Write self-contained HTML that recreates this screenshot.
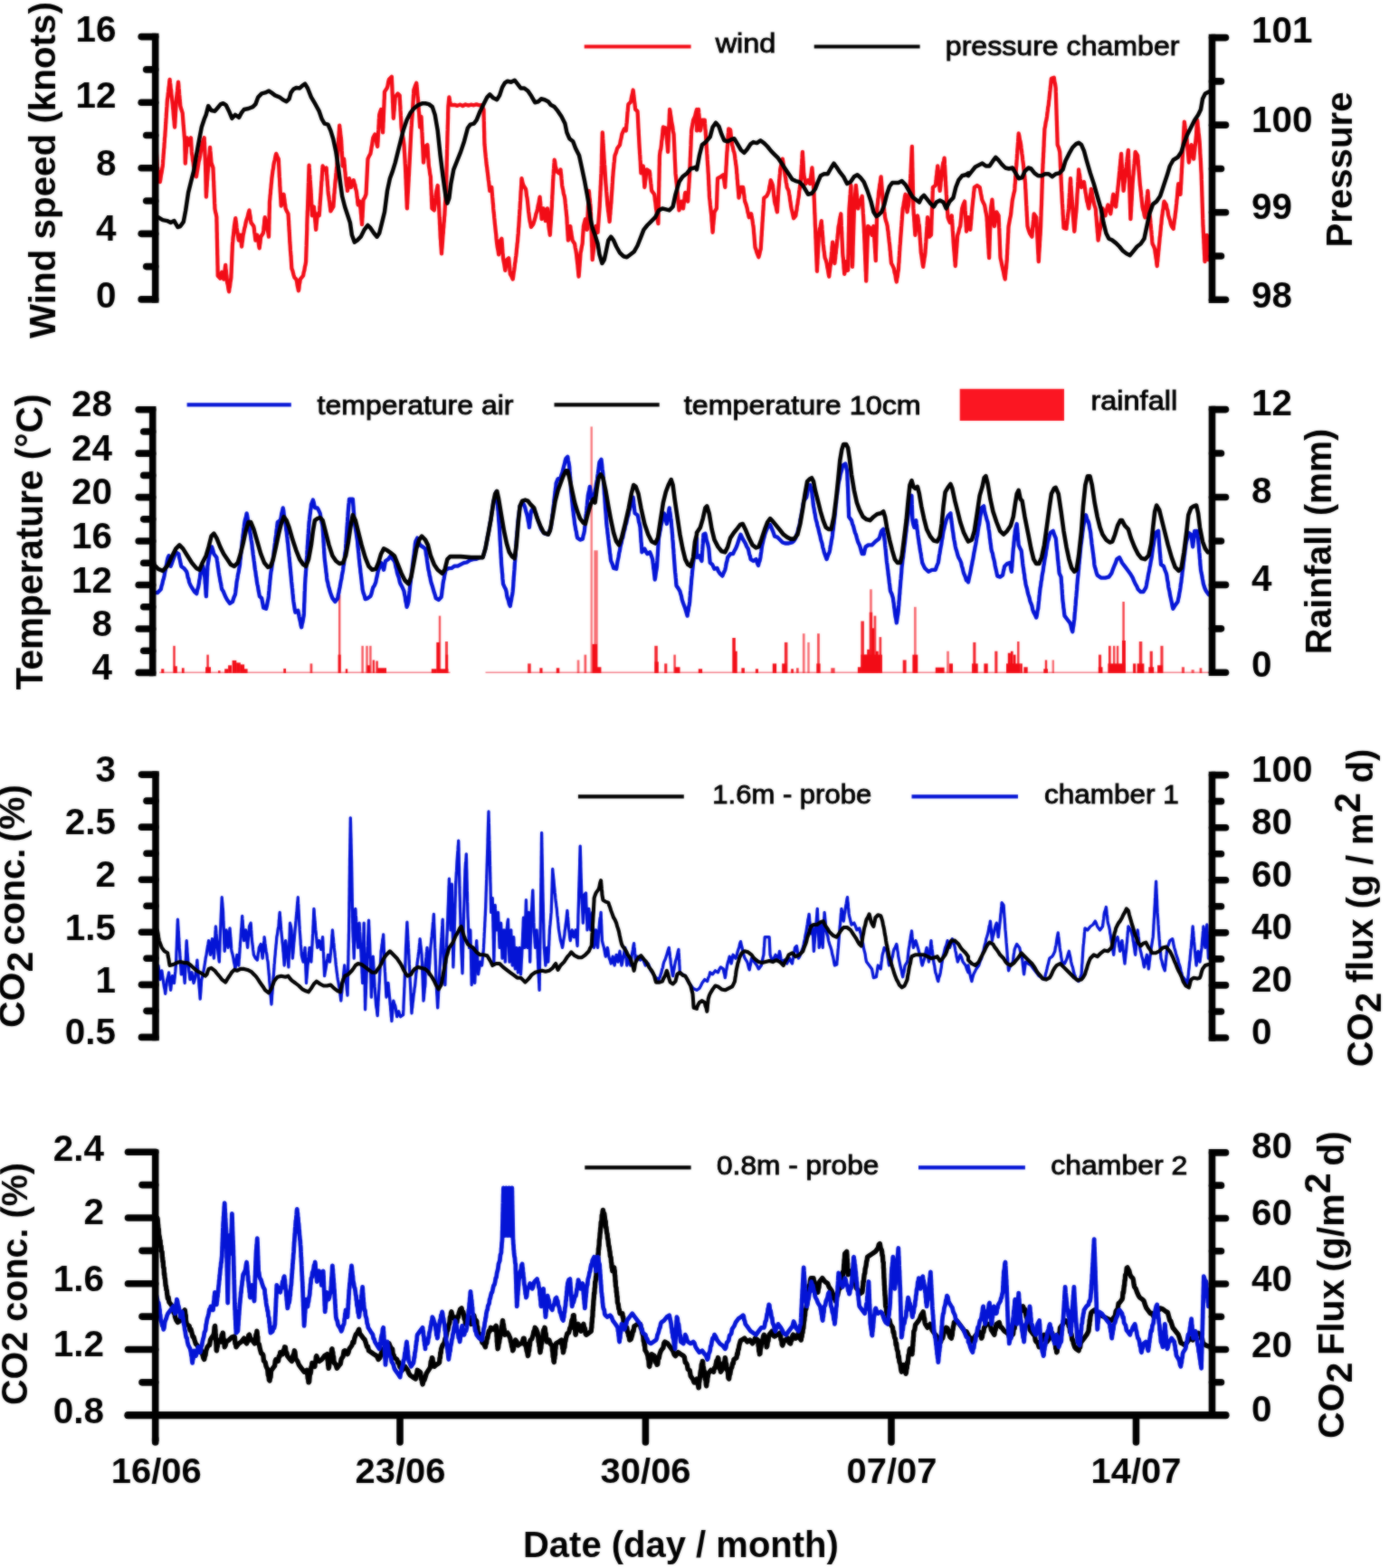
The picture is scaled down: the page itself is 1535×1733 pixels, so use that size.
<!DOCTYPE html>
<html lang="en">
<head>
<meta charset="utf-8">
<title>Wind, pressure, temperature, rainfall and CO2 time series</title>
<style>
html,body{margin:0;padding:0;background:#fff;}
body{width:1535px;height:1733px;overflow:hidden;}
svg{display:block;}
text.b{font-family:"Liberation Sans",Arial,Helvetica,sans-serif;font-weight:700;}
text.r{font-family:"Liberation Sans",Arial,Helvetica,sans-serif;font-weight:400;}
</style>
</head>
<body>
<svg width="1535" height="1733" viewBox="0 0 1535 1733">
<defs>
<filter id="soft" x="0" y="0" width="1535" height="1733" filterUnits="userSpaceOnUse" color-interpolation-filters="sRGB">
<feGaussianBlur in="SourceGraphic" stdDeviation="1" result="b"/>
<feComposite in="SourceGraphic" in2="b" operator="arithmetic" k1="0" k2="0.45" k3="0.55" k4="0"/>
</filter>
</defs>
<g filter="url(#soft)">
<rect x="0" y="0" width="1535" height="1733" fill="#fff"/>
<polyline points="172.0,152.3 172.1,155.1 172.3,159.2 172.5,161.1 172.7,165.4 172.9,167.7 173.1,171.8 173.3,173.4 173.5,177.8 173.7,180.1 173.9,183.5 174.5,187.9 175.1,190.4 175.7,194.9 176.3,197.3 176.8,201.1 177.4,197.8 178.0,193.6 178.6,190.9 179.2,186.7 179.8,183.5 180.0,180.9 180.2,176.7 180.4,175.2 180.7,170.6 180.9,168.8 181.1,164.8 181.4,163.3 181.6,158.7 181.8,156.9 182.0,152.7 182.3,151.0 182.5,147.2 182.7,144.4 182.9,142.1 183.1,137.9 183.3,135.8 183.5,131.5 183.7,129.4 183.9,125.1 184.1,123.1 184.3,119.2 184.5,117.2 184.7,113.2 185.0,109.5 185.4,107.4 185.8,102.9 186.1,101.3 186.5,96.7 186.9,94.7 187.2,90.6 187.6,87.8 188.0,91.8 188.3,93.4 188.7,98.1 189.1,99.7 189.4,104.2 189.8,106.6 190.2,110.6 190.5,113.2 190.8,115.7 191.1,119.7 191.4,121.7 191.7,126.0 191.9,128.2 192.2,131.7 192.5,133.7 192.8,138.3 193.1,140.5 193.3,137.0 193.5,134.9 193.6,131.0 193.8,128.8 194.0,124.6 194.2,122.2 194.4,118.4 194.6,115.8 194.8,111.7 195.0,109.3 195.3,106.6 195.7,102.9 196.0,100.5 196.3,96.6 196.6,94.3 197.0,90.7 197.3,93.4 197.6,97.5 197.9,100.3 198.1,104.2 198.4,106.5 198.7,110.8 199.0,113.0 199.3,117.1 200.5,121.3 201.7,124.9 201.9,127.6 202.2,131.6 202.4,134.1 202.7,138.3 202.9,140.1 203.2,144.1 203.4,146.1 203.7,150.3 203.9,152.2 204.2,156.2 204.3,160.0 204.3,161.7 204.4,166.1 204.5,167.7 204.6,171.9 204.6,174.2 204.7,178.0 204.8,180.6 205.0,177.2 205.2,174.7 205.4,170.7 205.7,168.8 205.9,164.5 206.1,162.6 206.3,158.1 206.5,156.1 206.7,152.3 207.9,155.3 209.1,160.1 210.1,157.0 211.0,152.3 211.2,155.3 211.4,159.6 211.6,162.6 211.8,167.2 212.0,169.9 212.5,172.4 213.0,177.2 213.5,179.2 214.0,183.7 214.5,185.3 215.0,189.4 215.9,192.6 216.9,195.3 217.6,191.1 218.2,187.7 218.9,183.5 219.6,178.9 220.4,176.1 221.2,171.8 221.9,167.2 222.5,164.6 223.2,160.1 224.4,155.9 225.7,152.3 225.8,156.2 226.0,157.7 226.1,162.0 226.2,164.0 226.4,168.6 226.5,170.8 226.7,174.4 226.8,176.4 226.9,180.7 227.1,183.5 227.1,186.3 227.2,190.0 227.3,192.4 227.4,196.8 227.4,198.7 227.5,202.4 227.6,205.1 227.6,209.3 227.7,210.9 227.8,215.0 227.9,217.7 228.1,213.6 228.3,212.0 228.5,207.5 228.7,205.4 228.9,200.6 229.2,198.3 229.4,194.2 229.6,191.4 229.9,188.4 230.2,184.2 230.5,182.6 230.7,177.9 231.0,176.0 231.3,172.1 231.6,170.1 231.9,165.7 232.1,163.0 232.4,166.9 232.7,169.3 233.0,173.3 233.2,175.7 233.5,179.6 234.5,182.8 235.5,185.5 235.6,188.3 235.8,192.4 235.9,194.8 236.0,199.1 236.2,200.7 236.3,205.5 236.4,207.2 236.6,211.4 236.7,213.5 236.9,218.4 237.0,220.0 237.1,224.4 237.3,226.5 237.4,230.4 238.1,234.5 238.7,236.3 239.4,240.2 239.4,243.8 239.5,245.7 239.6,249.8 239.6,251.6 239.7,256.1 239.8,257.8 239.8,262.2 239.9,264.4 240.0,268.5 240.0,270.3 240.1,274.4 240.2,276.8 240.2,280.9 240.3,282.7 240.4,286.6 240.4,288.8 240.5,293.1 240.6,294.8 240.6,298.9 240.7,301.1 240.7,304.7 243.3,307.6 244.3,304.7 245.2,300.8 246.2,303.9 247.2,308.6 247.6,305.9 248.0,302.1 248.4,299.8 248.8,295.8 249.2,293.0 249.5,297.1 249.8,298.8 250.1,303.2 250.5,305.3 250.8,310.1 251.1,312.5 251.8,314.9 252.4,319.3 253.1,322.3 253.5,318.8 254.0,316.8 254.5,312.2 254.9,310.2 255.4,306.7 255.5,303.3 255.7,300.7 255.8,296.6 255.9,294.7 256.1,290.3 256.2,288.8 256.3,284.3 256.4,282.4 256.6,277.9 256.7,276.5 256.8,272.3 257.0,269.5 257.3,266.5 257.6,262.1 257.9,260.4 258.3,256.2 258.6,253.6 258.9,250.0 259.6,245.4 260.3,241.2 260.7,244.9 261.1,246.9 261.5,251.5 261.9,253.9 262.5,257.4 263.2,262.1 263.8,265.6 264.8,262.3 265.8,259.8 266.1,263.7 266.4,265.2 266.8,269.8 267.1,272.5 267.5,268.5 267.9,266.6 268.3,262.7 268.7,259.8 269.4,256.6 270.2,252.3 270.9,250.2 271.6,246.1 272.6,242.4 273.6,239.8 274.6,235.3 275.5,232.4 276.0,236.4 276.5,238.7 277.0,243.1 277.5,246.1 280.4,250.0 280.8,252.4 281.2,256.8 281.6,258.9 282.0,262.7 282.4,265.6 283.4,262.1 284.3,259.8 284.9,264.2 285.5,266.2 286.1,271.5 286.7,274.4 287.1,270.5 287.5,268.5 287.9,264.3 288.2,261.7 290.8,257.8 291.2,254.7 291.6,250.3 292.0,247.7 292.3,243.1 292.7,240.2 293.5,244.3 294.3,246.2 295.1,250.0 295.7,254.5 296.4,257.2 297.0,261.7 297.1,259.3 297.2,254.8 297.3,253.5 297.3,248.9 297.4,247.1 297.5,243.0 297.6,241.2 297.6,236.9 297.7,235.2 297.8,231.1 297.9,229.1 297.9,225.0 298.0,222.6 298.3,220.1 298.6,215.9 298.9,214.2 299.1,210.1 299.4,208.2 299.7,204.1 300.0,201.9 300.3,197.8 300.6,195.3 301.0,192.4 301.5,188.3 302.0,186.3 302.4,182.4 302.9,179.6 303.7,176.7 304.5,172.3 305.2,169.9 306.5,173.1 307.8,175.7 308.0,178.2 308.1,182.3 308.3,184.6 308.5,188.9 308.6,190.9 308.8,195.4 309.0,197.1 309.2,201.1 309.3,205.3 309.5,207.1 309.7,211.6 309.9,214.0 310.1,218.1 310.3,220.6 310.5,224.9 310.7,227.5 311.4,224.1 312.2,221.7 312.9,217.7 313.6,214.8 314.0,218.5 314.4,220.7 314.8,224.9 315.2,226.4 315.6,230.4 317.1,233.8 318.5,236.3 318.7,239.1 318.9,242.6 319.1,244.8 319.2,248.7 319.4,250.6 319.6,255.0 319.8,256.8 320.0,261.1 320.1,262.6 320.3,267.3 320.5,269.5 320.7,272.2 320.9,276.2 321.1,278.2 321.4,282.4 321.6,283.9 321.8,288.1 322.0,290.6 322.2,294.1 322.4,296.9 323.4,299.4 324.4,303.6 325.4,306.7 327.3,308.6 328.0,311.0 328.6,315.3 329.2,317.9 329.9,321.3 330.4,318.8 330.8,314.3 331.3,312.4 331.8,308.6 335.1,304.7 335.7,300.9 336.3,299.1 336.9,295.1 337.5,292.8 338.1,289.1 338.2,285.4 338.3,283.5 338.4,279.5 338.5,277.2 338.6,273.3 338.7,271.4 338.8,267.0 338.9,265.0 339.0,261.3 339.1,259.3 339.2,255.3 339.3,253.2 339.3,248.9 339.4,246.5 339.5,242.8 339.6,240.2 339.7,237.6 339.8,233.3 340.0,231.7 340.1,227.3 340.2,225.2 340.3,221.3 340.4,219.2 340.5,215.2 340.6,213.3 340.7,209.5 340.8,207.3 340.9,203.1 341.0,201.4 341.1,197.1 341.2,195.6 341.3,190.9 341.4,189.2 341.5,184.8 341.6,182.6 341.8,186.0 342.0,188.3 342.2,192.4 342.5,194.9 342.7,198.9 342.9,201.1 343.1,205.0 343.3,207.2 343.6,210.9 343.7,214.2 343.9,216.6 344.0,220.2 344.2,222.5 344.3,226.9 344.5,228.4 344.6,233.0 344.8,234.9 344.9,238.3 345.6,235.6 346.2,231.0 346.9,228.5 347.2,232.4 347.5,234.0 347.8,238.5 348.0,240.3 348.3,244.7 348.6,246.9 348.9,251.5 349.2,253.9 349.5,249.9 349.8,247.1 350.2,242.8 350.5,240.1 350.8,236.3 352.7,238.3 353.0,234.6 353.2,232.4 353.4,228.3 353.6,226.4 353.8,222.9 354.0,220.8 354.3,216.6 354.5,214.5 354.7,210.9 354.9,207.0 355.1,205.5 355.3,200.9 355.6,199.4 355.8,194.8 356.0,193.0 356.2,188.9 356.4,187.1 356.6,183.5 358.6,187.4 360.6,185.5 360.8,187.8 361.0,192.4 361.3,194.2 361.5,198.5 361.8,200.7 362.0,204.8 362.3,206.9 362.5,210.9 362.9,215.0 363.3,216.7 363.8,221.1 364.2,223.0 364.6,227.4 365.0,229.8 365.4,233.4 368.4,228.5 368.6,225.9 368.9,221.6 369.1,219.3 369.3,214.9 369.6,213.2 369.8,209.0 370.1,207.1 370.3,203.1 370.7,199.0 371.0,197.4 371.3,192.8 371.6,190.5 372.0,186.3 372.3,183.5 372.5,181.0 372.7,177.1 372.9,174.7 373.1,171.2 373.3,169.2 373.5,164.7 373.6,163.1 373.8,158.9 374.0,157.3 374.2,152.9 374.4,151.4 374.6,147.3 374.8,145.5 375.0,141.4 375.2,138.6 375.6,142.6 376.0,145.2 376.4,149.9 376.8,152.0 377.2,156.2 377.3,159.8 377.5,161.8 377.7,166.2 377.9,167.8 378.0,172.0 378.2,174.0 378.4,178.0 378.6,179.7 378.7,183.5 379.4,180.3 380.1,175.7 380.4,178.3 380.7,182.3 380.9,184.1 381.2,188.8 381.5,190.6 381.8,194.5 382.1,197.2 382.5,200.2 383.0,204.9 383.5,206.9 384.0,210.9 384.5,208.0 385.0,203.3 385.5,201.2 386.0,197.2 386.6,199.6 387.3,204.6 387.9,207.0 389.4,202.7 390.8,199.2 391.6,202.6 392.3,204.2 393.0,208.3 393.8,210.9 394.2,213.5 394.6,217.5 395.0,219.7 395.3,224.0 395.7,226.5 397.7,222.6 398.0,225.5 398.3,229.4 398.6,231.8 398.9,235.8 399.2,238.1 399.4,242.0 399.7,244.2 400.0,248.0 400.2,245.2 400.4,241.3 400.6,239.7 400.7,235.5 400.9,233.2 401.1,229.5 401.2,227.0 401.4,223.0 401.6,220.7 403.1,218.4 404.5,214.8 404.7,211.5 404.8,209.6 405.0,205.6 405.1,203.2 405.3,199.5 405.4,197.4 405.6,193.3 405.7,191.3 405.9,187.3 406.0,185.1 406.2,181.1 406.3,179.0 406.5,175.7 407.9,172.5 409.4,169.9 410.0,166.7 410.6,162.6 411.2,159.8 411.8,155.1 412.3,152.3 414.3,148.4 415.0,152.4 415.8,154.6 416.5,159.5 417.2,162.0 417.4,158.1 417.6,156.4 417.8,151.6 417.9,149.9 418.1,145.5 418.3,143.4 418.5,138.8 418.7,137.0 418.8,132.7 419.0,130.4 419.2,126.9 420.2,123.4 421.1,121.0 421.4,124.5 421.6,126.8 421.9,130.8 422.1,133.0 422.4,137.4 422.6,139.3 422.9,143.4 423.1,146.4 423.2,142.5 423.4,140.8 423.5,136.0 423.7,134.3 423.8,129.9 423.9,127.4 424.1,123.5 424.2,121.0 424.4,117.1 424.5,115.0 424.6,110.9 424.8,108.7 424.9,104.2 425.0,101.4 427.6,97.5 428.4,95.1 429.2,90.3 429.9,87.8 432.9,84.8 433.0,88.4 433.1,90.5 433.3,94.2 433.4,96.9 433.5,100.3 433.6,102.9 433.8,106.8 433.9,109.0 434.0,113.2 434.2,114.7 434.3,118.9 434.4,121.2 434.6,125.1 434.7,127.0 434.8,130.8 435.1,127.8 435.4,123.6 435.7,121.6 435.9,117.1 436.2,114.5 436.5,109.9 436.8,107.3 439.7,103.4 441.7,105.4 441.8,109.2 442.0,111.2 442.2,115.6 442.4,117.8 442.5,121.9 442.7,123.9 442.9,127.9 443.1,130.5 443.3,134.4 443.4,137.1 443.6,140.5 444.1,144.7 444.6,146.3 445.1,150.8 445.6,152.8 446.1,157.1 446.5,160.1 446.7,162.9 446.9,167.6 447.1,169.8 447.3,173.7 447.5,176.6 447.7,180.9 447.9,183.5 448.0,185.9 448.2,190.1 448.3,192.1 448.4,196.2 448.6,198.5 448.7,203.1 448.8,205.0 449.0,209.3 449.1,210.8 449.2,215.2 449.3,217.2 449.5,221.9 449.6,223.6 449.7,227.8 449.9,230.4 450.0,226.5 450.2,224.9 450.4,220.4 450.5,218.3 450.7,214.5 450.9,212.1 451.1,207.9 451.2,206.3 451.4,202.1 451.6,199.6 451.7,195.6 451.9,193.8 452.1,189.4 452.2,187.2 452.4,183.5 452.6,180.0 452.7,178.0 452.9,174.2 453.0,171.9 453.2,167.9 453.3,166.2 453.5,161.8 453.6,159.8 453.8,156.0 453.9,154.0 454.1,150.2 454.2,147.8 454.4,144.4 454.6,140.8 454.8,138.9 455.0,134.7 455.2,132.7 455.5,128.6 455.7,127.0 455.9,122.4 456.1,120.8 456.3,117.1 456.5,113.3 456.7,110.3 456.9,106.1 457.1,103.7 457.3,99.5 458.8,95.1 460.2,91.7 460.5,95.1 460.8,97.4 461.1,101.1 461.3,103.6 461.6,107.4 461.9,109.5 462.2,113.2 462.4,116.9 462.6,119.0 462.8,122.7 463.1,124.5 463.3,128.6 463.5,130.8 463.7,134.8 463.9,137.2 464.1,140.5 464.6,137.3 465.0,132.3 465.5,128.8 465.7,132.3 465.8,134.8 466.0,138.6 466.1,140.8 466.3,145.2 466.5,147.5 466.6,151.7 466.8,153.7 466.9,158.3 467.1,160.1 467.3,164.0 467.4,166.6 467.6,170.6 467.7,172.9 467.9,177.0 468.0,179.6 468.4,175.3 468.8,173.3 469.2,168.6 469.6,166.4 470.0,162.0 470.0,162.0 472.3,160.1 472.6,163.1 472.8,167.3 473.0,169.7 473.2,174.4 473.5,176.6 473.7,180.7 473.9,183.5 474.6,187.1 475.2,192.2 475.9,195.3 476.0,198.2 476.1,202.6 476.3,204.4 476.4,208.8 476.6,210.6 476.7,215.3 476.9,216.8 477.0,221.7 477.1,223.6 477.3,227.7 477.4,230.4 479.8,232.4 480.2,228.3 480.6,225.7 480.9,221.1 481.3,218.8 481.7,214.8 482.4,210.8 483.0,208.6 483.7,205.0 483.9,208.0 484.1,211.8 484.3,214.0 484.5,218.3 484.7,220.3 484.9,224.6 485.0,226.5 485.2,230.4 485.4,234.0 485.5,236.6 485.7,240.5 485.9,243.1 486.0,247.5 486.2,249.2 486.3,253.4 486.5,255.9 486.6,259.8 486.8,263.5 487.1,266.0 487.3,270.6 487.5,273.1 487.8,277.2 488.0,280.3 488.2,276.5 488.5,273.8 488.8,269.6 489.0,267.3 489.3,262.4 489.5,259.8 489.8,257.4 490.0,253.0 490.3,251.0 490.5,246.6 490.8,244.6 491.0,240.3 491.3,238.3 491.5,234.3 491.7,230.7 491.8,229.1 492.0,224.3 492.2,222.5 492.4,218.5 492.5,216.5 492.7,212.8 492.9,210.4 493.1,207.0 493.1,203.2 493.2,201.8 493.3,197.0 493.4,195.2 493.4,191.6 493.5,189.0 493.6,185.5 493.7,183.0 493.7,179.1 493.8,177.0 493.9,173.2 494.0,171.2 494.0,166.6 494.1,164.9 494.2,161.2 494.3,159.0 494.4,154.4 494.4,152.3 494.5,149.8 494.6,145.6 494.7,143.4 494.8,138.6 494.9,136.9 495.0,132.5 495.1,130.5 495.1,125.9 495.2,124.0 495.3,119.6 495.4,117.1 495.7,114.4 496.1,110.0 496.4,107.3 497.1,111.6 497.8,115.1 499.3,116.1 502.3,115.9 505.4,116.9 508.4,115.6 511.4,117.0 514.4,115.5 517.4,116.6 520.5,115.7 523.5,116.3 526.5,115.4 529.5,116.3 532.5,116.1 534.5,121.0 534.6,123.4 534.6,127.8 534.7,129.8 534.8,133.9 534.9,135.8 534.9,139.9 535.0,141.7 535.1,145.7 535.2,147.3 535.2,151.7 535.3,153.7 535.4,157.6 535.5,160.1 535.8,162.5 536.1,166.9 536.4,169.2 536.8,173.7 537.1,175.9 537.4,179.6 537.8,183.0 538.2,185.2 538.6,189.2 539.0,191.7 539.4,195.3 539.8,199.1 540.2,201.1 540.6,205.5 540.9,207.4 541.3,210.9 543.3,207.0 543.6,210.9 543.8,213.1 544.1,217.2 544.4,220.1 544.7,224.3 545.0,226.4 545.2,230.4 545.6,234.6 545.9,236.5 546.2,240.5 546.5,242.9 546.9,247.6 547.2,250.0 547.5,253.0 547.9,256.7 548.2,259.0 548.5,263.2 548.8,265.9 549.2,269.5 549.8,273.6 550.5,277.0 551.1,281.3 551.5,278.7 551.9,274.7 552.3,272.7 552.7,268.2 553.1,265.6 554.4,263.7 554.7,267.2 554.9,269.6 555.1,273.5 555.3,275.6 555.5,279.9 555.8,281.3 556.0,285.2 556.6,288.9 557.2,291.7 557.8,295.8 558.3,298.8 559.0,294.3 559.6,291.8 560.3,287.1 562.2,285.2 562.6,288.4 562.9,292.9 563.2,294.9 563.5,299.6 563.8,302.8 565.3,305.3 566.7,308.6 567.2,305.6 567.7,301.4 568.2,298.8 568.7,294.9 569.1,291.0 569.5,289.3 569.9,285.1 570.3,282.8 570.7,279.3 571.0,275.2 571.3,273.4 571.6,269.3 572.0,267.1 572.3,262.2 572.6,259.8 572.8,257.2 573.0,252.7 573.3,250.4 573.5,246.5 573.7,243.8 573.9,239.4 574.1,237.2 574.3,233.1 574.6,230.4 574.7,227.7 574.9,224.0 575.1,221.7 575.3,218.0 575.4,215.9 575.6,211.5 575.8,210.0 576.0,206.0 576.2,204.1 576.3,199.9 576.5,197.2 577.5,202.0 578.5,205.0 581.0,208.9 581.5,211.6 582.0,216.5 582.5,218.5 583.0,222.6 583.4,226.4 583.7,229.5 584.1,233.8 584.5,236.4 584.9,240.2 585.6,244.6 586.2,246.9 586.9,251.0 589.2,248.0 590.4,244.3 591.6,240.2 592.4,236.3 593.3,233.9 594.1,230.4 594.7,226.8 595.4,224.4 596.0,220.5 596.6,217.7 596.9,221.6 597.1,223.0 597.4,227.4 597.6,229.4 597.9,233.6 598.1,235.6 598.4,239.4 598.6,242.2 599.3,238.0 599.9,234.6 600.6,230.4 601.1,233.6 601.7,237.9 602.3,239.9 602.9,244.1 603.4,241.3 603.9,236.9 604.4,234.6 604.9,230.4 605.1,232.8 605.4,237.4 605.6,240.0 605.9,243.9 606.2,246.4 606.4,250.0 606.9,253.7 607.3,255.9 607.8,259.8 608.0,257.1 608.2,252.6 608.4,250.5 608.7,246.5 608.9,244.3 609.1,239.9 609.3,237.4 609.5,233.3 609.7,230.4 609.9,227.7 610.0,223.5 610.2,220.9 610.3,216.6 610.5,214.6 610.7,210.3 610.8,208.3 611.0,204.0 611.1,201.1 611.3,198.5 611.5,194.4 611.7,192.4 611.9,188.1 612.1,186.2 612.3,182.4 612.5,180.0 612.7,176.7 613.3,179.3 613.8,183.9 614.4,185.6 615.0,189.4 617.6,191.4 619.5,187.4 619.8,190.9 620.2,193.4 620.5,197.5 620.8,200.3 621.1,204.5 621.5,207.0 622.2,209.7 622.9,214.2 623.7,216.5 624.4,220.7 624.7,224.2 625.0,226.4 625.4,231.0 625.7,233.4 626.0,237.1 626.4,240.2 626.5,242.6 626.7,247.2 626.9,248.8 627.1,253.2 627.3,255.2 627.5,259.6 627.7,261.8 627.9,265.6 628.4,263.1 628.9,258.9 629.3,256.5 629.8,252.2 630.3,250.0 630.7,253.9 631.2,255.9 631.7,260.3 632.1,262.0 632.6,265.6 635.1,269.5 635.8,274.1 636.4,276.8 637.1,281.3 637.4,284.8 637.7,287.1 638.1,290.7 638.4,293.0 638.7,297.0 639.0,299.4 639.3,303.5 639.6,305.7 639.9,301.9 640.1,299.8 640.4,295.2 640.6,293.2 640.9,288.4 641.1,286.7 641.4,281.8 641.6,279.3 642.2,276.9 642.9,272.6 643.6,269.5 643.8,267.1 644.0,262.5 644.2,260.3 644.5,255.7 644.7,253.8 644.9,250.0 645.9,245.8 646.9,242.2 647.5,246.7 648.2,249.2 648.8,253.9 649.0,251.3 649.1,247.5 649.2,244.9 649.4,241.2 649.5,238.9 649.7,234.9 649.8,233.1 649.9,228.7 650.1,227.0 650.2,222.6 650.4,220.6 650.5,216.5 650.6,214.7 650.8,210.9 651.1,213.6 651.4,218.1 651.8,220.1 652.1,224.5 652.4,226.6 652.7,230.4 652.8,233.9 653.0,236.1 653.1,240.6 653.2,242.3 653.3,247.0 653.4,248.9 653.5,253.1 653.6,254.9 653.7,259.2 653.8,261.5 653.9,265.7 654.0,267.8 654.1,272.2 654.3,273.8 654.4,278.0 654.5,280.2 654.6,284.7 654.7,287.1 655.1,283.1 655.5,280.3 655.9,276.3 656.3,273.8 656.6,269.5 657.0,265.5 657.3,263.5 657.6,259.1 657.9,257.4 658.3,252.9 658.6,250.0 659.6,254.3 660.6,256.8 660.8,252.6 661.0,250.8 661.3,246.7 661.5,244.4 661.8,239.9 662.0,237.5 662.3,233.4 662.5,230.4 662.7,228.0 662.8,224.2 663.0,222.0 663.1,218.0 663.3,216.2 663.4,212.2 663.6,210.0 663.7,205.7 663.9,204.2 664.0,199.7 664.2,198.1 664.3,193.6 664.5,191.4 664.6,188.9 664.7,184.5 664.8,182.4 664.9,178.0 665.0,176.0 665.0,171.6 665.1,169.6 665.2,165.2 665.3,162.8 665.4,158.9 665.5,156.7 665.6,152.2 665.7,149.8 665.8,146.4 666.0,148.8 666.2,153.2 666.4,155.4 666.6,159.8 666.8,161.4 667.0,166.1 667.2,168.1 667.4,171.8 667.6,175.6 667.8,177.9 668.0,181.9 668.3,184.3 668.5,188.3 668.7,191.0 668.9,194.8 669.1,197.1 669.3,201.1 669.6,204.8 669.8,206.9 670.1,211.2 670.3,213.0 670.6,217.6 670.8,219.3 671.1,223.9 671.3,226.5 671.7,229.1 672.1,233.3 672.5,235.4 672.9,239.2 673.3,241.7 673.6,245.1 673.9,242.3 674.1,238.2 674.4,236.3 674.6,232.3 674.9,230.3 675.1,226.2 675.4,224.3 675.6,220.7 675.8,217.0 676.0,214.6 676.3,210.4 676.5,208.0 676.7,203.7 676.9,201.7 677.1,197.3 677.3,195.3 677.6,191.4 677.9,187.6 678.2,185.4 678.5,180.9 678.9,178.5 679.2,174.2 679.5,171.8 680.8,168.7 682.1,164.0 685.0,160.1 685.8,155.4 686.5,152.8 687.3,148.4 688.6,145.2 689.9,142.5 691.8,144.4 692.1,142.1 692.4,137.4 692.7,135.5 693.0,131.1 693.2,128.7 693.5,124.3 693.8,122.2 694.1,118.0 694.4,115.1 696.7,113.2 697.4,110.4 698.2,106.1 698.9,103.5 699.6,99.5 700.0,101.9 700.4,106.1 700.7,108.1 701.1,112.4 701.5,114.6 701.8,118.1 702.2,121.0 704.5,122.9 704.7,125.6 704.9,129.4 705.0,131.4 705.2,135.8 705.3,137.8 705.5,141.8 705.7,144.3 705.8,148.1 706.0,150.6 706.2,154.3 706.3,156.5 706.5,160.1 706.7,163.5 706.9,166.1 707.1,170.2 707.3,171.8 707.5,176.2 707.7,178.0 707.9,182.3 708.0,184.7 708.2,188.6 708.4,191.4 709.6,187.1 710.8,183.5 711.0,187.8 711.2,190.0 711.5,194.4 711.7,196.8 711.9,201.0 712.1,202.7 712.3,207.0 712.7,204.5 713.1,200.0 713.5,197.9 713.9,193.2 714.3,191.5 714.7,187.4 717.8,189.4 718.2,191.7 718.5,196.0 718.8,198.4 719.2,202.3 719.5,204.3 719.8,208.4 720.2,210.9 723.1,214.8 723.5,217.4 723.9,221.5 724.3,223.6 724.7,227.6 725.0,230.4 725.5,233.4 726.0,237.7 726.5,240.0 726.9,244.1 727.4,247.1 727.5,243.8 727.5,241.3 727.6,237.3 727.6,235.8 727.7,231.3 727.8,229.7 727.8,225.3 727.9,223.7 728.0,219.1 728.0,217.6 728.1,213.2 728.1,211.5 728.2,207.6 728.3,205.7 728.3,201.7 728.4,199.7 728.5,195.3 728.5,193.1 728.6,189.7 728.6,187.3 728.7,183.2 728.8,181.6 728.8,177.2 728.9,175.2 729.0,171.8 729.6,167.0 730.3,164.7 730.9,160.1 731.2,155.9 731.6,154.0 731.9,150.1 732.2,147.9 732.5,143.5 732.9,140.5 735.8,141.5 736.1,145.1 736.4,147.8 736.7,152.0 737.0,153.9 737.3,158.4 737.6,161.0 737.9,164.9 738.1,167.9 738.3,164.1 738.4,162.0 738.5,158.0 738.7,155.9 738.8,152.0 738.9,149.7 739.1,145.4 739.2,143.7 739.3,139.2 739.4,137.0 739.6,132.9 739.7,130.7 739.8,126.9 740.0,124.3 740.1,121.0 740.6,123.2 741.1,127.5 741.6,130.0 742.1,134.3 742.6,136.6 743.3,140.2 743.9,145.1 744.6,148.4 744.7,150.8 744.9,155.4 745.0,157.2 745.2,161.4 745.3,163.5 745.4,167.0 745.6,169.0 745.7,173.5 745.8,175.8 746.0,179.4 746.1,181.3 746.3,185.8 746.4,188.0 746.5,191.4 746.9,195.1 747.2,197.5 747.5,201.3 747.9,204.0 748.2,208.5 748.5,210.9 748.8,213.4 749.1,217.9 749.3,219.4 749.6,223.7 749.9,225.9 750.2,229.6 750.5,232.4 751.3,228.3 752.1,226.1 753.0,222.6 754.0,226.2 755.0,230.4 755.4,227.5 755.9,223.2 756.4,220.1 756.8,215.5 757.3,212.9 758.3,216.9 759.3,219.2 760.2,222.6 760.4,220.0 760.6,215.6 760.8,214.0 761.0,209.2 761.2,207.8 761.4,203.4 761.6,201.3 761.8,196.8 762.0,195.3 762.2,191.4 762.3,187.4 762.4,186.0 762.6,181.5 762.7,179.1 762.8,175.1 763.0,172.8 763.1,168.9 763.2,167.1 763.4,162.6 763.5,160.9 763.6,156.4 763.7,154.5 763.9,150.1 764.0,148.4 764.1,144.4 764.8,140.2 765.4,137.3 766.1,132.7 768.0,128.8 769.0,124.4 770.0,121.0 770.0,125.2 770.0,127.3 770.0,131.3 770.0,133.7 770.0,138.5 770.0,140.6 770.0,144.4 770.3,141.8 770.6,137.0 770.8,135.1 771.1,130.5 771.4,128.5 771.7,124.2 772.0,121.0 772.2,124.7 772.5,127.1 772.8,131.2 773.1,134.0 773.4,138.2 773.6,140.4 773.9,144.4 774.6,141.1 775.2,135.7 775.9,132.7 778.8,132.7 779.0,136.2 779.2,138.6 779.4,142.5 779.7,144.1 779.9,148.8 780.1,150.1 780.3,154.8 780.5,156.3 780.7,160.1 780.9,163.8 781.1,165.9 781.3,169.7 781.5,171.9 781.7,176.2 781.9,178.3 782.1,182.5 782.3,184.2 782.5,188.6 782.7,191.4 782.9,193.7 783.0,198.0 783.2,200.0 783.3,204.3 783.5,206.2 783.6,210.2 783.8,211.8 783.9,216.6 784.1,218.7 784.5,221.9 784.9,226.5 785.2,229.0 785.6,233.1 786.0,236.3 786.3,239.1 786.5,243.9 786.8,246.3 787.1,250.7 787.3,252.8 787.6,256.8 787.9,254.4 788.1,249.5 788.4,247.4 788.7,243.5 789.0,241.3 789.3,236.9 789.5,234.3 791.9,230.4 792.0,227.8 792.1,224.2 792.2,222.3 792.3,217.8 792.4,215.9 792.5,212.0 792.6,210.1 792.7,205.9 792.8,203.6 793.0,199.4 793.1,197.2 796.4,195.3 799.3,193.3 799.8,197.5 800.3,199.4 800.8,204.0 801.3,207.0 801.4,203.1 801.6,200.8 801.8,197.1 802.0,194.7 802.2,190.5 802.3,188.6 802.5,184.4 802.7,182.1 802.9,177.6 803.0,175.3 803.2,171.8 803.4,168.4 803.7,166.0 803.9,161.5 804.1,159.7 804.3,155.2 804.5,152.5 804.7,148.7 805.0,146.2 805.2,142.5 807.1,143.5 807.5,146.6 807.9,150.8 808.3,152.7 808.7,157.6 809.1,160.1 809.8,162.5 810.6,166.7 811.3,168.1 812.0,171.8 812.4,175.6 812.8,177.8 813.2,181.7 813.6,183.7 814.0,187.4 814.2,191.3 814.5,192.8 814.7,197.7 815.0,199.3 815.2,203.5 815.5,206.0 815.8,210.1 816.0,211.8 816.3,215.9 816.5,218.7 817.3,214.1 818.1,211.8 818.9,207.0 821.2,207.0 821.6,209.4 822.0,213.7 822.4,215.9 822.8,219.8 823.2,222.6 824.4,225.6 825.7,230.4 826.4,234.5 827.0,236.4 827.7,240.2 830.2,236.3 830.8,240.3 831.4,242.7 832.0,247.3 832.5,250.0 832.8,252.6 833.1,257.3 833.4,259.7 833.7,263.6 833.9,266.1 834.2,270.3 834.5,273.4 835.5,275.9 836.4,279.3 838.4,284.2 839.2,281.5 840.0,277.6 840.7,275.4 840.9,272.4 841.1,268.8 841.3,266.6 841.5,261.9 841.7,260.4 841.9,255.6 842.1,253.8 842.3,250.0 842.5,246.1 842.7,244.5 842.9,240.1 843.1,238.1 843.3,233.6 843.5,232.0 843.7,227.9 843.9,225.2 844.1,221.0 844.3,218.7 847.2,216.8 848.5,214.2 849.7,210.9 850.4,206.1 851.0,203.8 851.7,199.2 852.9,201.8 854.0,205.0 854.4,208.9 854.8,211.3 855.2,216.4 855.6,218.7 856.0,222.6 856.7,225.8 857.5,227.8 858.2,231.9 858.9,234.3 859.1,230.7 859.3,227.9 859.5,223.7 859.7,221.7 859.9,217.3 860.1,214.7 860.3,210.9 860.6,207.3 860.9,204.6 861.1,200.5 861.4,198.3 861.7,193.7 862.0,191.7 862.2,187.4 863.1,183.3 863.9,179.9 864.8,175.7 865.4,179.2 866.1,184.0 866.7,187.4 867.2,190.0 867.7,194.6 868.2,196.9 868.7,201.3 869.2,203.0 869.7,207.0 871.6,210.9 872.1,214.4 872.6,216.6 873.1,221.3 873.6,223.7 874.1,227.9 874.6,230.4 875.4,233.7 876.3,237.8 877.1,241.2 879.4,238.3 879.9,234.3 880.4,232.5 880.9,227.6 881.4,225.7 881.9,221.2 882.4,218.7 882.8,216.1 883.2,211.3 883.6,209.3 884.1,205.5 884.5,203.2 884.9,199.2 885.1,195.5 885.3,193.3 885.5,189.2 885.7,187.0 885.9,182.8 886.1,181.2 886.3,176.7 886.5,174.4 886.7,170.2 886.9,167.9 887.1,172.1 887.3,174.1 887.5,178.8 887.7,180.6 887.9,185.1 888.0,187.8 888.2,191.4 888.9,196.0 889.5,198.5 890.2,203.1 893.1,199.2 895.1,203.1 895.6,199.8 896.0,195.6 896.5,192.9 897.0,188.4 897.4,185.5 897.7,189.0 897.9,191.1 898.2,195.3 898.4,197.5 898.6,202.1 898.9,204.2 899.1,207.9 899.4,210.9 899.5,213.0 899.6,217.5 899.7,219.4 899.9,223.5 900.0,225.7 900.1,229.3 900.2,231.5 900.3,235.5 900.5,237.8 900.6,241.3 900.7,243.3 900.8,247.6 900.9,250.0 901.1,252.3 901.2,256.5 901.3,258.9 901.4,263.1 901.6,265.1 901.7,269.5 901.8,271.4 901.9,275.4 902.0,277.5 902.2,281.9 902.3,283.6 902.4,287.7 902.5,289.6 902.7,293.8 902.8,296.0 902.9,299.8 903.0,297.5 903.2,293.3 903.4,291.2 903.5,286.8 903.7,284.8 903.8,281.0 904.0,278.6 904.1,274.7 904.3,272.6 904.4,268.5 904.6,266.2 904.7,262.6 904.9,259.8 905.4,257.3 906.0,252.9 906.6,250.7 907.2,247.1 907.8,244.1 908.0,247.8 908.3,249.6 908.5,253.9 908.8,256.4 909.0,260.3 909.3,262.7 909.5,267.1 909.7,269.5 910.1,272.3 910.5,276.6 910.9,278.5 911.3,282.9 911.7,285.2 912.7,287.5 913.6,291.0 914.3,295.4 914.9,298.0 915.6,302.6 916.2,305.7 916.6,302.0 917.0,299.5 917.4,295.1 917.8,292.9 918.1,289.1 918.4,285.4 918.7,283.7 919.0,279.2 919.3,277.2 919.5,273.2 919.8,271.3 920.1,267.6 920.4,270.5 920.8,274.8 921.1,277.0 921.4,281.2 921.8,283.6 922.1,288.5 922.4,291.0 922.8,287.5 923.1,285.6 923.4,281.1 923.8,279.6 924.1,275.2 924.5,273.1 924.8,269.5 925.1,265.8 925.4,263.8 925.8,259.1 926.1,257.3 926.4,252.6 926.7,250.0 927.4,247.4 928.0,242.5 928.6,240.1 929.3,236.3 929.4,238.9 929.6,242.8 929.7,245.1 929.8,249.4 930.0,251.2 930.1,255.3 930.3,257.3 930.4,261.6 930.5,263.1 930.7,267.2 930.8,269.3 931.0,273.6 931.1,276.0 931.2,279.3 931.5,283.3 931.8,285.2 932.1,289.7 932.4,292.1 932.6,296.5 932.9,299.1 933.2,302.8 933.7,299.9 934.2,295.2 934.7,292.8 935.1,289.1 935.8,291.5 936.4,296.5 937.1,298.8 937.2,295.0 937.2,293.1 937.3,289.0 937.3,287.0 937.4,282.7 937.5,280.8 937.5,276.5 937.6,274.8 937.7,270.4 937.7,268.3 937.8,264.0 937.8,261.8 937.9,257.5 938.0,255.8 938.0,251.7 938.1,249.4 938.2,245.5 938.2,243.2 938.3,239.4 938.3,236.9 938.4,233.1 938.5,230.4 938.7,228.0 939.0,223.9 939.2,221.6 939.4,217.3 939.7,214.7 939.9,211.0 940.2,208.5 940.4,205.0 940.5,207.4 940.5,212.1 940.6,213.8 940.6,218.0 940.7,219.7 940.7,224.1 940.8,226.2 940.9,230.5 940.9,232.3 941.0,236.8 941.0,238.3 941.1,243.0 941.1,245.0 941.2,249.0 941.2,251.0 941.3,255.5 941.3,257.3 941.4,261.3 941.4,263.1 941.5,267.4 941.6,269.7 941.6,274.1 941.7,275.6 941.7,280.2 941.8,281.7 941.8,285.9 941.9,287.8 941.9,292.5 942.0,294.9 942.1,291.3 942.2,289.4 942.3,285.4 942.4,283.4 942.5,279.3 942.5,277.4 942.6,272.6 942.7,270.8 942.8,267.1 942.9,264.4 943.0,260.7 943.1,258.7 943.2,254.3 943.3,252.3 943.4,248.2 943.5,246.1 943.6,242.3 943.7,239.9 943.8,236.3 943.8,234.4 943.9,230.4 944.2,226.5 944.4,224.9 944.7,220.2 944.9,218.6 945.2,213.7 945.4,211.8 945.7,207.7 945.9,205.0 946.2,208.6 946.5,211.0 946.8,215.1 947.1,217.6 947.4,221.7 947.7,223.2 947.9,228.1 948.2,230.4 949.2,226.1 950.2,222.6 951.5,220.6 952.7,216.8 952.9,219.2 953.1,223.1 953.3,225.5 953.4,229.7 953.6,231.6 953.8,235.7 954.0,237.7 954.2,241.3 954.3,243.7 954.5,247.2 954.7,250.0 954.8,252.3 954.9,256.4 955.1,258.6 955.2,262.6 955.3,264.6 955.5,268.3 955.6,270.4 955.7,275.0 955.8,276.4 956.0,281.0 956.1,282.6 956.2,287.0 956.3,289.0 956.5,293.0 956.6,295.1 956.7,299.3 956.9,301.1 957.0,305.3 957.1,307.2 957.2,310.6 957.3,308.1 957.4,303.8 957.5,301.9 957.6,298.1 957.7,296.2 957.8,291.5 957.9,290.3 958.0,286.1 958.1,283.7 958.2,279.8 958.3,277.8 958.4,274.0 958.5,271.6 958.6,267.7 958.7,265.5 958.8,261.7 958.9,259.7 959.0,255.4 959.1,253.3 959.2,250.0 961.5,251.9 962.5,255.6 963.5,259.8 964.1,256.9 964.8,252.4 965.4,250.0 965.6,253.7 965.8,256.0 966.0,259.7 966.2,261.8 966.4,266.6 966.6,268.5 966.8,273.1 967.0,274.9 967.2,279.3 967.4,281.2 967.6,285.6 967.8,288.1 967.9,284.6 967.9,282.6 968.0,278.4 968.1,276.3 968.2,272.4 968.3,270.5 968.4,266.6 968.4,264.4 968.5,260.4 968.6,258.0 968.7,254.2 968.8,251.9 968.9,248.0 968.9,246.3 969.0,242.2 969.1,240.3 969.2,236.1 969.3,233.7 969.3,230.4 969.7,226.5 970.0,224.4 970.3,220.0 970.7,218.2 971.0,213.3 971.3,210.9 971.8,208.2 972.2,204.1 972.7,202.2 973.2,197.9 973.6,195.3 973.9,198.6 974.1,200.9 974.4,205.1 974.6,207.1 974.9,211.8 975.1,213.9 975.4,218.2 975.6,220.7 976.0,223.1 976.4,227.6 976.9,229.6 977.3,234.0 977.7,236.3 978.1,240.2 979.0,244.1 979.8,246.2 980.7,250.0 981.1,254.0 981.5,255.8 981.9,260.2 982.2,262.8 982.6,266.6 983.0,269.5 983.3,272.3 983.6,276.5 983.9,277.9 984.1,282.1 984.4,284.4 984.7,288.6 985.0,291.0 986.4,293.5 987.9,296.9 988.6,301.4 989.4,303.7 990.1,308.7 990.8,311.5 991.3,307.7 991.8,306.0 992.3,301.2 992.8,298.8 993.0,296.3 993.2,291.8 993.5,289.9 993.7,285.0 993.9,282.9 994.1,278.5 994.3,276.2 994.5,272.4 994.8,269.5 995.0,266.8 995.2,263.1 995.4,260.8 995.7,257.1 995.9,254.8 996.1,251.1 996.3,249.2 996.6,244.8 996.8,242.7 997.0,238.9 997.2,236.7 997.5,232.8 997.7,230.4 998.3,228.2 998.9,223.7 999.4,221.6 1000.0,217.1 1000.6,214.8 1000.9,218.9 1001.3,220.9 1001.6,225.4 1001.9,227.0 1002.2,231.5 1002.6,234.3 1003.2,230.1 1003.9,227.4 1004.5,222.6 1004.7,218.9 1004.9,216.9 1005.1,212.5 1005.3,210.7 1005.5,206.5 1005.7,204.5 1005.9,200.3 1006.1,197.9 1006.3,193.7 1006.5,191.4 1006.6,188.7 1006.8,184.7 1006.9,181.9 1007.1,178.1 1007.2,175.6 1007.4,171.6 1007.5,168.8 1007.7,164.5 1007.9,162.0 1007.9,166.0 1008.0,167.8 1008.1,171.8 1008.1,173.7 1008.2,178.0 1008.3,180.3 1008.3,184.5 1008.4,186.3 1008.5,190.6 1008.6,192.6 1008.6,197.0 1008.7,198.8 1008.8,203.1 1008.8,205.4 1008.9,209.3 1009.0,211.0 1009.1,215.2 1009.1,217.7 1009.2,221.7 1009.3,223.6 1009.3,227.9 1009.4,230.4 1009.6,233.0 1009.8,237.3 1010.1,239.6 1010.3,244.3 1010.5,246.0 1010.7,250.3 1010.9,252.6 1011.2,256.9 1011.4,259.8 1011.7,256.4 1012.1,254.3 1012.5,250.0 1012.8,248.2 1013.2,243.7 1013.5,242.1 1013.9,238.3 1014.6,241.5 1015.2,246.3 1015.9,250.0 1016.1,253.0 1016.3,257.3 1016.5,259.5 1016.7,263.5 1016.9,265.6 1017.2,270.3 1017.4,272.3 1017.6,276.5 1017.8,279.3 1018.3,281.9 1018.8,285.7 1019.2,288.4 1019.7,292.4 1020.2,294.9 1020.6,291.6 1021.1,289.0 1021.6,285.0 1022.0,283.2 1022.5,279.3 1022.7,275.6 1022.9,273.8 1023.1,270.0 1023.3,267.9 1023.5,264.0 1023.7,261.6 1023.9,257.4 1024.1,255.8 1024.3,252.0 1024.5,249.9 1024.7,245.5 1024.9,243.8 1025.0,240.2 1025.3,243.0 1025.6,246.7 1025.9,248.8 1026.2,252.7 1026.4,255.1 1026.7,259.2 1027.0,261.7 1029.0,259.8 1029.1,256.4 1029.2,254.4 1029.3,250.0 1029.4,248.1 1029.5,243.6 1029.6,242.0 1029.8,237.2 1029.9,235.3 1030.0,231.4 1030.1,229.6 1030.2,224.8 1030.3,223.3 1030.5,219.1 1030.6,217.0 1030.7,212.7 1030.8,210.9 1030.9,207.0 1033.8,205.0 1034.2,201.7 1034.5,199.4 1034.8,195.3 1035.2,193.6 1035.5,189.1 1035.9,187.1 1036.2,183.5 1036.5,185.7 1036.8,190.4 1037.0,191.9 1037.3,196.5 1037.6,198.3 1037.9,202.6 1038.2,204.5 1038.4,208.6 1038.7,210.9 1039.1,207.5 1039.4,205.5 1039.7,200.9 1040.0,199.4 1040.4,195.1 1040.7,193.4 1041.0,188.8 1041.3,187.4 1041.7,183.5 1042.3,179.9 1043.0,178.2 1043.6,174.7 1043.8,176.9 1043.9,181.4 1044.1,183.4 1044.3,187.1 1044.4,189.2 1044.6,193.1 1044.8,195.3 1044.9,199.6 1045.1,201.2 1045.2,205.3 1045.4,207.1 1045.6,210.9 1045.8,214.9 1046.0,216.5 1046.2,221.5 1046.4,223.5 1046.7,228.0 1046.9,229.9 1047.1,234.5 1047.3,236.4 1047.5,240.2 1048.7,243.5 1049.9,246.1 1050.8,241.9 1051.8,238.3 1052.0,241.9 1052.2,243.8 1052.4,248.0 1052.6,250.2 1052.8,254.7 1053.0,256.6 1053.2,260.6 1053.4,262.4 1053.6,267.2 1053.8,269.5 1054.0,272.4 1054.3,276.4 1054.5,278.2 1054.8,282.2 1055.0,284.6 1055.2,288.1 1055.5,290.0 1055.7,294.0 1056.0,291.4 1056.2,287.0 1056.4,285.3 1056.7,280.6 1056.9,279.0 1057.1,274.7 1057.3,273.0 1057.6,268.3 1057.8,266.4 1058.0,262.0 1058.3,259.8 1059.3,256.8 1060.2,252.4 1061.2,250.0 1061.5,247.3 1061.9,243.0 1062.2,240.9 1062.5,236.3 1062.8,233.9 1063.2,230.4 1064.6,225.8 1066.1,222.6 1066.3,226.3 1066.4,228.2 1066.6,232.2 1066.8,234.3 1067.0,238.4 1067.2,240.5 1067.3,244.4 1067.5,246.3 1067.7,250.4 1067.9,252.1 1068.0,255.8 1068.4,253.0 1068.8,248.9 1069.2,247.3 1069.6,243.0 1070.0,240.2 1070.0,240.2 1070.6,244.3 1071.2,246.2 1071.8,251.0 1072.3,253.9 1072.6,250.2 1072.9,248.0 1073.2,243.6 1073.5,241.2 1073.7,236.9 1074.0,234.4 1074.3,230.4 1074.7,226.8 1075.0,224.0 1075.4,220.0 1075.8,217.6 1076.1,212.8 1076.5,210.9 1076.8,207.0 1079.8,205.0 1082.7,207.0 1083.3,210.2 1084.0,214.2 1084.6,216.7 1085.2,220.7 1086.6,223.8 1088.0,226.5 1088.6,229.4 1089.3,233.8 1089.9,236.3 1090.5,240.2 1090.7,244.0 1090.9,245.5 1091.0,249.6 1091.2,251.9 1091.4,255.5 1091.5,257.8 1091.7,262.1 1091.9,263.4 1092.0,267.6 1092.2,270.0 1092.4,273.7 1092.6,276.0 1092.7,280.0 1092.9,281.9 1093.1,285.2 1093.2,282.7 1093.3,278.7 1093.4,276.8 1093.5,272.7 1093.6,270.6 1093.7,266.3 1093.8,264.4 1093.9,260.6 1094.0,258.2 1094.1,254.5 1094.3,252.4 1094.4,248.3 1094.5,245.9 1094.6,241.8 1094.7,240.1 1094.8,235.9 1094.9,234.3 1095.0,230.4 1095.5,226.6 1095.9,224.7 1096.4,220.7 1096.7,223.6 1096.9,227.6 1097.2,229.7 1097.5,234.0 1097.8,236.3 1098.1,240.5 1098.4,243.2 1098.6,247.4 1098.9,250.0 1099.4,246.4 1099.9,244.5 1100.3,240.1 1100.8,238.0 1101.3,234.3 1103.6,238.3 1103.7,240.8 1103.9,245.0 1104.0,246.8 1104.1,251.4 1104.3,253.0 1104.4,257.8 1104.5,259.5 1104.7,263.7 1104.8,265.9 1104.9,269.7 1105.0,272.2 1105.2,276.2 1105.3,278.6 1105.4,282.6 1105.6,285.2 1106.4,288.7 1107.3,293.3 1108.1,296.9 1109.0,300.5 1109.8,305.0 1110.7,308.6 1111.0,304.5 1111.3,302.3 1111.6,298.3 1112.0,296.3 1112.3,291.8 1112.6,289.1 1112.8,286.5 1112.9,282.6 1113.1,280.7 1113.2,276.3 1113.4,274.3 1113.5,270.3 1113.7,268.8 1113.8,264.7 1114.0,262.6 1114.1,258.6 1114.3,256.8 1114.4,252.3 1114.6,250.0 1115.3,246.3 1116.1,241.7 1116.9,238.3 1117.3,235.4 1117.7,230.8 1118.1,227.9 1118.5,223.8 1118.9,220.7 1119.6,217.6 1120.4,213.8 1121.2,210.9 1121.4,208.2 1121.6,204.1 1121.9,202.4 1122.1,197.9 1122.3,196.0 1122.5,192.0 1122.7,190.4 1122.9,185.8 1123.2,183.5 1123.4,181.0 1123.6,177.2 1123.8,175.4 1124.0,170.7 1124.2,169.2 1124.4,164.7 1124.6,163.3 1124.9,158.6 1125.1,156.9 1125.3,153.2 1125.5,151.0 1125.7,147.4 1126.3,149.9 1127.0,154.6 1127.6,156.5 1128.2,160.1 1128.6,163.5 1129.0,166.2 1129.4,170.0 1129.8,172.5 1130.2,176.8 1130.6,179.6 1130.9,181.9 1131.3,186.0 1131.6,188.5 1131.9,192.1 1132.3,194.5 1132.6,198.6 1132.9,201.1 1133.1,203.5 1133.2,208.1 1133.4,209.5 1133.6,213.7 1133.7,215.9 1133.9,220.3 1134.0,221.6 1134.2,226.2 1134.4,228.4 1134.5,232.1 1134.7,234.3 1134.8,238.0 1135.0,240.1 1135.2,244.6 1135.3,246.4 1135.5,250.0 1136.7,254.2 1138.0,257.8 1140.4,261.7 1140.7,257.8 1140.9,255.6 1141.2,251.7 1141.5,249.6 1141.8,245.5 1142.1,242.9 1142.4,239.0 1142.7,236.3 1145.2,240.2 1145.4,244.0 1145.6,246.0 1145.7,250.2 1145.9,251.7 1146.0,255.8 1146.2,258.0 1146.4,261.9 1146.5,264.4 1146.7,268.1 1146.8,270.1 1147.0,274.4 1147.1,276.4 1147.3,280.6 1147.5,282.3 1147.6,286.4 1147.8,289.1 1148.0,285.8 1148.1,283.9 1148.3,279.4 1148.5,277.5 1148.7,273.8 1148.9,271.9 1149.0,267.6 1149.2,265.7 1149.4,261.5 1149.6,259.8 1149.8,255.6 1149.9,253.3 1150.1,250.0 1150.2,246.5 1150.3,244.1 1150.4,240.2 1150.5,238.4 1150.6,234.1 1150.7,231.9 1150.9,227.8 1151.0,226.0 1151.1,221.3 1151.2,219.8 1151.3,215.5 1151.4,213.4 1151.5,209.1 1151.6,207.3 1151.7,202.9 1151.8,201.5 1151.9,197.1 1152.0,194.8 1152.1,191.4 1152.2,187.6 1152.4,185.5 1152.5,181.3 1152.7,180.0 1152.8,175.5 1153.0,173.8 1153.1,169.3 1153.3,167.8 1153.4,163.4 1153.6,161.5 1153.7,156.9 1153.8,155.0 1154.0,151.2 1154.1,149.5 1154.3,145.1 1154.4,142.5 1155.1,139.5 1155.7,135.0 1156.3,132.9 1157.0,128.8 1157.4,125.1 1157.8,122.5 1158.2,118.5 1158.7,116.7 1159.1,112.0 1159.5,109.3 1159.8,106.5 1160.2,102.3 1160.5,100.0 1160.9,95.6 1161.2,93.8 1161.5,89.7 1161.9,86.8 1164.8,85.8 1165.4,90.2 1166.1,93.1 1166.7,97.5 1166.8,101.4 1166.9,103.0 1167.0,107.3 1167.1,109.5 1167.2,113.6 1167.3,116.1 1167.4,119.9 1167.5,121.9 1167.6,126.5 1167.7,128.3 1167.8,132.2 1167.9,134.4 1168.0,138.5 1168.1,140.6 1168.2,144.8 1168.3,146.9 1168.4,151.1 1168.5,153.0 1168.6,157.7 1168.7,160.1 1170.0,163.3 1171.2,167.9 1171.4,171.5 1171.5,173.1 1171.7,177.7 1171.8,179.8 1171.9,183.5 1172.1,185.8 1172.2,189.9 1172.4,192.3 1172.5,196.2 1172.6,198.2 1172.8,202.3 1172.9,203.9 1173.1,208.4 1173.2,210.9 1173.4,213.4 1173.6,218.1 1173.7,220.1 1173.9,224.2 1174.1,226.4 1174.3,230.4 1174.5,232.4 1174.6,236.6 1174.8,238.4 1175.0,243.4 1175.2,245.3 1175.4,249.4 1175.5,251.9 1178.5,252.9 1178.8,248.9 1179.2,247.3 1179.6,242.8 1179.9,240.3 1180.3,236.1 1180.6,234.4 1181.0,230.4 1181.2,226.8 1181.4,225.1 1181.5,220.8 1181.7,218.9 1181.9,214.8 1182.1,212.9 1182.3,209.0 1182.4,206.8 1182.6,202.4 1182.8,201.0 1183.0,197.2 1183.2,199.4 1183.4,204.2 1183.6,206.0 1183.8,209.6 1184.0,211.9 1184.2,216.1 1184.5,218.2 1184.7,222.0 1184.9,223.6 1185.1,228.0 1185.3,230.4 1185.6,233.4 1185.8,237.4 1186.0,239.5 1186.3,243.6 1186.5,246.1 1186.8,250.3 1187.0,252.5 1187.3,255.8 1187.6,253.1 1187.9,249.2 1188.1,247.1 1188.4,242.3 1188.7,240.4 1189.0,236.5 1189.3,234.4 1189.6,230.4 1189.8,227.1 1190.0,224.8 1190.2,220.4 1190.3,218.5 1190.5,214.2 1190.7,212.6 1190.9,208.1 1191.1,206.8 1191.2,202.4 1191.4,200.4 1191.6,196.3 1191.8,194.5 1192.0,190.1 1192.1,187.4 1192.6,191.4 1193.1,193.1 1193.6,197.6 1194.1,200.0 1194.6,204.3 1195.1,207.0 1196.5,203.7 1198.0,201.1 1198.5,205.2 1199.0,207.8 1199.5,212.2 1200.0,214.5 1200.6,218.7 1201.2,222.2 1201.9,224.3 1202.6,228.0 1203.3,230.4 1203.7,227.0 1204.0,225.0 1204.4,220.4 1204.7,218.9 1205.1,214.8 1205.5,212.7 1205.8,208.9 1206.5,211.6 1207.1,216.6 1207.7,218.7 1208.4,222.6 1209.5,226.9 1210.7,230.4 1211.0,232.8 1211.2,237.5 1211.5,239.5 1211.8,243.4 1212.0,246.0 1212.3,250.0 1212.6,252.5 1212.8,256.4 1213.1,258.4 1213.4,263.1 1213.6,265.6 1214.2,261.9 1214.7,260.0 1215.2,255.8 1215.7,253.6 1216.2,250.0 1216.6,246.5 1217.0,244.2 1217.4,239.6 1217.8,237.4 1218.1,233.2 1218.5,230.4 1220.0,234.8 1221.5,238.3 1222.2,234.8 1222.9,232.8 1223.7,229.0 1224.4,226.5 1225.4,230.3 1226.4,232.4 1227.3,236.3 1227.7,233.5 1228.2,229.7 1228.6,227.8 1229.0,223.3 1229.4,221.7 1229.8,217.4 1230.3,214.8 1231.0,218.5 1231.7,220.8 1232.5,225.9 1233.2,228.5 1233.5,224.7 1233.8,223.2 1234.2,219.1 1234.5,216.7 1234.8,212.7 1235.1,210.8 1235.5,206.9 1235.8,204.6 1236.1,201.1 1236.4,197.7 1236.7,195.3 1237.0,191.4 1237.3,189.0 1237.6,184.7 1237.9,183.2 1238.2,178.9 1238.5,176.3 1238.8,172.6 1239.1,169.9 1239.3,173.5 1239.4,175.7 1239.6,179.6 1239.8,182.2 1240.0,186.2 1240.2,187.9 1240.4,192.8 1240.6,194.5 1240.8,199.0 1241.0,201.1 1241.2,205.1 1241.4,207.3 1241.6,210.9 1242.0,208.4 1242.4,203.7 1242.8,201.3 1243.2,196.9 1243.6,195.0 1243.9,190.0 1244.3,187.4 1244.7,184.7 1245.1,180.9 1245.4,178.5 1245.8,174.3 1246.1,172.4 1246.5,168.5 1246.9,165.9 1247.0,169.6 1247.1,171.8 1247.2,175.9 1247.3,177.6 1247.4,181.7 1247.5,184.0 1247.6,187.6 1247.7,189.8 1247.8,194.2 1247.9,195.7 1248.0,200.1 1248.1,202.1 1248.2,206.2 1248.3,208.4 1248.4,212.2 1248.5,213.9 1248.6,218.0 1248.7,220.6 1248.8,224.2 1248.9,226.2 1249.0,230.4 1249.1,232.2 1249.2,236.3 1249.3,238.8 1249.4,242.2 1249.6,239.5 1249.8,235.3 1250.0,233.6 1250.1,228.9 1250.3,227.3 1250.5,222.7 1250.7,220.8 1250.9,216.2 1251.0,214.4 1251.2,210.4 1251.4,207.8 1251.6,203.4 1251.8,201.1 1252.0,198.9 1252.3,194.7 1252.6,192.5 1252.8,188.6 1253.1,186.9 1253.4,182.6 1253.6,180.7 1253.9,176.6 1254.2,174.7 1254.4,170.1 1254.7,167.9 1257.2,171.8 1257.5,175.9 1257.8,177.7 1258.0,182.4 1258.3,184.2 1258.5,188.5 1258.8,191.0 1259.1,194.9 1259.3,197.2 1259.6,201.1 1259.9,204.8 1260.2,206.6 1260.6,210.9 1260.9,212.5 1261.2,216.5 1261.5,218.6 1261.9,222.7 1262.2,225.3 1262.5,228.5 1263.2,231.8 1264.0,234.1 1264.7,238.1 1265.4,240.2 1265.8,236.2 1266.1,233.9 1266.4,229.8 1266.7,228.1 1267.1,223.4 1267.4,221.1 1267.7,217.0 1268.0,215.0 1268.4,210.9 1268.7,213.4 1268.9,217.9 1269.2,220.0 1269.5,224.2 1269.8,226.8 1270.1,231.3 1270.3,233.3 1270.6,237.7 1270.9,240.2 1271.2,242.8 1271.5,247.0 1271.8,249.6 1272.1,253.5 1272.4,255.6 1272.7,260.0 1273.0,262.6 1273.3,266.9 1273.6,269.5 1274.9,271.9 1276.2,275.4 1276.6,279.1 1277.0,281.3 1277.5,285.2 1277.9,286.9 1278.3,291.4 1278.7,294.0 1279.0,290.1 1279.3,288.6 1279.6,284.2 1279.9,282.3 1280.2,278.1 1280.5,276.0 1280.8,272.2 1281.1,269.5 1281.4,266.6 1281.7,262.3 1282.1,260.4 1282.4,256.2 1282.7,253.8 1283.0,249.2 1283.4,247.6 1283.7,243.2 1284.0,240.2 1284.5,237.4 1285.0,232.4 1285.5,230.4 1286.0,225.3 1286.5,222.6 1288.9,226.5 1289.6,230.6 1290.4,232.6 1291.1,237.6 1291.8,240.2 1292.8,242.9 1293.8,247.4 1294.8,250.0 1296.7,252.9 1297.1,249.1 1297.5,246.8 1298.0,242.6 1298.4,240.8 1298.8,236.7 1299.2,234.2 1299.6,230.4 1299.9,227.2 1300.2,225.0 1300.5,220.8 1300.8,219.2 1301.1,214.8 1301.3,212.4 1301.6,208.6 1301.9,206.4 1302.2,203.1 1303.0,206.1 1303.7,211.3 1304.5,214.8 1304.7,210.9 1304.9,208.9 1305.0,205.0 1305.2,203.4 1305.4,199.1 1305.5,197.0 1305.7,192.7 1305.9,190.8 1306.0,186.4 1306.2,184.8 1306.4,180.4 1306.5,178.3 1306.7,174.1 1306.9,171.8 1307.0,168.9 1307.2,164.9 1307.4,163.4 1307.5,158.7 1307.7,157.0 1307.9,152.6 1308.0,150.5 1308.2,146.8 1308.3,144.3 1308.5,140.1 1308.7,138.6 1308.8,134.7 1309.3,137.9 1309.8,142.1 1310.4,145.0 1310.9,149.6 1311.4,152.3 1311.7,154.8 1311.9,159.1 1312.2,160.7 1312.5,165.2 1312.8,167.3 1313.1,170.7 1313.3,173.1 1313.6,177.0 1313.9,179.6 1314.4,175.7 1314.8,173.8 1315.3,169.5 1315.7,167.1 1316.2,162.6 1316.6,160.1 1317.2,163.5 1317.7,165.6 1318.2,169.7 1318.7,172.0 1319.2,175.7 1319.5,172.7 1319.9,168.5 1320.3,165.9 1320.6,161.9 1321.0,159.4 1321.4,155.4 1321.7,152.3 1322.0,149.3 1322.2,144.9 1322.4,143.0 1322.6,139.0 1322.9,136.6 1323.1,132.7 1323.5,135.6 1323.8,139.9 1324.2,142.4 1324.5,146.9 1324.9,149.2 1325.3,153.3 1325.6,156.2 1325.8,159.0 1326.0,162.8 1326.2,165.3 1326.3,169.8 1326.5,171.5 1326.7,175.8 1326.9,177.9 1327.1,181.9 1327.2,184.4 1327.4,188.6 1327.6,191.4 1327.7,193.7 1327.8,198.4 1327.9,200.1 1328.0,203.9 1328.1,206.0 1328.2,210.3 1328.3,212.6 1328.4,216.5 1328.5,218.3 1328.6,222.8 1328.7,225.0 1328.8,228.8 1328.9,230.9 1329.0,235.1 1329.1,237.1 1329.2,241.4 1329.3,243.1 1329.4,247.6 1329.5,250.0 1329.7,252.2 1329.8,256.5 1330.0,258.2 1330.1,262.4 1330.3,264.2 1330.4,268.3 1330.6,270.6 1330.7,274.9 1330.9,276.6 1331.0,280.4 1331.2,282.5 1331.3,286.5 1331.5,289.1 1331.8,284.9 1332.0,283.4 1332.3,278.7 1332.5,276.8 1332.8,272.0 1333.1,269.9 1333.3,266.0 1333.6,263.7 1333.8,259.8 1334.0,262.0 1334.2,266.6 1334.4,268.1 1334.5,272.6 1334.7,274.7 1334.9,278.4 1335.1,280.4 1335.2,284.8 1335.4,287.1" fill="none" stroke="#f20c16" stroke-width="4.3" stroke-linejoin="round" stroke-linecap="round"/>
<polyline points="174.9,240.2 179.8,243.1 184.7,244.1 188.6,246.1 192.5,244.1 196.4,251.0 199.3,250.0 202.8,245.1 205.2,232.4 208.1,212.9 211.0,201.1 214.0,189.4 216.9,171.8 219.8,156.2 222.8,140.5 225.7,131.7 227.7,126.9 230.2,117.1 233.5,122.0 237.4,122.9 240.7,119.0 243.9,115.1 246.6,114.2 249.7,116.1 253.1,122.9 256.4,130.8 259.9,126.9 264.2,129.8 266.7,124.9 269.7,121.0 274.6,120.0 279.4,118.1 282.4,115.1 285.3,107.3 289.2,103.4 293.1,102.4 297.0,100.5 300.0,102.4 303.9,105.4 308.8,107.3 312.7,110.2 316.6,112.2 319.5,109.3 321.5,102.4 324.4,98.5 327.3,97.1 331.2,97.5 334.2,94.6 337.1,92.7 340.0,97.5 343.9,107.3 347.9,114.2 352.7,122.9 355.7,131.7 358.6,136.6 362.5,137.6 365.4,144.4 368.4,154.2 371.3,167.9 374.2,187.4 376.2,203.1 378.1,216.8 381.1,228.5 384.0,237.3 386.9,246.1 388.9,259.8 391.8,267.6 394.8,265.6 398.7,261.7 402.6,253.9 406.5,249.0 409.4,251.9 413.3,257.8 416.6,261.7 419.2,257.8 422.1,246.1 425.0,234.3 428.0,210.9 430.9,197.2 433.8,189.4 436.8,179.6 439.7,167.9 442.6,156.2 445.6,144.4 449.5,132.7 453.4,124.9 457.3,120.0 462.2,116.1 467.1,114.2 470.0,114.2 470.0,114.2 473.9,115.1 477.8,118.1 480.7,126.9 483.7,144.4 486.6,171.8 489.5,195.3 492.5,216.8 494.4,224.6 496.4,218.7 498.3,203.1 501.3,187.4 505.2,177.7 509.1,167.9 513.0,156.2 516.9,141.5 519.8,137.6 523.7,136.6 526.7,132.7 530.6,122.9 534.5,115.1 538.4,107.3 541.3,104.4 545.2,108.3 549.2,110.2 552.1,105.4 555.0,96.6 557.9,91.7 560.9,89.7 564.8,90.7 568.7,88.7 572.6,93.6 575.5,97.5 579.4,97.5 583.4,100.5 587.3,106.3 591.2,113.2 595.1,112.2 598.0,109.3 601.9,110.2 605.8,112.2 608.8,116.1 612.7,118.1 616.6,122.9 620.5,128.8 624.4,136.6 626.4,146.4 629.3,153.2 633.2,156.2 636.1,164.0 640.0,171.8 643.0,185.5 645.9,199.2 648.8,214.8 650.8,226.5 652.7,242.2 654.7,251.9 657.6,259.8 660.6,269.5 662.5,281.3 665.4,291.0 667.8,287.1 670.3,275.4 672.3,265.6 675.2,261.7 678.1,265.6 681.1,272.5 685.0,279.3 688.9,283.2 692.8,284.2 696.7,281.3 700.6,278.3 704.5,271.5 708.4,261.7 711.4,253.9 715.3,249.0 719.2,245.1 724.1,240.2 728.0,232.4 731.9,230.4 735.8,231.4 739.7,232.4 743.6,228.5 746.5,214.8 750.5,201.1 754.4,195.3 759.3,191.4 763.2,186.5 767.1,185.5 770.0,184.5 770.0,187.4 772.9,171.8 775.9,160.1 779.8,157.1 784.7,151.3 787.6,140.5 791.1,135.7 794.4,139.6 797.4,148.4 800.3,155.2 804.2,156.2 808.1,154.2 811.4,153.2 815.0,159.1 818.9,165.9 822.4,168.9 825.7,165.0 829.6,159.1 832.5,157.1 836.4,158.1 840.4,155.2 844.3,158.1 848.2,162.0 852.1,166.9 856.0,170.8 859.9,174.7 863.8,180.6 867.7,186.5 871.6,192.3 875.5,198.2 879.4,200.1 883.4,201.1 887.3,205.0 890.2,209.9 893.1,214.8 897.0,213.8 900.9,208.9 903.9,201.1 906.8,194.3 910.7,192.3 914.6,192.3 918.5,185.5 921.5,180.6 924.4,184.5 928.3,190.4 932.2,195.3 936.1,203.1 940.0,201.1 943.9,195.3 947.5,193.3 950.8,196.2 954.7,201.1 958.6,210.9 962.5,222.6 965.4,234.3 968.4,239.2 971.3,237.3 974.2,234.3 977.2,226.5 980.1,214.8 983.0,206.0 986.0,202.1 989.9,202.1 992.8,202.1 996.7,200.1 1000.6,204.1 1004.5,210.9 1008.4,217.7 1012.3,220.7 1015.9,223.6 1018.2,218.7 1021.1,215.8 1024.1,219.7 1028.0,224.6 1031.9,228.5 1034.8,223.6 1038.7,221.6 1042.6,223.6 1045.6,230.4 1049.5,222.6 1053.4,218.7 1056.3,207.0 1059.3,199.2 1063.2,194.3 1067.1,193.3 1070.0,191.4 1070.0,194.3 1073.9,189.4 1077.8,184.5 1081.7,182.6 1085.6,180.6 1089.5,183.5 1093.5,183.5 1097.4,177.7 1100.3,173.8 1103.2,176.7 1107.1,181.6 1111.0,185.5 1115.0,186.5 1118.9,185.5 1122.4,191.4 1125.7,197.2 1129.6,196.2 1132.5,189.4 1136.4,185.5 1139.4,186.5 1143.3,191.4 1147.2,194.3 1151.1,194.3 1155.0,192.3 1158.9,192.3 1162.8,195.3 1166.7,192.3 1170.7,191.4 1174.6,187.4 1177.5,177.7 1181.4,169.9 1185.3,163.0 1189.2,159.1 1192.1,157.7 1195.1,160.1 1198.0,166.9 1200.9,177.7 1204.9,191.4 1208.8,203.1 1212.7,216.8 1216.6,230.4 1219.5,246.1 1222.4,257.8 1225.4,263.7 1229.3,265.6 1233.2,268.6 1237.1,272.5 1241.0,277.3 1244.9,280.3 1248.8,282.2 1252.7,277.3 1256.6,272.5 1260.6,269.5 1264.5,263.7 1267.4,250.0 1270.3,236.3 1274.2,225.6 1278.1,222.6 1282.1,216.8 1286.0,205.0 1289.9,193.3 1292.8,183.5 1296.7,176.7 1301.6,173.8 1305.5,167.9 1308.4,158.1 1312.3,148.4 1316.3,140.5 1320.2,132.7 1324.1,126.9 1327.0,121.0 1329.0,109.3 1331.9,103.4 1335.8,101.4" fill="none" stroke="#000" stroke-width="4.5" stroke-linejoin="round" stroke-linecap="round"/>
<line x1="176" y1="743.2" x2="497.5" y2="743.2" stroke="#f4808a" stroke-width="1.4"/>
<line x1="536.5" y1="743.2" x2="1337" y2="743.2" stroke="#f4808a" stroke-width="1.4"/>
<rect x="178.2" y="739.3" width="3.1" height="4.7" fill="#f20c16" fill-opacity="1"/>
<rect x="191.3" y="713.8" width="2.4" height="30.1" fill="#f20c16" fill-opacity="0.9"/>
<rect x="191.9" y="736.3" width="3.9" height="7.6" fill="#f20c16" fill-opacity="1"/>
<rect x="200.9" y="738.3" width="2.7" height="5.7" fill="#f20c16" fill-opacity="1"/>
<rect x="228.4" y="723.6" width="2.4" height="20.3" fill="#f20c16" fill-opacity="0.9"/>
<rect x="227.1" y="737.3" width="5.9" height="6.7" fill="#f20c16" fill-opacity="1"/>
<rect x="241.1" y="741.2" width="2.4" height="2.8" fill="#f20c16" fill-opacity="1"/>
<rect x="248.2" y="739.3" width="3.9" height="4.7" fill="#f20c16" fill-opacity="1"/>
<rect x="252.1" y="735.3" width="3.9" height="8.6" fill="#f20c16" fill-opacity="1"/>
<rect x="256.6" y="729.9" width="4.7" height="14.1" fill="#f20c16" fill-opacity="1"/>
<rect x="261.1" y="732.4" width="4.7" height="11.5" fill="#f20c16" fill-opacity="1"/>
<rect x="265.4" y="734.4" width="4.7" height="9.6" fill="#f20c16" fill-opacity="1"/>
<rect x="269.7" y="739.3" width="3.9" height="4.7" fill="#f20c16" fill-opacity="1"/>
<rect x="313.3" y="738.9" width="2.7" height="5.1" fill="#f20c16" fill-opacity="1"/>
<rect x="342.6" y="733.4" width="2.7" height="10.6" fill="#f20c16" fill-opacity="0.8"/>
<rect x="374.0" y="657.2" width="2.4" height="86.8" fill="#f20c16" fill-opacity="0.7"/>
<rect x="373.6" y="723.6" width="3.1" height="20.3" fill="#f20c16" fill-opacity="1"/>
<rect x="381.8" y="739.3" width="2.4" height="4.7" fill="#f20c16" fill-opacity="1"/>
<rect x="399.4" y="713.8" width="2.4" height="30.1" fill="#f20c16" fill-opacity="0.7"/>
<rect x="404.3" y="713.8" width="2.4" height="30.1" fill="#f20c16" fill-opacity="0.7"/>
<rect x="408.2" y="713.8" width="2.4" height="30.1" fill="#f20c16" fill-opacity="0.7"/>
<rect x="405.7" y="735.3" width="3.5" height="8.6" fill="#f20c16" fill-opacity="1"/>
<rect x="411.7" y="729.5" width="2.4" height="14.5" fill="#f20c16" fill-opacity="0.9"/>
<rect x="415.4" y="730.5" width="2.4" height="13.5" fill="#f20c16" fill-opacity="0.9"/>
<rect x="417.2" y="738.3" width="9.8" height="5.7" fill="#f20c16" fill-opacity="1"/>
<rect x="476.8" y="739.3" width="5.9" height="4.7" fill="#f20c16" fill-opacity="1"/>
<rect x="482.3" y="709.9" width="3.5" height="34.0" fill="#f20c16" fill-opacity="1"/>
<rect x="484.8" y="680.6" width="2.4" height="63.3" fill="#f20c16" fill-opacity="0.7"/>
<rect x="491.9" y="709.0" width="3.1" height="35.0" fill="#f20c16" fill-opacity="0.8"/>
<rect x="492.5" y="723.6" width="2.7" height="20.3" fill="#f20c16" fill-opacity="1"/>
<rect x="483.7" y="739.3" width="11.7" height="4.7" fill="#f20c16" fill-opacity="1"/>
<rect x="583.2" y="733.4" width="3.5" height="10.6" fill="#f20c16" fill-opacity="0.9"/>
<rect x="596.4" y="738.3" width="3.1" height="5.7" fill="#f20c16" fill-opacity="1"/>
<rect x="614.8" y="738.3" width="3.5" height="5.7" fill="#f20c16" fill-opacity="1"/>
<rect x="637.7" y="729.5" width="2.7" height="14.5" fill="#f20c16" fill-opacity="0.6"/>
<rect x="645.5" y="723.6" width="2.7" height="20.3" fill="#f20c16" fill-opacity="0.7"/>
<rect x="652.5" y="471.5" width="2.4" height="272.5" fill="#f20c16" fill-opacity="0.55"/>
<rect x="656.4" y="608.3" width="4.3" height="135.7" fill="#f20c16" fill-opacity="0.6"/>
<rect x="654.5" y="711.9" width="5.5" height="32.1" fill="#f20c16" fill-opacity="1"/>
<rect x="656.6" y="737.3" width="7.8" height="6.7" fill="#f20c16" fill-opacity="1"/>
<rect x="723.3" y="713.8" width="3.5" height="30.1" fill="#f20c16" fill-opacity="0.9"/>
<rect x="723.5" y="731.4" width="4.3" height="12.5" fill="#f20c16" fill-opacity="1"/>
<rect x="734.2" y="733.4" width="3.1" height="10.6" fill="#f20c16" fill-opacity="0.9"/>
<rect x="744.4" y="723.6" width="2.4" height="20.3" fill="#f20c16" fill-opacity="0.8"/>
<rect x="745.6" y="737.3" width="5.9" height="6.7" fill="#f20c16" fill-opacity="1"/>
<rect x="771.8" y="739.3" width="4.3" height="4.7" fill="#f20c16" fill-opacity="1"/>
<rect x="809.3" y="705.0" width="3.5" height="38.9" fill="#f20c16" fill-opacity="1"/>
<rect x="812.0" y="719.7" width="2.7" height="24.3" fill="#f20c16" fill-opacity="1"/>
<rect x="819.4" y="738.3" width="3.5" height="5.7" fill="#f20c16" fill-opacity="1"/>
<rect x="834.9" y="739.3" width="3.1" height="4.7" fill="#f20c16" fill-opacity="1"/>
<rect x="853.8" y="733.4" width="4.3" height="10.6" fill="#f20c16" fill-opacity="1"/>
<rect x="866.9" y="709.9" width="3.5" height="34.0" fill="#f20c16" fill-opacity="0.9"/>
<rect x="864.2" y="733.4" width="5.1" height="10.6" fill="#f20c16" fill-opacity="1"/>
<rect x="874.2" y="739.3" width="2.7" height="4.7" fill="#f20c16" fill-opacity="1"/>
<rect x="880.0" y="738.3" width="2.7" height="5.7" fill="#f20c16" fill-opacity="0.8"/>
<rect x="886.9" y="700.2" width="2.7" height="43.8" fill="#f20c16" fill-opacity="0.6"/>
<rect x="892.3" y="709.9" width="2.4" height="34.0" fill="#f20c16" fill-opacity="0.6"/>
<rect x="903.1" y="700.2" width="2.7" height="43.8" fill="#f20c16" fill-opacity="0.75"/>
<rect x="902.3" y="733.4" width="4.3" height="10.6" fill="#f20c16" fill-opacity="1"/>
<rect x="918.3" y="738.3" width="4.3" height="5.7" fill="#f20c16" fill-opacity="0.8"/>
<rect x="947.9" y="737.3" width="3.9" height="6.7" fill="#f20c16" fill-opacity="1"/>
<rect x="951.4" y="686.5" width="3.5" height="57.5" fill="#f20c16" fill-opacity="0.9"/>
<rect x="955.1" y="723.6" width="3.1" height="20.3" fill="#f20c16" fill-opacity="1"/>
<rect x="958.2" y="717.8" width="2.7" height="26.2" fill="#f20c16" fill-opacity="1"/>
<rect x="961.1" y="651.3" width="2.7" height="92.7" fill="#f20c16" fill-opacity="0.6"/>
<rect x="960.7" y="676.7" width="3.5" height="67.2" fill="#f20c16" fill-opacity="0.85"/>
<rect x="963.5" y="694.3" width="2.7" height="49.7" fill="#f20c16" fill-opacity="1"/>
<rect x="965.6" y="680.6" width="2.7" height="63.3" fill="#f20c16" fill-opacity="0.8"/>
<rect x="968.0" y="719.7" width="2.7" height="24.3" fill="#f20c16" fill-opacity="1"/>
<rect x="971.5" y="704.1" width="2.7" height="39.9" fill="#f20c16" fill-opacity="0.85"/>
<rect x="951.4" y="723.6" width="23.5" height="20.3" fill="#f20c16" fill-opacity="1"/>
<rect x="997.7" y="729.5" width="3.9" height="14.5" fill="#f20c16" fill-opacity="0.95"/>
<rect x="1010.0" y="670.8" width="2.7" height="73.1" fill="#f20c16" fill-opacity="0.6"/>
<rect x="1008.4" y="723.6" width="5.9" height="20.3" fill="#f20c16" fill-opacity="1"/>
<rect x="1033.8" y="737.7" width="9.8" height="6.3" fill="#f20c16" fill-opacity="1"/>
<rect x="1046.2" y="719.7" width="2.7" height="24.3" fill="#f20c16" fill-opacity="0.6"/>
<rect x="1049.1" y="733.4" width="3.9" height="10.6" fill="#f20c16" fill-opacity="1"/>
<rect x="1075.3" y="709.9" width="3.1" height="34.0" fill="#f20c16" fill-opacity="0.9"/>
<rect x="1074.1" y="733.4" width="6.6" height="10.6" fill="#f20c16" fill-opacity="1"/>
<rect x="1087.4" y="733.4" width="4.3" height="10.6" fill="#f20c16" fill-opacity="1"/>
<rect x="1099.3" y="719.7" width="3.1" height="24.3" fill="#f20c16" fill-opacity="0.9"/>
<rect x="1113.8" y="721.7" width="3.1" height="22.3" fill="#f20c16" fill-opacity="1"/>
<rect x="1116.9" y="719.7" width="2.7" height="24.3" fill="#f20c16" fill-opacity="1"/>
<rect x="1119.8" y="723.6" width="2.7" height="20.3" fill="#f20c16" fill-opacity="1"/>
<rect x="1124.1" y="709.0" width="2.4" height="35.0" fill="#f20c16" fill-opacity="0.85"/>
<rect x="1112.0" y="733.4" width="15.6" height="10.6" fill="#f20c16" fill-opacity="1"/>
<rect x="1127.4" y="733.4" width="2.4" height="10.6" fill="#f20c16" fill-opacity="1"/>
<rect x="1131.4" y="737.3" width="4.3" height="6.7" fill="#f20c16" fill-opacity="1"/>
<rect x="1154.8" y="729.5" width="2.4" height="14.5" fill="#f20c16" fill-opacity="0.9"/>
<rect x="1153.3" y="739.3" width="4.7" height="4.7" fill="#f20c16" fill-opacity="1"/>
<rect x="1162.6" y="729.5" width="2.4" height="14.5" fill="#f20c16" fill-opacity="0.6"/>
<rect x="1214.0" y="723.6" width="3.1" height="20.3" fill="#f20c16" fill-opacity="0.9"/>
<rect x="1213.8" y="737.3" width="4.7" height="6.7" fill="#f20c16" fill-opacity="1"/>
<rect x="1225.0" y="713.8" width="2.7" height="30.1" fill="#f20c16" fill-opacity="0.9"/>
<rect x="1230.0" y="713.8" width="2.4" height="30.1" fill="#f20c16" fill-opacity="0.8"/>
<rect x="1233.9" y="713.8" width="2.4" height="30.1" fill="#f20c16" fill-opacity="0.8"/>
<rect x="1240.4" y="665.0" width="2.4" height="79.0" fill="#f20c16" fill-opacity="0.8"/>
<rect x="1240.0" y="708.0" width="3.9" height="36.0" fill="#f20c16" fill-opacity="1"/>
<rect x="1224.4" y="733.4" width="19.5" height="10.6" fill="#f20c16" fill-opacity="1"/>
<rect x="1252.1" y="733.4" width="3.1" height="10.6" fill="#f20c16" fill-opacity="1"/>
<rect x="1258.8" y="709.0" width="3.5" height="35.0" fill="#f20c16" fill-opacity="0.85"/>
<rect x="1256.6" y="733.4" width="7.8" height="10.6" fill="#f20c16" fill-opacity="1"/>
<rect x="1270.7" y="719.7" width="3.1" height="24.3" fill="#f20c16" fill-opacity="0.9"/>
<rect x="1269.3" y="737.3" width="5.9" height="6.7" fill="#f20c16" fill-opacity="1"/>
<rect x="1282.4" y="713.8" width="3.1" height="30.1" fill="#f20c16" fill-opacity="0.85"/>
<rect x="1279.1" y="735.3" width="5.9" height="8.6" fill="#f20c16" fill-opacity="1"/>
<rect x="1305.9" y="737.3" width="3.1" height="6.7" fill="#f20c16" fill-opacity="0.8"/>
<rect x="1316.6" y="740.2" width="3.1" height="3.7" fill="#f20c16" fill-opacity="0.7"/>
<rect x="1325.6" y="738.3" width="2.7" height="5.7" fill="#f20c16" fill-opacity="0.8"/>
<polyline points="170.0,655.2 173.9,655.2 177.8,651.3 178.6,647.4 179.4,645.2 180.2,641.2 180.9,639.4 181.7,635.7 182.3,632.0 182.9,629.9 183.5,625.9 184.1,623.8 184.7,620.0 185.6,616.3 186.6,614.2 187.3,618.5 187.9,621.8 188.6,625.9 190.0,622.4 191.5,618.1 193.0,613.8 194.4,610.3 197.4,612.2 198.1,616.1 198.8,618.7 199.6,622.8 200.3,625.9 203.2,627.9 206.2,631.8 206.9,634.2 207.6,638.2 208.4,639.8 209.1,643.5 210.6,647.0 212.0,649.3 215.0,654.2 217.3,656.2 218.1,652.0 219.0,649.4 219.8,645.4 220.3,641.2 220.8,639.2 221.3,634.7 221.8,631.8 223.1,629.3 224.3,625.9 225.0,629.3 225.6,634.1 226.3,637.6 226.5,640.0 226.7,644.3 227.0,646.2 227.2,650.2 227.4,652.4 227.6,656.8 227.9,659.1 228.0,655.4 228.1,653.9 228.3,649.6 228.4,647.6 228.6,643.7 228.7,641.5 228.8,637.4 229.0,635.6 229.1,631.2 229.3,629.6 229.4,625.9 230.0,621.9 230.5,619.4 231.0,615.4 231.6,612.2 232.8,609.0 234.1,604.4 235.3,608.0 236.4,612.2 239.4,616.1 239.9,619.8 240.4,622.5 240.8,626.2 241.3,628.9 241.8,632.6 242.3,635.7 242.9,638.6 243.5,642.6 244.1,644.8 244.7,648.6 245.2,651.3 246.7,653.4 248.2,657.2 249.6,660.3 251.1,663.0 254.0,666.9 257.0,665.0 258.4,660.5 259.9,657.2 260.3,654.3 260.7,650.7 261.1,648.4 261.5,643.9 261.9,641.5 262.4,639.1 263.0,634.8 263.6,632.7 264.2,628.8 264.8,625.9 265.1,623.6 265.4,619.3 265.8,617.3 266.1,613.0 266.4,611.2 266.7,607.5 267.1,604.9 267.4,601.4 267.7,598.5 268.1,595.5 268.5,591.5 268.9,589.5 269.3,585.2 269.7,582.6 270.1,579.0 270.9,574.5 271.8,571.8 272.6,567.3 273.2,570.0 273.8,573.7 274.4,576.2 275.0,580.4 275.5,582.9 276.0,585.9 276.5,589.7 277.0,592.2 277.5,596.3 278.0,598.9 278.5,602.4 278.9,606.6 279.3,608.7 279.7,613.0 280.1,615.4 280.6,619.5 281.0,621.9 281.4,625.9 281.9,629.6 282.4,631.9 282.9,636.5 283.4,638.8 283.8,642.4 284.3,645.4 285.0,648.2 285.6,652.5 286.2,655.3 286.9,659.1 289.2,661.1 289.9,665.0 290.5,668.0 291.2,671.8 294.1,672.8 295.0,669.3 295.8,664.8 296.6,661.1 296.9,658.2 297.2,654.3 297.5,652.2 297.8,648.1 298.1,645.4 298.4,641.4 298.7,639.4 299.0,635.7 299.5,631.8 300.0,629.8 300.5,625.5 300.9,623.3 301.4,618.9 301.9,616.1 302.3,613.5 302.8,608.7 303.2,606.4 303.6,602.2 304.0,599.8 304.4,595.3 304.9,592.7 305.2,590.2 305.6,586.0 306.0,583.5 306.4,580.0 306.8,577.0 309.7,575.1 310.5,572.4 311.2,567.7 311.9,565.2 312.7,561.4 313.3,564.3 313.8,568.9 314.4,571.7 315.0,576.2 315.6,579.0 316.0,581.9 316.3,586.0 316.7,587.8 317.1,592.3 317.4,594.1 317.8,598.6 318.2,600.8 318.5,604.4 318.8,608.1 319.1,610.4 319.4,614.2 319.7,616.3 320.0,620.6 320.3,622.4 320.6,626.9 320.9,628.8 321.2,632.8 321.5,635.7 321.8,638.5 322.1,643.0 322.4,645.3 322.8,649.3 323.1,651.4 323.4,655.4 323.7,657.8 324.1,662.5 324.4,665.0 325.0,668.7 325.7,673.5 326.4,676.7 329.3,674.8 329.9,677.4 330.6,681.6 331.2,684.5 331.9,687.2 332.5,690.8 333.2,693.3 333.8,689.6 334.5,687.3 335.1,683.6 335.7,680.6 335.9,677.9 336.0,673.6 336.1,671.5 336.2,667.5 336.4,665.1 336.5,661.2 336.6,658.5 336.7,654.4 336.9,652.4 337.0,647.9 337.1,645.4 337.3,642.4 337.5,638.5 337.8,635.8 338.0,631.6 338.2,629.7 338.4,625.5 338.6,623.0 338.8,618.9 339.1,616.1 339.3,613.9 339.4,609.4 339.6,607.7 339.8,603.5 340.0,601.8 340.2,597.5 340.4,595.6 340.6,591.4 340.8,589.4 341.0,585.6 341.2,583.4 341.4,579.8 341.6,577.0 342.0,574.2 342.4,570.2 342.8,567.7 343.2,563.6 343.6,561.5 343.9,557.5 345.9,552.6 346.7,555.1 347.5,559.2 348.2,561.4 350.8,561.4 352.2,564.1 353.7,567.3 354.3,570.7 354.9,573.1 355.5,577.3 356.1,579.1 356.6,582.9 356.8,586.3 357.0,588.6 357.2,592.7 357.4,594.4 357.5,598.6 357.7,600.3 357.9,604.7 358.1,606.7 358.2,610.7 358.4,612.7 358.6,616.1 359.0,620.1 359.3,622.0 359.7,625.9 360.1,628.6 360.4,632.4 360.8,634.4 361.2,639.0 361.5,641.5 362.3,644.0 363.0,648.1 363.7,650.0 364.5,653.3 365.9,657.4 367.4,661.1 370.3,665.0 373.3,661.1 373.8,657.2 374.4,655.1 375.0,651.4 375.6,648.9 376.2,645.4 376.8,642.0 377.4,639.7 377.9,635.7 378.5,633.1 379.1,629.8 379.5,625.7 380.0,623.8 380.4,619.3 380.8,616.8 381.2,612.5 381.6,610.5 382.1,606.4 382.2,602.9 382.4,600.7 382.6,596.8 382.8,594.8 383.0,590.5 383.2,588.8 383.4,584.8 383.6,582.5 383.8,579.0 384.0,576.9 384.2,573.1 384.4,570.9 384.6,567.3 384.9,563.9 385.1,561.3 385.4,557.3 385.7,555.5 386.0,551.6 389.9,551.6 390.1,554.6 390.4,558.3 390.6,560.6 390.8,564.8 391.1,567.2 391.3,571.4 391.6,573.3 391.8,577.0 392.3,580.5 392.8,583.3 393.3,587.0 393.8,589.9 394.3,593.7 394.8,596.6 395.1,599.1 395.4,603.7 395.7,605.6 396.1,609.8 396.4,612.3 396.7,616.5 397.0,618.9 397.4,623.1 397.7,625.9 398.1,628.4 398.4,632.7 398.8,634.8 399.2,638.9 399.5,641.2 399.9,645.1 400.3,647.8 400.6,651.3 401.6,655.4 402.6,657.9 403.6,662.1 406.5,661.1 409.4,659.1 410.4,656.5 411.4,652.4 412.3,649.3 413.8,647.1 415.3,643.5 416.0,639.5 416.7,636.9 417.5,632.7 418.2,629.8 419.7,626.2 421.1,622.0 422.6,625.1 424.1,629.8 424.7,627.0 425.4,623.0 426.0,620.0 429.0,618.1 431.9,614.2 433.8,617.7 435.8,620.0 436.6,622.4 437.4,626.7 438.1,628.8 438.9,633.1 439.7,635.7 440.7,638.3 441.7,642.9 442.6,645.4 444.6,649.0 446.5,653.3 447.1,657.2 447.7,659.5 448.3,664.5 448.9,666.7 449.5,670.8 450.5,668.4 451.4,665.0 451.8,661.3 452.1,658.8 452.4,654.9 452.7,652.5 453.1,648.4 453.4,645.4 453.8,642.8 454.2,638.2 454.6,636.1 455.1,631.7 455.5,629.4 455.9,625.2 456.3,622.0 456.7,618.9 457.2,614.9 457.6,612.6 458.0,608.1 458.4,605.9 458.8,601.4 459.3,598.5 461.2,594.6 462.7,598.8 464.1,602.4 467.1,604.4 470.0,606.4 470.0,606.4 470.5,609.2 471.0,613.4 471.5,615.6 472.0,620.1 472.4,622.4 472.9,625.9 473.5,629.8 474.1,631.9 474.7,636.0 475.3,637.8 475.9,641.5 476.8,645.1 477.8,647.8 478.8,651.3 479.8,654.8 480.7,657.4 481.7,661.1 484.7,663.0 487.6,660.1 488.1,657.2 488.6,652.3 489.1,649.4 489.5,645.4 490.1,641.8 490.7,639.4 491.3,635.5 491.9,633.5 492.5,629.8 495.8,628.1 499.1,627.9 502.4,625.6 505.8,625.7 509.1,623.9 512.5,622.2 515.9,621.5 519.3,619.3 522.8,618.1 526.4,617.9 529.9,616.2 533.5,616.1 534.5,613.1 535.5,609.4 536.4,606.4 537.0,603.7 537.6,599.7 538.2,597.4 538.8,593.5 539.4,590.7 540.0,588.3 540.6,584.2 541.1,581.7 541.7,577.6 542.3,575.1 542.8,572.6 543.3,567.8 543.8,565.7 544.3,561.9 544.8,559.6 545.2,555.5 546.0,551.9 546.7,550.2 547.4,546.3 548.2,543.8 548.6,547.6 549.0,549.9 549.3,554.0 549.7,555.7 550.1,559.4 550.3,563.2 550.6,565.2 550.8,569.3 551.0,570.9 551.2,575.2 551.4,577.4 551.7,580.9 551.9,583.3 552.1,586.8 552.3,590.6 552.4,592.7 552.6,596.8 552.8,599.4 553.0,603.3 553.2,605.2 553.3,609.7 553.5,612.0 553.7,616.3 553.9,618.5 554.0,622.0 554.3,625.6 554.6,628.5 554.9,632.8 555.2,634.9 555.4,639.2 555.7,641.7 556.0,645.4 557.5,648.7 558.9,651.3 559.6,653.8 560.2,658.4 560.9,661.1 561.9,663.7 562.8,667.7 563.8,669.9 564.4,666.0 565.0,663.5 565.6,659.5 566.2,657.0 566.7,653.3 567.0,649.7 567.2,647.6 567.4,643.5 567.6,641.6 567.8,637.4 568.0,635.8 568.3,631.4 568.5,629.4 568.7,625.9 568.9,622.1 569.1,620.4 569.3,616.2 569.6,614.4 569.8,610.4 570.0,608.2 570.2,604.1 570.4,602.3 570.7,598.5 570.9,594.4 571.2,592.3 571.5,587.8 571.8,585.7 572.0,581.4 572.3,578.9 572.6,575.1 573.0,571.2 573.4,569.4 573.8,565.4 574.2,562.9 574.6,559.4 577.5,555.5 579.0,557.9 580.4,561.4 581.3,565.4 582.1,567.7 583.0,571.2 583.6,575.3 584.3,578.4 584.9,582.9 585.3,579.8 585.7,575.1 586.1,573.1 586.5,568.3 586.9,565.3 589.2,561.4 590.7,564.9 592.1,567.3 593.1,570.2 594.1,574.3 595.1,577.0 596.5,580.5 598.0,584.9 600.0,587.8 601.9,589.7 605.8,590.7 607.3,586.5 608.8,582.9 609.2,580.3 609.6,575.9 610.0,573.5 610.4,569.0 610.9,566.9 611.3,562.3 611.7,559.4 612.1,556.7 612.4,552.7 612.8,550.2 613.2,546.0 613.5,544.1 613.9,540.1 614.3,537.8 614.6,534.0 616.6,529.2 619.5,528.2 620.5,524.7 621.5,521.9 622.4,518.4 623.2,515.1 623.9,512.7 624.6,509.3 625.4,506.7 627.3,504.7 628.0,509.1 628.6,511.8 629.3,516.4 629.5,520.2 629.7,522.1 629.9,525.8 630.2,528.1 630.4,532.3 630.6,534.0 630.8,537.9 631.0,540.5 631.2,543.8 631.6,547.3 631.9,549.9 632.2,553.8 632.5,556.2 632.9,560.4 633.2,563.4 633.6,565.9 634.0,570.2 634.4,572.5 634.8,576.0 635.1,579.0 635.7,581.9 636.3,585.7 636.9,587.6 637.5,592.1 638.1,594.6 641.0,596.6 643.9,595.6 644.6,591.9 645.2,590.0 645.9,586.8 646.2,583.4 646.5,580.9 646.9,576.3 647.2,574.0 647.5,569.7 647.9,567.3 648.2,564.5 648.5,560.5 648.8,558.3 649.2,553.5 649.5,551.4 649.8,547.7 650.5,544.2 651.1,541.7 651.8,537.9 652.2,540.9 652.7,545.5 653.2,547.5 653.7,551.6 656.6,547.7 657.2,545.0 657.8,541.2 658.4,538.8 659.0,534.5 659.6,532.1 660.0,529.8 660.4,525.6 660.8,523.6 661.3,519.6 661.7,517.1 662.1,513.0 662.5,510.6 664.5,507.7 664.9,511.3 665.2,513.6 665.6,518.3 666.0,520.7 666.4,524.3 666.6,527.9 666.9,529.8 667.1,533.9 667.3,536.0 667.5,539.7 667.7,542.1 667.9,546.1 668.2,548.3 668.4,551.6 668.6,555.0 668.8,557.5 669.0,561.5 669.2,563.5 669.5,567.1 669.7,569.4 669.9,573.3 670.1,575.3 670.3,579.0 670.7,582.3 671.1,584.9 671.4,588.8 671.8,591.4 672.2,595.2 672.5,597.4 672.9,601.6 673.3,604.4 673.6,606.8 674.0,611.4 674.4,613.1 674.8,617.4 675.2,620.0 676.7,623.4 678.1,627.9 681.1,628.8 681.7,625.5 682.4,620.9 683.0,618.1 683.6,615.4 684.2,611.1 684.8,609.2 685.4,605.3 686.0,602.4 686.7,600.2 687.4,595.8 688.2,594.4 688.9,590.7 689.7,587.1 690.5,584.7 691.2,580.7 692.0,578.7 692.8,575.1 693.6,571.4 694.4,569.5 695.1,565.2 695.9,563.1 696.7,559.4 697.7,555.4 698.7,553.6 699.6,549.7 700.0,552.4 700.4,557.4 700.8,559.9 701.2,564.1 701.6,567.3 704.5,569.2 705.3,572.1 706.0,576.8 706.7,578.8 707.5,582.9 707.7,586.3 707.9,588.2 708.1,592.5 708.3,594.9 708.5,598.9 708.8,600.5 709.0,604.4 709.2,606.8 709.4,610.3 712.3,606.4 713.8,609.7 715.3,612.2 718.2,610.3 719.7,613.9 721.1,618.1 721.5,621.6 721.9,624.2 722.2,628.1 722.6,630.1 723.0,634.3 723.3,636.6 723.7,640.6 724.3,637.5 724.9,632.5 725.4,630.1 726.0,625.9 726.2,622.5 726.4,619.9 726.6,615.8 726.8,614.1 727.0,610.1 727.2,607.3 727.4,603.3 727.6,601.1 727.8,597.2 728.0,594.6 728.6,591.9 729.2,587.6 729.7,585.9 730.3,581.9 730.9,579.0 731.6,576.4 732.4,572.8 733.1,570.8 733.8,567.3 734.6,569.5 735.3,573.9 736.0,575.5 736.8,579.0 737.4,576.1 737.9,571.7 738.5,569.1 739.1,564.7 739.7,561.4 740.2,565.1 740.7,567.9 741.2,572.3 741.7,575.1 741.9,577.9 742.2,582.4 742.5,584.3 742.8,588.8 743.1,591.4 743.3,595.7 743.6,598.5 743.8,600.8 744.0,605.4 744.3,607.1 744.5,611.2 744.7,613.4 744.9,617.0 745.1,619.3 745.4,623.1 745.6,625.9 745.8,628.6 746.1,632.5 746.4,634.7 746.7,638.4 747.0,640.8 747.2,644.5 747.5,647.4 749.5,650.1 751.4,653.3 752.2,656.5 752.9,658.4 753.6,662.3 754.4,665.0 755.8,668.7 757.3,672.8 758.5,676.9 759.6,680.6 760.1,677.0 760.7,675.1 761.2,670.6 761.7,668.9 762.2,665.0 762.5,660.9 762.7,658.9 763.0,654.4 763.3,652.2 763.6,647.6 763.9,645.5 764.1,641.5 764.5,637.7 764.8,635.2 765.1,631.2 765.4,629.0 765.8,624.7 766.1,622.0 766.5,619.6 766.9,615.4 767.3,613.3 767.7,608.8 768.0,606.4 768.7,602.7 769.3,598.1 770.0,594.6 770.0,598.4 770.0,600.4 770.0,604.6 770.0,606.4 770.0,610.7 770.0,612.6 770.0,616.1 772.9,614.2 774.2,617.5 775.5,620.0 775.7,616.3 775.9,614.1 776.1,609.6 776.3,607.7 776.6,603.2 776.8,600.7 777.0,596.7 777.2,594.2 777.4,590.7 779.4,589.7 780.0,592.0 780.7,596.4 781.3,598.5 782.3,601.7 783.3,606.4 783.6,609.7 783.8,611.9 784.1,616.1 784.4,618.5 784.7,622.0 787.2,623.9 789.5,628.8 792.5,627.9 793.9,631.4 795.4,633.7 798.3,636.6 799.8,633.0 801.3,629.8 802.0,626.6 802.7,622.3 803.5,619.9 804.2,616.1 807.1,612.2 810.1,612.2 811.5,609.0 813.0,606.4 814.5,602.8 815.9,598.5 817.2,594.2 818.5,590.7 820.8,595.6 823.7,600.5 825.2,604.1 826.7,606.4 827.4,608.9 828.1,612.5 828.9,614.5 829.6,618.1 832.5,620.0 835.5,618.1 836.7,621.8 838.0,624.9 838.8,621.5 839.6,619.8 840.4,616.1 840.8,612.5 841.3,609.8 841.8,605.4 842.3,602.4 843.0,599.7 843.8,595.9 844.5,593.9 845.2,590.7 846.7,586.6 848.2,582.9 851.1,580.0 852.6,583.6 854.0,586.8 855.0,589.4 856.0,592.7 858.9,593.6 861.9,596.6 864.8,599.5 867.7,600.5 871.6,600.5 875.5,599.5 877.5,597.6 879.4,594.6 880.4,590.6 881.4,588.6 882.4,583.8 883.4,580.9 883.9,578.1 884.5,573.9 885.1,571.8 885.7,568.1 886.3,565.3 886.9,561.7 887.6,556.8 888.2,553.6 891.2,549.7 891.8,547.0 892.5,542.6 893.1,539.9 895.1,536.0 896.1,539.3 897.0,541.9 897.4,545.1 897.8,549.6 898.2,551.8 898.6,556.4 899.0,559.4 899.6,562.2 900.2,566.4 900.7,568.2 901.3,572.4 901.9,575.1 902.7,577.5 903.4,581.3 904.1,583.1 904.9,586.8 905.6,589.9 906.3,592.1 907.1,596.4 907.8,598.5 908.5,600.7 909.3,605.1 910.0,607.1 910.7,610.3 912.2,614.5 913.6,618.1 915.1,613.5 916.6,610.3 917.2,607.6 917.8,603.4 918.3,601.4 918.9,597.2 919.5,594.6 919.9,591.7 920.3,587.5 920.8,585.1 921.2,580.8 921.6,578.5 922.0,574.1 922.4,571.2 922.8,568.6 923.1,563.9 923.4,561.6 923.7,557.6 924.1,555.6 924.4,551.6 924.8,547.8 925.2,546.1 925.6,542.1 926.0,539.9 926.4,536.0 927.1,531.9 927.8,529.5 928.6,525.1 929.3,522.3 930.3,518.8 931.2,514.5 934.2,512.5 935.1,516.1 936.1,520.4 936.3,523.6 936.4,526.2 936.5,530.1 936.7,532.0 936.8,536.2 937.0,538.6 937.1,541.9 937.2,545.3 937.3,548.0 937.4,552.4 937.5,554.5 937.6,558.3 937.8,561.1 937.9,565.3 938.0,567.3 938.1,571.2 941.0,575.1 942.0,579.1 943.0,581.3 943.9,584.9 944.9,588.6 945.9,590.8 946.9,594.6 948.3,599.3 949.8,602.4 950.8,605.4 951.8,609.3 952.7,612.2 954.7,612.2 955.7,607.6 956.6,604.4 959.6,602.4 963.5,602.4 967.4,598.5 971.3,595.6 972.3,592.9 973.3,589.5 974.2,586.8 976.2,584.9 976.6,588.8 977.0,591.6 977.4,596.2 977.8,598.4 978.1,602.4 978.5,606.1 978.8,608.3 979.1,612.6 979.4,615.0 979.8,619.4 980.1,622.0 980.5,624.4 980.9,628.4 981.3,630.9 981.7,635.2 982.1,637.6 982.4,640.3 982.8,644.1 983.2,646.4 983.6,650.7 984.0,653.3 985.5,656.5 986.9,661.1 987.3,664.8 987.7,666.6 988.1,671.0 988.5,673.1 988.9,676.7 989.5,681.2 990.2,684.2 990.8,688.4 991.3,685.3 991.8,681.4 992.3,678.8 992.8,674.8 993.0,671.1 993.3,668.7 993.5,664.7 993.8,662.5 994.0,658.2 994.3,656.1 994.5,652.0 994.8,649.3 995.0,646.5 995.3,642.0 995.6,640.0 995.9,635.7 996.2,633.0 996.4,629.0 996.7,625.9 997.1,622.9 997.5,618.6 998.0,616.2 998.4,611.9 998.8,609.7 999.2,605.5 999.6,602.4 1000.0,599.7 1000.4,595.8 1000.7,593.3 1001.1,589.5 1001.5,587.0 1001.8,582.7 1002.2,580.7 1002.6,577.0 1003.0,573.6 1003.4,571.2 1003.8,567.4 1004.2,565.1 1004.7,561.2 1005.1,559.4 1005.5,555.5 1006.5,551.3 1007.5,547.7 1007.6,551.0 1007.7,553.3 1007.8,557.4 1007.9,559.5 1008.0,563.3 1008.1,565.3 1008.2,569.5 1008.3,571.4 1008.4,575.1 1009.4,579.8 1010.4,582.9 1011.4,578.6 1012.3,575.1 1012.7,578.8 1013.1,580.8 1013.5,585.1 1013.9,586.9 1014.3,590.7 1014.8,594.5 1015.2,596.5 1015.7,600.8 1016.2,602.9 1016.6,606.4 1017.2,609.9 1017.7,611.9 1018.2,616.1 1018.7,618.7 1019.2,622.0 1020.7,625.2 1022.1,627.9 1026.0,631.8 1029.9,629.8 1033.8,629.8 1035.3,625.5 1036.8,622.0 1037.4,618.7 1037.9,614.3 1038.5,611.6 1039.1,607.7 1039.7,604.4 1040.3,601.5 1040.9,597.0 1041.5,594.5 1042.1,589.8 1042.6,586.8 1043.4,584.2 1044.1,580.5 1044.8,578.4 1045.6,575.1 1047.0,571.7 1048.5,569.2 1050.5,567.3 1050.8,571.1 1051.2,573.1 1051.6,577.2 1052.0,579.5 1052.4,582.9 1052.9,586.9 1053.4,589.4 1053.9,593.9 1054.4,596.6 1055.0,599.3 1055.7,603.6 1056.3,606.4 1057.3,609.2 1058.3,613.3 1059.3,616.1 1060.7,618.5 1062.2,622.0 1062.9,625.7 1063.6,627.5 1064.4,631.0 1065.1,633.7 1066.6,637.2 1068.0,641.5 1070.0,641.5 1070.0,643.5 1070.7,640.3 1071.5,636.4 1072.2,633.6 1072.9,629.8 1073.5,626.3 1074.1,623.8 1074.7,620.2 1075.3,617.8 1075.9,614.2 1076.4,610.9 1077.0,608.3 1077.6,604.6 1078.2,601.9 1078.8,598.5 1079.4,594.2 1080.1,591.4 1080.7,586.8 1081.4,582.3 1082.1,579.6 1082.7,575.1 1083.2,571.0 1083.7,569.0 1084.2,564.6 1084.7,561.4 1087.2,559.4 1087.9,563.7 1088.6,567.3 1089.5,570.2 1090.5,574.3 1091.5,577.0 1092.0,579.9 1092.5,584.3 1093.0,586.8 1093.5,590.7 1093.8,594.4 1094.2,596.5 1094.6,600.4 1095.0,602.6 1095.4,606.4 1096.1,609.7 1096.9,611.5 1097.6,615.6 1098.3,618.1 1099.0,620.9 1099.6,624.9 1100.3,627.9 1100.9,630.4 1101.6,633.9 1102.2,636.6 1105.2,637.6 1108.1,635.7 1108.8,631.8 1109.4,629.6 1110.1,625.9 1113.0,623.0 1115.9,622.0 1116.6,624.7 1117.2,629.0 1117.9,631.8 1118.1,628.1 1118.4,626.1 1118.6,621.6 1118.9,619.3 1119.1,615.4 1119.3,612.9 1119.6,609.0 1119.8,606.4 1120.2,603.9 1120.5,599.2 1120.8,597.1 1121.1,592.7 1121.5,590.7 1121.8,586.8 1122.8,582.4 1123.7,579.0 1124.0,582.6 1124.3,585.2 1124.6,589.3 1124.9,592.1 1125.1,596.5 1125.4,598.6 1125.7,602.4 1127.2,605.9 1128.6,608.3 1129.0,611.1 1129.4,615.9 1129.8,618.5 1130.2,622.8 1130.6,625.9 1131.1,628.7 1131.6,633.1 1132.1,635.1 1132.5,639.7 1133.0,641.7 1133.5,645.4 1134.3,648.7 1135.0,650.9 1135.7,654.7 1136.4,657.2 1137.4,660.1 1138.4,664.5 1139.4,666.9 1140.4,669.6 1141.3,674.0 1142.3,676.7 1143.8,679.4 1145.2,682.6 1145.9,679.9 1146.5,675.6 1147.2,672.8 1147.5,669.7 1147.9,665.5 1148.2,663.5 1148.5,659.3 1148.8,657.1 1149.2,653.3 1149.6,649.7 1150.1,647.5 1150.6,642.8 1151.1,641.0 1151.6,636.3 1152.1,633.7 1152.7,631.0 1153.3,625.9 1153.8,623.5 1154.4,619.2 1155.0,616.1 1155.6,613.2 1156.2,608.3 1156.8,605.7 1157.4,601.5 1157.9,598.5 1158.9,595.9 1159.9,591.3 1160.9,588.8 1163.8,586.8 1165.3,591.5 1166.7,594.6 1167.1,597.3 1167.4,601.9 1167.7,604.1 1168.0,607.9 1168.4,610.2 1168.7,614.2 1169.0,618.1 1169.3,620.1 1169.7,624.2 1170.0,626.6 1170.3,630.6 1170.7,633.7 1172.6,637.6 1172.8,640.3 1173.0,644.4 1173.3,646.0 1173.5,650.4 1173.7,652.5 1173.9,656.4 1174.1,658.4 1174.3,662.6 1174.6,665.0 1175.0,667.8 1175.3,671.7 1175.7,673.7 1176.1,677.9 1176.5,680.6 1179.4,684.5 1182.4,688.4 1183.4,691.4 1184.3,695.5 1185.3,698.2 1185.8,694.2 1186.3,691.7 1186.8,687.5 1187.3,684.5 1187.5,681.5 1187.8,677.2 1188.1,675.2 1188.4,670.6 1188.7,668.2 1188.9,663.8 1189.2,661.1 1189.5,658.2 1189.8,654.2 1190.1,651.4 1190.3,647.3 1190.6,644.6 1190.9,640.5 1191.2,637.6 1191.5,634.9 1191.8,630.9 1192.1,628.5 1192.3,624.5 1192.6,622.8 1192.9,618.5 1193.2,616.5 1193.5,612.4 1193.8,609.7 1194.1,606.4 1194.5,602.3 1194.9,600.2 1195.4,595.8 1195.8,593.3 1196.2,588.8 1196.6,586.5 1197.0,582.9 1197.8,578.8 1198.5,576.4 1199.2,572.0 1200.0,569.2 1201.4,573.9 1202.9,577.0 1203.6,579.9 1204.2,584.0 1204.9,586.8 1205.3,589.4 1205.7,594.1 1206.1,596.2 1206.5,600.8 1206.9,603.3 1207.4,607.3 1207.8,610.3 1208.2,612.9 1208.6,616.9 1209.0,619.1 1209.3,623.5 1209.7,625.9 1210.7,629.0 1211.7,633.0 1212.7,635.7 1216.6,638.6 1221.5,638.6 1225.4,637.6 1228.3,633.7 1229.8,629.6 1231.2,625.9 1232.7,622.6 1234.2,618.1 1237.1,616.1 1238.6,618.9 1240.0,622.0 1243.0,625.9 1245.9,629.8 1248.8,633.7 1251.8,638.6 1253.2,642.2 1254.7,645.4 1256.2,647.8 1257.6,651.3 1260.6,654.2 1263.5,654.2 1266.4,649.3 1267.0,646.6 1267.6,642.8 1268.2,640.2 1268.8,636.5 1269.3,633.7 1269.9,631.4 1270.5,627.2 1271.1,624.7 1271.7,620.9 1272.3,618.1 1272.8,615.6 1273.3,611.3 1273.7,608.5 1274.2,604.8 1274.7,602.6 1275.2,598.5 1275.9,594.7 1276.5,592.4 1277.2,588.8 1280.1,586.8 1280.3,589.4 1280.6,594.1 1280.8,596.3 1281.0,600.1 1281.2,602.6 1281.5,606.4 1281.8,610.6 1282.1,613.1 1282.4,617.2 1282.7,620.0 1283.0,623.9 1286.0,625.9 1287.4,630.0 1288.9,633.7 1289.5,636.5 1290.1,641.3 1290.7,643.6 1291.2,648.3 1291.8,651.3 1292.5,654.1 1293.1,658.1 1293.8,661.1 1294.6,664.7 1295.5,669.4 1296.3,672.8 1298.7,668.9 1301.6,665.0 1302.2,661.6 1302.8,659.4 1303.4,655.2 1303.9,653.3 1304.5,649.3 1304.9,645.6 1305.4,643.4 1305.8,639.1 1306.2,636.5 1306.6,632.4 1307.0,630.0 1307.5,625.9 1307.9,622.0 1308.3,619.5 1308.7,615.4 1309.1,613.0 1309.6,608.4 1310.0,606.4 1310.4,602.4 1311.1,598.6 1311.9,595.9 1312.6,591.4 1313.3,588.8 1316.3,590.7 1316.7,594.5 1317.2,596.9 1317.7,601.4 1318.2,604.4 1318.6,600.2 1319.0,597.8 1319.4,593.4 1319.8,590.9 1320.2,586.8 1323.1,586.8 1323.4,589.7 1323.7,593.9 1324.1,595.9 1324.4,600.3 1324.7,602.4 1325.0,606.4 1325.3,610.2 1325.6,612.4 1325.9,617.2 1326.2,619.3 1326.4,623.9 1326.7,626.1 1327.0,629.8 1327.6,633.1 1328.2,635.7 1328.8,639.4 1329.3,641.9 1329.9,645.4 1331.4,650.0 1332.9,653.3 1335.8,657.2" fill="none" stroke="#0414d6" stroke-width="4.3" stroke-linejoin="round" stroke-linecap="round"/>
<polyline points="170.0,623.9 174.9,628.8 179.8,630.8 184.7,625.9 189.5,616.1 194.4,606.4 198.3,602.4 202.2,606.4 207.1,614.2 212.0,622.0 216.9,627.9 220.4,629.8 223.7,622.0 227.7,614.2 230.6,604.4 233.5,592.7 236.4,589.7 239.4,594.6 243.3,604.4 247.2,612.2 251.1,618.1 255.0,623.9 258.9,625.9 262.8,622.0 265.8,612.2 268.7,600.5 271.6,586.8 274.6,577.0 277.1,577.0 280.4,584.9 284.3,598.5 288.2,612.2 292.1,622.0 296.1,626.9 299.0,625.9 301.9,618.1 304.9,604.4 307.8,590.7 310.7,579.0 313.6,571.2 316.6,575.1 319.5,582.9 323.4,596.6 327.3,608.3 331.2,618.1 335.1,623.9 338.1,625.9 341.0,618.1 343.9,602.4 345.9,586.8 347.9,575.1 350.8,573.1 353.7,572.1 356.6,575.1 359.6,586.8 363.5,602.4 367.4,614.2 371.3,620.0 375.2,623.0 379.1,622.0 382.1,614.2 385.0,598.5 387.9,579.0 389.9,569.2 392.8,575.1 395.7,586.8 399.6,602.4 403.6,616.1 407.5,625.9 411.4,629.8 415.3,628.8 418.2,622.0 421.1,612.2 424.1,606.4 428.0,608.3 431.9,611.2 435.8,614.2 439.7,623.9 443.6,633.7 447.5,641.5 451.4,645.4 454.4,637.6 457.3,622.0 460.2,606.4 463.2,596.6 466.1,592.7 470.0,596.6 470.0,596.6 472.9,602.4 475.9,614.2 479.8,623.9 483.7,629.8 488.6,633.7 491.5,629.8 494.4,618.1 497.4,615.1 509.1,615.1 520.8,616.1 533.5,616.1 536.4,606.4 539.4,590.7 542.3,575.1 545.2,555.5 547.2,545.8 549.2,542.8 551.1,551.6 554.0,569.2 557.0,586.8 559.9,600.5 562.8,610.3 565.8,615.1 568.7,617.1 570.7,602.4 572.6,579.0 574.6,559.4 577.1,553.6 580.4,552.6 583.4,553.6 586.3,557.5 590.2,561.4 593.1,571.2 597.0,580.9 600.9,588.8 605.8,590.7 607.8,586.8 610.7,571.2 613.6,553.6 616.6,541.9 619.5,534.0 622.4,526.2 625.4,520.4 627.3,520.4 629.3,528.2 632.2,541.9 635.1,555.5 638.1,565.3 641.0,573.1 644.9,578.0 646.9,579.0 649.8,567.3 652.7,557.5 655.7,551.6 657.6,555.5 659.6,539.9 661.5,528.2 663.9,524.3 666.4,528.2 669.3,541.9 672.3,559.4 675.2,575.1 678.1,588.8 681.1,598.5 684.0,602.4 686.9,594.6 690.8,579.0 694.8,561.4 697.7,545.8 700.2,536.0 702.6,537.9 705.5,545.8 708.4,561.4 712.3,579.0 716.3,590.7 720.2,598.5 724.1,600.5 727.0,594.6 729.9,575.1 732.9,555.5 735.8,543.8 738.7,536.0 741.7,530.1 743.6,536.0 745.6,551.6 748.5,571.2 751.4,590.7 754.4,606.4 757.3,618.1 760.2,623.9 763.2,625.9 766.1,616.1 768.0,598.5 770.0,590.7 770.0,588.8 773.9,582.9 776.8,573.1 779.4,561.4 781.3,559.4 783.7,567.3 786.6,584.9 789.5,596.6 793.5,604.4 797.4,609.3 801.3,610.3 804.2,604.4 807.1,594.6 811.0,588.8 815.0,583.9 817.9,580.0 820.8,579.0 823.7,584.9 827.7,594.6 831.6,602.4 835.5,605.4 838.4,604.4 841.3,596.6 845.2,584.9 848.2,577.0 851.1,573.1 854.0,576.1 857.9,580.9 861.9,585.8 865.8,590.7 869.7,593.6 873.6,595.6 877.5,595.6 881.4,590.7 884.3,579.0 887.3,561.4 889.6,545.8 892.1,532.1 895.1,529.2 897.0,528.2 899.0,532.1 900.9,541.9 903.9,553.6 906.8,565.3 909.7,575.1 912.7,582.9 915.6,584.9 918.5,584.9 921.5,571.2 924.4,547.7 926.4,528.2 928.3,508.6 930.3,496.9 932.2,491.0 935.1,491.0 937.1,495.0 939.1,508.6 941.0,524.3 943.9,541.9 946.9,555.5 949.8,563.4 953.7,571.2 957.6,574.1 961.5,575.1 965.4,571.2 969.3,568.2 973.3,567.3 976.2,565.3 978.1,571.2 980.1,582.9 983.0,596.6 986.0,608.3 988.9,618.1 991.8,622.0 994.8,622.0 996.7,614.2 998.7,598.5 1001.6,575.1 1003.6,553.6 1005.5,536.0 1007.5,531.1 1009.4,537.9 1011.4,539.9 1013.9,537.9 1015.9,545.8 1018.2,559.4 1021.1,573.1 1024.1,584.9 1028.0,592.7 1031.9,597.6 1035.8,598.5 1038.7,592.7 1040.7,579.0 1042.6,559.4 1044.6,543.8 1047.5,538.9 1050.5,535.0 1052.4,539.9 1055.3,553.6 1058.3,565.3 1061.2,577.0 1065.1,588.8 1068.0,594.6 1070.0,598.5 1070.0,598.5 1073.9,596.6 1076.8,586.8 1079.8,567.3 1082.7,547.7 1085.6,537.9 1087.6,528.2 1089.5,526.2 1091.5,534.0 1094.4,551.6 1097.4,565.3 1101.3,577.0 1105.2,586.8 1109.1,590.7 1113.0,586.8 1116.9,580.9 1119.8,571.2 1121.8,557.5 1123.7,545.8 1125.7,541.9 1127.7,551.6 1129.6,553.6 1132.5,571.2 1136.4,590.7 1139.4,606.4 1142.3,618.1 1145.2,623.0 1148.2,623.0 1151.1,616.1 1154.0,602.4 1157.0,580.9 1159.9,559.4 1161.9,545.8 1164.8,539.9 1166.7,538.9 1169.7,545.8 1172.6,565.3 1175.5,586.8 1178.5,604.4 1181.4,618.1 1184.3,627.9 1187.3,631.8 1189.6,629.8 1192.1,614.2 1195.1,586.8 1197.0,559.4 1199.4,536.0 1201.9,526.2 1204.5,526.2 1206.8,536.0 1209.7,555.5 1212.7,571.2 1215.6,582.9 1218.5,590.7 1222.4,596.6 1226.4,599.5 1229.3,598.5 1232.2,590.7 1235.1,580.9 1238.1,575.1 1240.0,575.1 1243.0,580.9 1246.9,584.9 1249.8,594.6 1253.7,604.4 1257.6,612.2 1261.5,617.1 1265.4,618.1 1269.3,614.2 1272.3,600.5 1274.2,582.9 1276.2,565.3 1278.1,558.5 1281.1,563.4 1284.0,575.1 1286.9,586.8 1290.8,602.4 1294.8,616.1 1298.7,626.9 1302.6,630.8 1305.5,627.9 1308.4,610.3 1311.4,586.8 1313.3,569.2 1316.3,561.4 1319.2,559.4 1322.1,558.5 1324.1,567.3 1326.0,582.9 1329.0,598.5 1331.9,606.4 1334.8,610.3" fill="none" stroke="#000" stroke-width="4.6" stroke-linejoin="round" stroke-linecap="round"/>
<polyline points="171.0,1059.2 171.4,1062.3 171.8,1066.9 172.1,1069.2 172.5,1073.5 172.9,1076.8 173.6,1073.3 174.2,1070.5 174.9,1067.0 175.3,1069.6 175.7,1073.5 176.1,1075.7 176.4,1080.1 176.8,1082.6 177.5,1078.5 178.1,1076.9 178.8,1072.8 179.3,1076.0 179.8,1080.1 180.3,1082.8 180.7,1086.5 181.4,1091.1 182.1,1093.8 182.7,1098.3 183.1,1095.3 183.5,1091.3 183.9,1089.3 184.3,1085.2 184.7,1082.6 185.6,1079.5 186.6,1074.8 186.9,1077.7 187.3,1081.9 187.6,1083.9 187.9,1088.7 188.2,1090.6 188.6,1094.3 189.0,1091.5 189.3,1087.9 189.7,1085.7 190.1,1081.0 190.5,1078.7 191.5,1083.3 192.5,1086.5 192.8,1082.7 193.1,1080.8 193.5,1076.2 193.8,1073.7 194.1,1069.6 194.4,1067.0 194.6,1064.6 194.7,1060.2 194.8,1057.7 194.9,1054.0 195.0,1051.3 195.2,1047.7 195.3,1045.2 195.4,1041.3 195.5,1039.0 195.7,1034.5 195.8,1032.4 195.9,1028.4 196.0,1026.6 196.1,1022.2 196.3,1019.7 196.4,1016.2 196.6,1018.7 196.8,1022.6 197.0,1025.1 197.2,1029.5 197.4,1031.3 197.6,1035.6 197.8,1037.2 197.9,1042.0 198.1,1043.9 198.3,1047.4 198.6,1051.0 198.8,1053.7 199.0,1057.5 199.2,1060.0 199.4,1063.9 199.6,1066.7 199.9,1070.4 200.1,1072.9 200.3,1076.8 200.9,1073.9 201.6,1069.8 202.2,1067.0 202.6,1071.0 202.9,1073.0 203.2,1077.0 203.6,1079.6 203.9,1084.0 204.2,1086.5 204.3,1083.2 204.5,1080.8 204.6,1076.6 204.7,1074.6 204.9,1070.1 205.0,1068.1 205.1,1064.3 205.2,1062.1 205.4,1058.0 205.5,1056.0 205.6,1051.3 205.8,1049.8 205.9,1045.5 206.0,1043.2 206.2,1039.6 206.4,1042.5 206.6,1046.1 206.8,1047.9 207.0,1052.6 207.2,1054.0 207.5,1058.2 207.7,1060.6 207.9,1064.6 208.1,1067.0 208.5,1069.3 208.9,1073.9 209.3,1076.1 209.7,1080.3 210.1,1082.6 211.0,1078.0 212.0,1074.8 212.7,1079.0 213.3,1082.2 214.0,1086.5 215.0,1083.5 215.9,1078.7 216.3,1074.7 216.7,1072.4 217.1,1067.9 217.5,1065.5 217.9,1061.1 218.1,1064.0 218.4,1068.4 218.6,1070.2 218.9,1074.1 219.1,1076.1 219.3,1080.7 219.6,1082.9 219.8,1086.5 220.1,1090.8 220.4,1093.2 220.7,1097.4 220.9,1100.2 221.2,1104.1 221.4,1101.3 221.7,1097.5 221.9,1095.5 222.1,1091.3 222.3,1089.3 222.5,1085.1 222.8,1082.6 223.7,1079.2 224.7,1074.8 225.4,1070.7 226.0,1067.3 226.7,1063.1 227.3,1058.5 228.0,1055.7 228.6,1051.3 229.3,1046.9 229.9,1043.8 230.6,1039.6 231.0,1042.4 231.4,1046.6 231.8,1048.4 232.1,1053.0 232.5,1055.3 232.9,1051.1 233.3,1048.8 233.7,1044.2 234.1,1041.7 234.5,1037.7 234.8,1040.1 235.1,1044.7 235.3,1046.3 235.6,1050.7 235.9,1052.8 236.2,1056.3 236.4,1059.2 236.6,1055.7 236.8,1053.5 237.0,1049.3 237.2,1047.0 237.3,1042.4 237.5,1040.3 237.7,1036.3 237.9,1034.5 238.0,1030.1 238.2,1027.7 238.4,1024.0 238.7,1027.0 239.0,1031.4 239.2,1033.5 239.5,1037.6 239.8,1040.1 240.1,1044.3 240.4,1047.4 240.7,1049.8 241.1,1053.9 241.5,1056.6 241.9,1060.3 242.3,1063.1 242.4,1059.5 242.5,1057.7 242.6,1053.6 242.8,1051.4 242.9,1047.5 243.0,1045.3 243.1,1041.3 243.2,1039.1 243.3,1035.2 243.4,1032.6 243.5,1028.8 243.7,1026.8 243.8,1022.8 243.9,1020.1 244.0,1017.5 244.2,1013.5 244.3,1010.8 244.5,1007.1 244.6,1005.1 244.8,1000.6 244.9,998.5 245.1,994.5 245.2,991.7 245.5,995.8 245.8,998.1 246.1,1002.6 246.3,1004.3 246.6,1008.4 246.7,1012.0 246.8,1014.0 246.9,1018.2 247.1,1020.2 247.2,1024.4 247.3,1026.3 247.4,1030.1 247.5,1032.7 247.6,1036.4 247.7,1038.8 247.8,1042.9 248.0,1044.8 248.1,1048.7 248.2,1051.3 248.5,1047.7 248.7,1045.0 249.0,1040.4 249.3,1038.3 249.6,1034.2 249.9,1031.4 250.1,1027.9 250.5,1030.6 250.8,1034.7 251.1,1037.5 251.4,1041.2 251.8,1044.0 252.1,1047.4 252.4,1044.8 252.6,1040.7 252.9,1038.9 253.2,1034.5 253.5,1032.5 253.8,1028.1 254.0,1025.9 254.3,1029.8 254.5,1032.1 254.8,1036.3 255.0,1037.9 255.3,1042.1 255.5,1044.5 255.7,1048.9 256.0,1051.3 257.0,1054.7 257.9,1059.2 258.6,1063.7 259.3,1066.6 259.9,1070.9 260.3,1068.0 260.7,1064.4 261.1,1062.1 261.5,1057.8 261.9,1055.3 262.5,1059.7 263.2,1062.3 263.8,1067.0 264.0,1064.5 264.2,1060.2 264.5,1058.6 264.7,1054.6 264.9,1052.5 265.1,1048.0 265.3,1046.2 265.5,1042.1 265.8,1039.6 266.0,1037.3 266.2,1032.9 266.4,1030.8 266.6,1026.7 266.9,1025.0 267.1,1021.2 267.3,1019.0 267.5,1014.6 267.7,1012.3 267.9,1015.9 268.2,1017.8 268.4,1022.2 268.6,1023.5 268.8,1027.7 269.0,1029.7 269.2,1034.0 269.5,1036.3 269.7,1039.6 270.3,1036.0 271.0,1031.5 271.6,1027.9 272.0,1032.0 272.3,1033.6 272.6,1038.5 272.9,1040.6 273.3,1044.7 273.6,1047.4 273.9,1043.9 274.1,1041.2 274.4,1037.1 274.7,1034.4 275.0,1030.5 275.3,1028.1 275.5,1024.0 277.1,1020.1 277.3,1022.5 277.6,1027.4 277.8,1029.4 278.0,1034.0 278.2,1035.9 278.5,1039.6 278.9,1043.1 279.3,1045.6 279.6,1049.4 280.0,1051.8 280.4,1055.3 282.4,1059.2 284.3,1061.1 284.8,1058.2 285.3,1053.8 285.8,1051.7 286.3,1047.4 288.2,1043.5 288.6,1046.0 289.0,1050.6 289.4,1052.2 289.8,1056.7 290.2,1059.2 290.5,1055.1 290.8,1052.9 291.0,1048.3 291.3,1046.3 291.6,1042.0 291.9,1039.9 292.1,1035.7 292.5,1038.2 292.9,1042.5 293.3,1044.8 293.7,1048.6 294.1,1051.3 294.8,1054.7 295.4,1060.0 296.1,1063.1 296.3,1065.9 296.6,1070.1 296.9,1072.7 297.2,1076.8 297.5,1079.2 297.7,1083.9 298.0,1086.5 298.3,1089.4 298.6,1093.7 298.9,1096.4 299.1,1100.8 299.4,1102.7 299.7,1107.4 300.0,1110.0 300.2,1106.6 300.4,1104.4 300.6,1100.0 300.8,1098.6 301.1,1094.6 301.3,1092.6 301.5,1088.1 301.7,1086.1 301.9,1082.6 302.2,1078.7 302.4,1077.1 302.7,1072.8 302.9,1070.5 303.1,1065.9 303.4,1064.2 303.6,1059.9 303.9,1057.2 304.2,1054.3 304.4,1050.7 304.7,1048.6 305.0,1044.7 305.3,1042.5 305.6,1038.5 305.8,1035.7 306.5,1032.4 307.1,1027.4 307.8,1024.0 308.1,1021.5 308.3,1017.3 308.6,1015.5 308.9,1010.7 309.2,1008.4 309.4,1012.0 309.7,1014.0 309.9,1018.5 310.2,1020.8 310.5,1025.1 310.7,1027.9 311.0,1030.5 311.4,1034.8 311.7,1037.2 312.0,1041.6 312.3,1043.4 312.7,1047.4 312.9,1051.2 313.2,1053.1 313.5,1058.0 313.7,1060.1 314.0,1064.1 314.2,1067.0 314.4,1063.4 314.5,1061.2 314.7,1057.2 314.8,1055.1 315.0,1051.4 315.1,1049.0 315.3,1045.5 315.5,1043.5 315.6,1039.6 316.0,1042.0 316.4,1046.7 316.8,1048.7 317.2,1052.8 317.6,1055.3 317.9,1058.0 318.2,1062.5 318.6,1065.2 318.9,1068.9 319.0,1066.3 319.1,1062.0 319.2,1060.7 319.3,1056.3 319.4,1054.4 319.5,1050.4 319.6,1048.0 319.7,1044.2 319.8,1042.3 319.9,1037.9 320.0,1036.1 320.1,1032.1 320.2,1030.1 320.3,1025.5 320.4,1023.6 320.5,1020.1 321.3,1023.1 322.1,1027.9 322.2,1031.4 322.3,1033.7 322.5,1037.5 322.6,1039.6 322.7,1044.4 322.9,1046.3 323.0,1050.7 323.1,1052.5 323.3,1056.5 323.4,1059.2 323.7,1055.0 324.0,1053.2 324.3,1048.3 324.5,1046.4 324.8,1042.0 325.1,1039.8 325.4,1035.7 325.7,1032.3 325.9,1029.9 326.2,1026.3 326.5,1023.8 326.8,1019.5 327.0,1017.7 327.3,1014.2 327.6,1010.8 327.9,1008.5 328.2,1004.2 328.4,1002.0 328.7,997.4 329.0,995.6 329.3,991.7 329.4,994.0 329.6,998.4 329.8,1000.1 329.9,1004.1 330.1,1006.5 330.3,1010.4 330.4,1012.4 330.6,1016.4 330.7,1018.1 330.9,1022.8 331.1,1024.4 331.2,1027.9 331.5,1031.7 331.7,1033.8 331.9,1037.3 332.1,1039.2 332.3,1043.9 332.5,1045.3 332.8,1049.5 333.0,1051.4 333.2,1055.3 334.2,1059.8 335.1,1063.1 335.5,1059.6 335.9,1057.1 336.3,1053.3 336.7,1051.2 337.1,1047.4 337.2,1050.3 337.3,1054.1 337.4,1056.1 337.5,1060.2 337.6,1062.2 337.7,1065.9 337.8,1067.8 337.9,1071.8 338.0,1074.0 338.2,1077.9 338.3,1080.1 338.4,1084.0 338.5,1086.5 338.7,1082.5 339.0,1080.5 339.3,1076.1 339.5,1073.7 339.8,1069.8 340.0,1067.0 340.4,1064.2 340.7,1060.0 341.0,1057.4 341.3,1053.3 341.7,1050.9 342.0,1047.4 342.4,1050.1 342.8,1054.0 343.2,1056.3 343.6,1060.2 343.9,1063.1 344.1,1059.1 344.3,1057.0 344.5,1052.6 344.7,1050.8 344.8,1046.2 345.0,1044.7 345.2,1039.9 345.4,1038.2 345.5,1033.8 345.7,1031.9 345.9,1027.9 346.0,1024.2 346.2,1021.7 346.3,1017.6 346.5,1015.2 346.6,1010.9 346.7,1008.5 346.9,1004.4 347.2,1007.0 347.4,1011.8 347.7,1013.9 348.0,1018.3 348.3,1020.7 348.5,1025.0 348.8,1027.9 349.2,1031.0 349.5,1034.9 349.8,1036.9 350.1,1041.4 350.5,1043.7 350.8,1047.4 351.8,1043.8 352.7,1039.6 353.4,1042.6 354.0,1046.7 354.7,1049.4 355.2,1045.3 355.7,1043.3 356.2,1038.6 356.6,1035.7 356.8,1039.3 356.9,1041.0 357.1,1045.7 357.2,1047.3 357.3,1051.4 357.5,1053.6 357.6,1058.1 357.8,1059.5 357.9,1063.6 358.0,1065.7 358.2,1070.3 358.3,1071.8 358.5,1076.2 358.6,1078.7 359.3,1074.5 359.9,1071.4 360.6,1067.0 361.2,1062.9 361.9,1059.5 362.5,1055.3 363.5,1058.5 364.5,1063.1 364.8,1060.2 365.1,1056.6 365.4,1054.3 365.7,1049.8 366.0,1047.4 366.3,1044.8 366.5,1040.7 366.7,1038.3 366.9,1033.7 367.2,1032.0 367.4,1027.9 367.7,1030.7 368.0,1034.9 368.4,1037.0 368.7,1041.7 369.0,1043.5 369.3,1047.4 369.7,1051.3 370.0,1053.5 370.3,1057.4 370.7,1059.8 371.0,1064.3 371.3,1067.0 371.7,1069.8 372.1,1073.9 372.5,1076.2 372.9,1079.7 373.3,1082.6 373.9,1085.5 374.6,1089.7 375.2,1092.4 375.6,1095.2 376.0,1099.5 376.4,1102.3 376.8,1106.1 377.1,1103.1 377.4,1098.7 377.8,1096.8 378.1,1092.9 378.4,1090.4 378.7,1086.5 379.1,1082.6 379.4,1080.9 379.7,1076.4 380.0,1073.7 380.4,1069.8 380.7,1067.0 381.0,1070.5 381.3,1073.3 381.7,1077.6 382.0,1079.7 382.3,1083.8 382.6,1086.5 383.0,1089.2 383.3,1093.8 383.7,1096.6 384.0,1100.2 384.1,1097.9 384.1,1094.0 384.2,1091.9 384.3,1087.4 384.3,1085.5 384.4,1081.8 384.5,1079.5 384.5,1075.4 384.6,1073.8 384.7,1069.5 384.7,1067.8 384.8,1063.7 384.9,1061.9 384.9,1057.2 385.0,1055.4 385.0,1051.3 385.1,1049.7 385.2,1045.2 385.2,1043.3 385.3,1039.3 385.4,1037.6 385.4,1033.4 385.5,1031.6 385.6,1027.9 385.6,1024.4 385.6,1022.5 385.7,1018.5 385.7,1016.1 385.8,1012.6 385.8,1010.1 385.8,1006.4 385.9,1004.0 385.9,1000.2 385.9,998.5 386.0,994.6 386.0,992.3 386.1,988.0 386.1,986.0 386.1,982.0 386.2,980.0 386.2,976.5 386.2,974.6 386.3,970.1 386.3,968.4 386.4,964.5 386.4,962.5 386.4,958.3 386.5,955.9 386.5,952.3 386.5,949.7 386.6,947.1 386.7,942.7 386.7,941.3 386.8,937.3 386.8,934.9 386.9,930.9 386.9,928.9 387.0,924.4 387.0,922.9 387.1,918.9 387.1,916.8 387.2,912.8 387.2,910.4 387.3,906.5 387.3,903.8 387.4,907.3 387.5,909.5 387.6,913.4 387.6,915.4 387.7,919.4 387.8,921.9 387.9,925.9 388.0,927.7 388.0,931.8 388.1,933.6 388.2,938.3 388.3,940.2 388.3,944.4 388.4,946.2 388.5,949.7 388.6,953.1 388.6,955.2 388.7,959.5 388.7,961.3 388.8,965.0 388.8,967.1 388.9,971.1 388.9,973.0 389.0,977.1 389.0,979.0 389.1,983.1 389.1,985.1 389.2,989.1 389.2,991.5 389.3,995.4 389.3,997.4 389.4,1001.7 389.4,1003.6 389.5,1007.1 389.6,1009.0 389.6,1013.6 389.7,1015.5 389.7,1019.1 389.8,1021.4 389.8,1025.4 389.9,1027.9 390.0,1030.3 390.1,1034.8 390.3,1037.0 390.4,1040.9 390.6,1042.7 390.7,1047.3 390.8,1049.3 391.0,1053.6 391.1,1055.3 391.2,1059.2 391.3,1056.9 391.4,1052.4 391.5,1050.5 391.6,1046.8 391.7,1044.7 391.8,1040.3 391.8,1038.4 391.9,1034.2 392.0,1032.5 392.1,1028.5 392.2,1026.5 392.3,1022.2 392.4,1019.9 392.5,1016.3 392.5,1014.4 392.6,1010.3 392.7,1008.1 392.8,1004.4 393.0,1007.2 393.2,1011.9 393.5,1014.0 393.7,1018.2 393.9,1020.7 394.1,1024.8 394.4,1027.9 394.6,1030.7 394.8,1034.8 395.0,1037.5 395.3,1041.4 395.5,1043.7 395.7,1047.4 395.9,1044.7 396.0,1040.5 396.2,1038.7 396.3,1034.8 396.5,1032.5 396.6,1028.4 396.8,1026.7 396.9,1022.8 397.1,1020.1 397.3,1023.6 397.4,1025.4 397.6,1029.7 397.8,1031.7 398.0,1036.1 398.1,1037.5 398.3,1041.8 398.5,1043.9 398.7,1047.4 398.8,1050.6 399.0,1053.1 399.1,1056.9 399.3,1059.0 399.4,1063.1 399.6,1064.6 399.7,1068.7 399.9,1070.7 400.0,1074.8 400.2,1076.9 400.3,1080.7 400.5,1082.9 400.6,1086.5 400.7,1083.8 400.8,1080.1 400.8,1077.9 400.9,1073.6 401.0,1071.7 401.0,1067.8 401.1,1066.0 401.2,1061.6 401.3,1059.7 401.3,1055.8 401.4,1053.8 401.5,1049.7 401.5,1047.6 401.6,1043.7 401.7,1041.7 401.8,1037.7 401.8,1035.7 401.9,1032.0 402.0,1029.7 402.0,1025.5 402.1,1023.5 402.2,1020.1 402.2,1022.3 402.3,1026.9 402.3,1029.1 402.4,1033.1 402.4,1035.1 402.4,1039.2 402.5,1040.9 402.5,1045.5 402.6,1047.5 402.6,1051.4 402.7,1053.5 402.7,1057.5 402.8,1059.8 402.8,1064.1 402.8,1065.6 402.9,1070.0 402.9,1072.1 403.0,1076.3 403.0,1078.4 403.1,1082.3 403.1,1084.3 403.2,1088.2 403.2,1090.3 403.2,1094.4 403.3,1097.1 403.3,1101.2 403.4,1102.8 403.4,1107.4 403.5,1109.0 403.5,1113.4 403.6,1115.8 403.7,1112.1 403.8,1110.4 403.9,1106.0 404.0,1103.9 404.2,1099.8 404.3,1098.2 404.4,1093.7 404.5,1092.0 404.6,1088.0 404.8,1085.7 404.9,1081.6 405.0,1079.4 405.1,1075.9 405.3,1073.9 405.4,1069.2 405.5,1067.0 405.6,1064.1 405.7,1060.1 405.9,1058.5 406.0,1054.0 406.1,1052.1 406.2,1048.0 406.4,1045.4 406.5,1041.8 406.6,1039.2 406.7,1035.6 406.8,1033.4 407.0,1028.9 407.1,1026.7 407.2,1022.7 407.3,1021.0 407.5,1017.1 407.6,1019.5 407.7,1023.7 407.9,1025.9 408.0,1030.0 408.1,1032.1 408.3,1036.1 408.4,1037.9 408.6,1041.7 408.7,1043.9 408.8,1047.4 408.9,1050.9 409.0,1053.0 409.1,1056.8 409.2,1059.2 409.3,1063.3 409.3,1065.2 409.4,1069.6 409.5,1071.2 409.6,1075.0 409.7,1077.2 409.8,1081.3 409.9,1083.0 410.0,1087.6 410.0,1089.5 410.1,1093.5 410.2,1095.5 410.3,1099.9 410.4,1102.2 410.5,1098.8 410.7,1096.2 410.8,1091.8 410.9,1089.5 411.1,1085.3 411.2,1083.5 411.4,1078.9 411.5,1077.1 411.6,1072.8 411.8,1070.6 411.9,1066.5 412.1,1064.5 412.2,1059.8 412.3,1057.2 412.5,1061.0 412.7,1063.4 412.9,1067.7 413.0,1070.0 413.2,1074.2 413.4,1076.2 413.6,1080.8 413.7,1082.7 413.9,1086.5 414.1,1090.2 414.4,1092.9 414.6,1097.0 414.8,1099.5 415.0,1103.6 415.2,1105.7 415.5,1110.0 415.9,1113.4 416.4,1115.6 416.8,1120.1 417.2,1122.7 417.4,1119.1 417.6,1116.9 417.7,1112.8 417.9,1111.2 418.0,1106.9 418.2,1105.5 418.4,1100.8 418.5,1098.9 418.7,1095.2 418.9,1092.8 419.0,1089.0 419.2,1086.5 419.4,1083.8 419.5,1079.3 419.7,1077.5 419.9,1073.5 420.1,1070.9 420.3,1066.7 420.4,1064.8 420.6,1060.4 420.8,1058.6 421.0,1054.2 421.1,1051.3 421.6,1048.6 422.0,1044.3 422.4,1042.8 422.8,1038.2 423.3,1036.5 423.7,1032.8 423.8,1035.7 423.9,1039.7 424.1,1041.4 424.2,1045.8 424.3,1048.1 424.4,1051.8 424.6,1054.0 424.7,1058.0 424.8,1060.1 424.9,1064.6 425.0,1067.0 425.2,1070.0 425.4,1073.7 425.6,1075.8 425.8,1080.1 425.9,1082.7 426.1,1087.0 426.3,1088.9 426.5,1093.3 426.6,1095.1 426.8,1099.3 427.0,1102.2 427.4,1098.3 427.8,1096.2 428.2,1092.4 428.6,1089.9 429.0,1086.5 429.3,1089.0 429.6,1093.3 429.9,1095.9 430.3,1099.8 430.6,1102.6 430.9,1106.1 431.2,1109.9 431.5,1112.0 431.7,1116.1 432.0,1118.5 432.3,1123.0 432.6,1125.1 432.9,1128.5 433.1,1126.2 433.4,1121.4 433.7,1119.8 434.0,1114.9 434.3,1112.8 434.5,1108.5 434.8,1106.1 435.8,1109.3 436.8,1111.9 437.4,1115.0 438.1,1120.3 438.7,1123.7 439.7,1120.4 440.7,1117.8 441.7,1121.4 442.6,1123.7 445.6,1121.7 445.7,1118.3 445.9,1115.9 446.0,1111.7 446.1,1109.5 446.3,1105.0 446.4,1102.8 446.6,1098.6 446.7,1096.8 446.8,1092.2 447.0,1090.5 447.1,1086.5 447.2,1083.0 447.3,1081.3 447.4,1076.7 447.6,1074.8 447.7,1071.0 447.8,1068.9 447.9,1065.3 448.0,1063.0 448.1,1059.2 448.2,1057.2 448.3,1053.0 448.4,1050.9 448.5,1047.4 448.7,1044.1 448.8,1042.0 449.0,1037.4 449.1,1035.4 449.3,1030.8 449.4,1028.9 449.6,1025.0 449.7,1022.5 449.9,1019.1 450.0,1021.6 450.2,1025.6 450.4,1028.0 450.6,1032.4 450.7,1034.0 450.9,1038.2 451.1,1040.6 451.3,1044.7 451.4,1047.4 451.6,1050.0 451.7,1054.1 451.9,1056.2 452.0,1060.2 452.2,1061.7 452.3,1065.9 452.5,1067.7 452.6,1072.0 452.8,1073.8 452.9,1077.9 453.1,1080.0 453.2,1084.3 453.4,1086.5 453.5,1088.8 453.7,1092.8 453.8,1094.7 454.0,1099.0 454.1,1101.0 454.2,1105.2 454.4,1107.2 454.5,1110.9 454.7,1112.8 454.8,1117.6 455.0,1119.8 455.3,1115.5 455.7,1113.5 456.1,1108.6 456.5,1106.3 456.9,1102.2 457.3,1098.5 457.7,1096.5 458.1,1092.2 458.5,1090.5 458.9,1086.5 459.2,1082.9 459.5,1080.3 459.8,1075.9 460.2,1073.9 460.5,1069.7 460.8,1067.0 461.2,1064.1 461.6,1060.3 462.0,1058.0 462.4,1054.2 462.8,1051.3 463.1,1048.7 463.5,1043.9 463.8,1041.4 464.1,1037.7 464.5,1040.7 464.9,1045.3 465.3,1047.8 465.7,1052.1 466.1,1055.3 466.2,1058.0 466.3,1061.8 466.5,1064.0 466.6,1068.5 466.7,1070.8 466.8,1074.7 466.9,1077.2 467.1,1081.5 467.2,1083.6 467.3,1087.5 467.4,1089.9 467.6,1094.2 467.7,1096.3 467.8,1100.2 467.9,1102.3 468.0,1106.1 468.4,1103.6 468.7,1098.8 469.0,1097.0 469.3,1092.3 469.7,1090.6 470.0,1086.5 470.0,1082.5 470.0,1080.7 470.0,1076.2 470.0,1074.1 470.0,1069.5 470.0,1067.0 470.3,1064.3 470.7,1060.0 471.0,1057.9 471.3,1053.5 471.6,1051.2 472.0,1047.4 472.2,1050.0 472.4,1054.5 472.6,1056.9 472.8,1060.8 473.0,1063.1 473.3,1067.8 473.5,1069.5 473.7,1074.4 473.9,1076.8 474.1,1073.0 474.3,1070.4 474.6,1066.4 474.8,1064.6 475.0,1059.9 475.2,1057.8 475.4,1053.3 475.6,1051.1 475.9,1047.4 476.2,1043.7 476.5,1041.6 476.8,1037.4 477.2,1034.9 477.5,1030.6 477.8,1027.9 478.1,1025.3 478.4,1020.4 478.8,1018.2 479.1,1013.3 479.4,1010.3 479.5,1013.7 479.6,1015.6 479.7,1020.1 479.8,1021.9 480.0,1026.5 480.1,1028.1 480.2,1032.3 480.3,1034.5 480.4,1038.5 480.5,1040.6 480.6,1044.8 480.7,1047.4 480.9,1049.8 481.0,1053.9 481.1,1056.1 481.2,1059.6 481.3,1061.7 481.4,1066.1 481.5,1067.9 481.6,1071.9 481.7,1073.9 481.8,1078.1 481.9,1080.2 482.0,1084.2 482.1,1086.5 482.3,1089.3 482.5,1093.2 482.6,1095.0 482.8,1098.9 483.0,1101.0 483.2,1105.5 483.3,1107.5 483.5,1111.1 483.7,1113.9 483.9,1110.2 484.0,1108.3 484.2,1104.5 484.4,1102.3 484.5,1098.2 484.7,1096.0 484.9,1091.8 485.1,1090.0 485.2,1086.5 485.4,1082.8 485.5,1081.1 485.7,1077.0 485.8,1074.9 486.0,1070.8 486.1,1068.9 486.3,1065.0 486.4,1062.8 486.6,1059.0 486.7,1057.3 486.9,1052.9 487.0,1051.0 487.2,1047.4 487.4,1043.8 487.6,1041.5 487.8,1037.6 488.0,1035.2 488.2,1031.5 488.4,1029.3 488.6,1025.3 488.8,1022.7 489.0,1018.5 489.2,1016.2 489.2,1019.8 489.3,1021.8 489.4,1026.1 489.5,1028.4 489.6,1032.4 489.7,1034.7 489.8,1038.9 489.8,1040.9 489.9,1045.6 490.0,1047.5 490.1,1051.7 490.2,1053.5 490.3,1058.0 490.4,1060.3 490.4,1064.3 490.5,1067.0 490.7,1069.5 490.9,1073.6 491.1,1075.9 491.3,1079.7 491.5,1082.1 491.7,1085.9 491.9,1088.5 492.0,1084.9 492.1,1082.6 492.3,1078.7 492.4,1076.2 492.5,1071.9 492.6,1070.4 492.7,1066.1 492.9,1063.4 493.0,1059.4 493.1,1057.4 493.2,1053.1 493.3,1051.4 493.5,1047.4 493.6,1043.8 493.7,1041.7 493.8,1037.7 493.9,1035.6 494.1,1032.1 494.2,1029.8 494.3,1026.2 494.4,1024.0 494.5,1019.6 494.7,1018.1 494.8,1013.9 494.9,1011.8 495.0,1008.4 495.1,1004.5 495.2,1002.5 495.4,998.3 495.5,996.2 495.6,992.6 495.7,990.1 495.8,986.0 495.9,984.3 496.0,979.8 496.2,977.8 496.3,973.5 496.4,971.2 496.5,975.2 496.6,976.8 496.6,981.3 496.7,983.6 496.8,987.5 496.9,989.3 497.0,994.0 497.1,995.7 497.2,999.9 497.3,1001.8 497.3,1006.4 497.4,1008.8 497.5,1012.6 497.6,1014.9 497.7,1019.1 497.8,1021.2 497.9,1025.3 497.9,1027.9 498.0,1023.9 498.1,1021.9 498.2,1018.1 498.3,1015.6 498.4,1011.4 498.5,1009.1 498.5,1005.1 498.6,1003.2 498.7,999.1 498.8,996.6 498.9,992.7 499.0,990.1 499.1,986.1 499.1,983.8 499.2,979.8 499.3,977.1 499.4,980.4 499.4,982.3 499.5,986.5 499.5,988.4 499.6,992.6 499.6,995.0 499.7,999.1 499.7,1000.7 499.8,1005.3 499.8,1007.1 499.9,1011.1 499.9,1013.6 500.0,1017.7 500.0,1019.6 500.1,1023.8 500.1,1025.8 500.2,1029.9 500.3,1031.8 500.3,1036.0 500.4,1037.9 500.4,1041.8 500.5,1044.1 500.5,1048.1 500.6,1049.8 500.6,1054.5 500.7,1056.2 500.7,1060.0 500.8,1062.2 500.8,1066.6 500.9,1068.9 501.0,1065.3 501.1,1062.9 501.2,1059.0 501.3,1057.0 501.4,1052.4 501.5,1050.7 501.6,1046.5 501.7,1044.2 501.8,1040.1 501.9,1038.0 502.0,1033.4 502.1,1031.4 502.2,1027.9 502.3,1024.1 502.4,1021.9 502.5,1018.0 502.6,1016.1 502.7,1011.2 502.8,1009.7 502.8,1004.9 502.9,1003.2 503.0,998.9 503.1,997.0 503.2,992.3 503.3,990.2 503.4,986.4 503.4,984.1 503.5,980.0 503.6,977.1 503.8,974.5 504.0,970.5 504.1,968.5 504.3,964.7 504.5,962.7 504.7,958.6 504.8,956.2 505.0,952.2 505.2,949.7 505.4,946.8 505.7,942.5 506.0,939.7 506.2,935.4 506.5,933.1 506.7,929.2 506.8,931.8 506.9,936.0 507.0,937.9 507.0,942.6 507.1,944.6 507.2,948.5 507.2,950.3 507.3,955.0 507.4,956.7 507.5,960.9 507.5,963.5 507.6,967.2 507.7,969.3 507.8,973.9 507.8,975.5 507.9,980.2 508.0,982.2 508.0,986.1 508.1,988.8 508.2,991.2 508.3,995.2 508.4,997.4 508.4,1001.9 508.5,1003.6 508.6,1007.9 508.7,1010.1 508.8,1014.2 508.9,1016.3 508.9,1020.5 509.0,1022.5 509.1,1026.1 509.2,1028.6 509.3,1032.4 509.3,1034.6 509.4,1039.0 509.5,1040.6 509.6,1045.2 509.7,1047.4 509.8,1050.2 510.0,1054.3 510.1,1056.1 510.3,1060.3 510.4,1062.5 510.6,1066.9 510.7,1068.7 510.9,1073.4 511.0,1075.8 511.1,1072.5 511.2,1070.0 511.3,1066.0 511.3,1063.8 511.4,1059.9 511.5,1057.8 511.5,1054.1 511.6,1051.7 511.7,1047.7 511.8,1045.3 511.8,1041.4 511.9,1039.4 512.0,1035.6 512.0,1033.4 512.1,1028.9 512.2,1027.3 512.3,1022.9 512.3,1021.2 512.4,1017.1 512.5,1015.2 512.5,1010.6 512.6,1008.4 512.7,1005.6 512.8,1001.4 512.9,999.6 513.0,995.3 513.1,992.9 513.2,989.2 513.2,987.0 513.3,983.0 513.4,980.6 513.5,976.9 513.6,974.5 513.7,970.2 513.8,968.0 513.9,964.2 514.0,961.4 514.2,958.6 514.5,953.6 514.8,951.7 515.1,947.1 515.3,943.9 515.4,947.5 515.5,949.6 515.6,953.6 515.6,955.9 515.7,960.0 515.8,961.9 515.9,965.7 515.9,967.7 516.0,972.0 516.1,974.0 516.2,978.3 516.2,980.0 516.3,984.4 516.4,986.1 516.5,990.4 516.5,992.7 516.6,996.9 516.7,998.3 516.8,1002.6 516.8,1004.6 516.9,1008.4 517.0,1012.0 517.1,1014.1 517.3,1017.6 517.4,1020.0 517.5,1024.0 517.6,1025.9 517.7,1030.2 517.9,1031.5 518.0,1036.0 518.1,1038.0 518.2,1041.7 518.3,1043.7 518.5,1047.4 518.7,1044.9 518.9,1040.4 519.2,1038.2 519.4,1033.8 519.6,1031.9 519.8,1027.9 519.9,1030.2 520.0,1034.7 520.0,1036.2 520.1,1040.5 520.2,1042.5 520.2,1046.3 520.3,1048.6 520.4,1052.9 520.5,1054.3 520.5,1058.9 520.6,1061.0 520.7,1064.5 520.7,1066.7 520.8,1071.2 520.9,1073.0 520.9,1077.1 521.0,1079.1 521.1,1083.2 521.1,1084.6 521.2,1088.5 521.3,1086.0 521.4,1081.4 521.6,1079.4 521.7,1075.6 521.8,1072.9 521.9,1069.1 522.0,1066.6 522.2,1062.8 522.3,1060.9 522.4,1056.6 522.5,1054.1 522.6,1050.3 522.8,1047.4 522.9,1051.2 523.1,1053.1 523.2,1056.8 523.4,1059.2 523.5,1063.3 523.7,1064.8 523.8,1068.9 524.0,1071.0 524.1,1074.8 524.3,1076.9 524.4,1081.1 524.6,1083.2 524.7,1086.5 524.9,1083.8 525.0,1079.5 525.1,1077.9 525.2,1073.6 525.4,1071.2 525.5,1067.6 525.6,1064.9 525.8,1061.3 525.9,1059.1 526.0,1054.8 526.2,1052.8 526.3,1048.1 526.4,1046.2 526.5,1042.1 526.7,1039.6 526.8,1043.3 527.0,1045.3 527.2,1049.1 527.3,1051.6 527.5,1055.4 527.7,1057.9 527.8,1061.6 528.0,1064.1 528.1,1068.0 528.3,1070.1 528.5,1074.5 528.6,1076.8 529.1,1073.0 529.6,1070.7 530.1,1066.1 530.6,1063.1 532.5,1067.0 532.9,1064.1 533.2,1060.3 533.5,1057.7 533.8,1053.5 534.2,1051.4 534.5,1047.4 534.6,1043.9 534.8,1042.1 534.9,1037.6 535.1,1035.9 535.2,1031.9 535.4,1029.9 535.5,1025.9 535.7,1024.3 535.8,1019.8 536.0,1017.7 536.1,1013.9 536.3,1011.7 536.4,1008.4 536.6,1004.5 536.7,1003.0 536.8,998.4 536.9,996.7 537.0,992.5 537.1,990.0 537.2,986.0 537.3,984.3 537.4,980.2 537.5,978.2 537.6,973.7 537.7,971.9 537.8,967.6 537.9,965.8 538.0,961.7 538.1,959.3 538.2,955.4 538.3,953.4 538.4,949.7 538.5,946.3 538.6,944.4 538.7,939.9 538.8,938.1 538.9,933.9 539.0,931.6 539.0,927.2 539.1,925.7 539.2,921.3 539.3,919.4 539.4,915.3 539.5,912.7 539.6,908.6 539.7,906.8 539.8,902.7 539.9,900.7 540.0,897.0 540.0,899.5 540.1,903.9 540.2,905.6 540.3,909.9 540.4,912.0 540.5,916.0 540.5,918.4 540.6,922.0 540.7,924.2 540.8,928.4 540.9,930.3 540.9,934.8 541.0,937.0 541.1,941.2 541.2,943.1 541.3,947.1 541.3,949.7 541.4,952.1 541.5,956.4 541.6,958.2 541.6,962.5 541.7,964.3 541.8,969.1 541.8,970.9 541.9,974.8 542.0,976.8 542.1,981.1 542.1,982.8 542.2,986.9 542.3,989.3 542.3,993.7 542.4,995.5 542.5,999.6 542.6,1001.6 542.6,1005.9 542.7,1008.4 543.0,1004.8 543.3,1002.8 543.6,998.2 544.0,996.1 544.3,992.7 544.3,995.5 544.4,999.1 544.5,1001.2 544.5,1005.2 544.6,1007.3 544.7,1011.3 544.7,1013.6 544.8,1018.1 544.9,1019.4 544.9,1023.7 545.0,1026.2 545.1,1029.8 545.2,1032.1 545.2,1036.3 545.3,1038.1 545.4,1041.9 545.4,1043.9 545.5,1048.6 545.6,1050.5 545.6,1054.5 545.7,1056.4 545.8,1060.6 545.8,1063.1 545.9,1059.2 546.0,1057.7 546.0,1053.5 546.1,1051.1 546.2,1046.9 546.2,1044.7 546.3,1040.8 546.4,1038.8 546.4,1034.4 546.5,1032.3 546.6,1028.5 546.7,1026.2 546.7,1021.6 546.8,1019.9 546.9,1015.3 546.9,1013.8 547.0,1009.3 547.1,1007.2 547.1,1002.9 547.2,1000.5 547.4,1004.4 547.6,1006.4 547.9,1010.4 548.1,1012.2 548.3,1016.1 548.5,1018.1 548.7,1022.0 548.9,1024.6 549.2,1027.9 549.4,1025.0 549.6,1020.8 549.8,1018.7 550.1,1014.0 550.3,1012.4 550.5,1008.4 550.6,1010.6 550.8,1014.8 550.9,1016.9 551.0,1020.7 551.1,1023.1 551.2,1027.1 551.4,1028.7 551.5,1033.2 551.6,1034.6 551.7,1039.3 551.8,1041.0 552.0,1045.2 552.1,1047.4 552.3,1043.6 552.4,1041.9 552.6,1037.7 552.8,1035.5 553.0,1031.9 553.1,1030.0 553.3,1025.3 553.5,1023.7 553.6,1020.1 553.8,1022.7 553.9,1026.7 554.0,1028.7 554.1,1032.5 554.2,1034.8 554.3,1038.5 554.4,1040.5 554.5,1044.7 554.6,1046.5 554.7,1050.4 554.8,1052.9 554.9,1056.4 555.0,1059.2 555.2,1055.6 555.4,1053.6 555.6,1049.5 555.8,1047.1 556.0,1042.7 556.2,1040.7 556.4,1036.5 556.6,1034.7 556.8,1030.8 557.0,1027.9 557.1,1031.4 557.2,1033.7 557.3,1037.8 557.5,1040.4 557.6,1044.2 557.7,1046.5 557.8,1050.5 558.0,1052.9 558.1,1057.3 558.2,1059.5 558.3,1063.1 558.5,1060.2 558.6,1056.5 558.8,1054.0 558.9,1049.5 559.0,1047.7 559.2,1043.3 559.3,1041.4 559.5,1037.1 559.6,1035.2 559.8,1030.5 559.9,1027.9 560.4,1024.8 560.9,1019.3 561.5,1016.2 561.6,1020.1 561.7,1021.6 561.8,1026.0 561.9,1028.3 562.0,1032.5 562.1,1034.5 562.2,1038.4 562.3,1040.8 562.4,1045.2 562.5,1046.9 562.6,1051.3 562.7,1053.0 562.8,1057.1 562.9,1059.2 563.0,1063.1 563.2,1060.1 563.3,1056.2 563.5,1054.4 563.7,1049.6 563.8,1047.9 564.0,1043.1 564.1,1041.5 564.3,1036.9 564.5,1035.1 564.6,1030.3 564.8,1027.9 564.9,1031.8 565.0,1033.0 565.1,1037.8 565.2,1039.6 565.3,1043.3 565.4,1045.4 565.5,1049.5 565.6,1051.3 565.7,1055.4 565.8,1057.2 565.9,1061.8 566.1,1063.5 566.2,1067.0 566.3,1064.5 566.5,1060.3 566.6,1058.4 566.8,1054.3 566.9,1051.5 567.1,1047.5 567.3,1045.7 567.4,1041.5 567.6,1039.3 567.7,1035.7 567.9,1038.3 568.0,1042.4 568.1,1044.6 568.3,1049.2 568.4,1051.4 568.6,1055.1 568.7,1057.8 568.9,1062.2 569.0,1064.2 569.1,1068.3 569.3,1070.9 569.5,1067.1 569.7,1065.1 570.0,1059.9 570.2,1058.3 570.4,1053.6 570.6,1051.1 570.8,1047.4 571.0,1050.0 571.2,1053.9 571.4,1056.3 571.5,1060.4 571.7,1062.2 571.9,1066.5 572.1,1068.5 572.2,1072.3 572.4,1074.8 572.6,1071.3 572.8,1069.4 572.9,1065.1 573.1,1063.5 573.3,1059.2 573.5,1056.8 573.6,1052.8 573.8,1051.0 574.0,1047.4 574.1,1049.9 574.3,1054.7 574.5,1056.8 574.7,1061.3 574.8,1063.4 575.0,1067.6 575.2,1069.8 575.4,1074.1 575.5,1076.8 575.7,1072.8 575.9,1070.8 576.1,1066.1 576.2,1064.5 576.4,1060.0 576.6,1057.9 576.8,1053.6 576.9,1051.3 577.1,1047.4 577.2,1043.7 577.3,1041.7 577.5,1037.6 577.6,1036.1 577.7,1031.9 577.8,1029.7 578.0,1025.4 578.1,1023.6 578.2,1019.4 578.3,1017.6 578.5,1014.2 578.6,1017.0 578.7,1020.7 578.8,1022.4 579.0,1026.6 579.1,1028.8 579.2,1033.0 579.3,1035.0 579.5,1039.1 579.6,1040.8 579.7,1045.1 579.8,1047.4 579.9,1043.9 580.0,1041.8 580.1,1037.5 580.2,1035.8 580.3,1031.1 580.4,1029.3 580.5,1025.3 580.6,1022.8 580.7,1018.8 580.8,1016.9 580.8,1013.0 580.9,1010.8 581.0,1006.5 581.1,1004.7 581.2,1000.0 581.3,998.2 581.4,994.7 581.5,997.0 581.6,1001.2 581.7,1003.4 581.8,1007.7 581.9,1009.9 582.0,1013.5 582.0,1015.9 582.1,1020.2 582.2,1022.1 582.3,1026.1 582.4,1028.1 582.5,1032.2 582.6,1034.3 582.7,1039.0 582.8,1040.5 582.9,1045.0 583.0,1047.4 583.1,1044.2 583.2,1042.1 583.3,1038.0 583.4,1036.0 583.5,1032.0 583.6,1029.7 583.7,1025.7 583.8,1024.1 583.9,1019.7 584.0,1018.2 584.1,1014.2 584.2,1011.6 584.3,1008.4 584.4,1011.2 584.5,1015.0 584.6,1017.3 584.6,1020.8 584.7,1022.9 584.8,1027.0 584.9,1029.3 584.9,1033.0 585.0,1035.0 585.1,1039.0 585.2,1041.6 585.2,1045.3 585.3,1047.2 585.4,1051.5 585.5,1053.4 585.5,1057.3 585.6,1059.1 585.7,1063.1 585.8,1060.9 585.9,1056.1 586.0,1054.5 586.0,1050.4 586.1,1048.6 586.2,1044.4 586.3,1042.3 586.4,1038.4 586.5,1036.3 586.6,1032.4 586.7,1030.0 586.7,1026.0 586.8,1024.4 586.9,1019.6 587.0,1018.2 587.1,1014.2 587.2,1011.6 587.3,1008.4 587.5,1004.6 587.7,1002.6 587.9,998.9 588.0,997.0 588.2,992.9 588.4,990.5 588.6,986.2 588.8,983.9 588.9,987.3 589.0,989.9 589.1,993.9 589.2,995.6 589.3,1000.1 589.4,1002.5 589.5,1006.5 589.6,1008.7 589.7,1012.4 589.8,1014.6 589.9,1019.4 590.0,1020.9 590.1,1025.5 590.2,1027.9 590.4,1030.9 590.7,1034.7 590.9,1037.2 591.1,1041.7 591.3,1043.7 591.6,1047.4 591.8,1045.0 592.1,1040.7 592.3,1038.3 592.6,1033.9 592.9,1031.5 593.1,1027.9 593.2,1030.1 593.4,1034.2 593.5,1036.6 593.6,1040.4 593.7,1042.3 593.8,1046.4 594.0,1048.2 594.1,1052.5 594.2,1054.3 594.3,1058.3 594.5,1060.3 594.6,1064.3 594.7,1067.0 594.8,1069.4 595.0,1073.4 595.1,1075.8 595.3,1079.9 595.5,1081.5 595.6,1085.4 595.8,1087.4 595.9,1091.5 596.1,1094.3 596.1,1090.9 596.2,1088.5 596.2,1084.3 596.3,1082.9 596.3,1078.7 596.4,1076.6 596.4,1072.0 596.4,1070.1 596.5,1066.4 596.5,1063.9 596.6,1059.7 596.6,1057.7 596.7,1053.8 596.7,1051.9 596.8,1047.7 596.8,1045.4 596.9,1041.6 596.9,1039.5 597.0,1035.3 597.0,1033.7 597.1,1029.3 597.1,1027.4 597.2,1023.2 597.2,1021.5 597.3,1017.1 597.3,1015.2 597.4,1010.6 597.4,1008.4 597.5,1005.8 597.5,1001.6 597.5,999.9 597.6,995.5 597.6,993.4 597.7,989.5 597.7,987.7 597.8,983.6 597.8,981.7 597.8,977.3 597.9,975.8 597.9,971.3 598.0,969.6 598.0,965.4 598.0,963.2 598.1,959.3 598.1,957.2 598.2,953.3 598.2,951.0 598.2,946.8 598.3,945.5 598.3,940.9 598.4,939.3 598.4,935.2 598.4,932.7 598.5,928.7 598.5,926.9 598.6,922.7 598.6,920.4 598.7,924.3 598.7,926.4 598.8,930.1 598.8,932.4 598.9,936.8 599.0,938.5 599.0,942.7 599.1,944.8 599.2,949.1 599.2,951.3 599.3,955.0 599.3,957.5 599.4,961.5 599.5,963.6 599.5,967.7 599.6,969.4 599.7,973.6 599.7,976.2 599.8,979.8 599.8,981.7 599.9,986.3 600.0,988.8 600.0,991.3 600.1,995.4 600.2,997.8 600.3,1001.6 600.3,1004.0 600.4,1008.2 600.5,1010.0 600.5,1013.8 600.6,1016.2 600.7,1020.3 600.8,1022.0 600.8,1026.7 600.9,1028.1 601.0,1032.8 601.0,1034.3 601.1,1038.8 601.2,1041.1 601.3,1045.2 601.3,1047.4 601.6,1050.0 601.9,1054.6 602.1,1056.9 602.4,1061.4 602.6,1063.1 602.9,1067.0 603.2,1064.1 603.4,1060.3 603.7,1057.5 603.9,1053.5 604.2,1051.0 604.5,1047.4 604.7,1050.2 605.0,1054.3 605.3,1056.5 605.6,1060.3 605.8,1063.1 606.0,1059.1 606.1,1057.0 606.3,1053.0 606.4,1050.9 606.5,1046.3 606.7,1044.5 606.8,1040.3 607.0,1038.0 607.1,1033.8 607.3,1031.3 607.4,1027.9 607.7,1024.1 608.0,1021.7 608.3,1017.9 608.6,1015.3 608.9,1010.8 609.2,1008.4 609.3,1005.4 609.4,1001.3 609.5,999.6 609.6,994.8 609.7,993.3 609.8,988.8 609.9,986.8 610.0,982.6 610.1,980.5 610.2,975.7 610.3,973.7 610.4,969.7 610.5,967.3 610.6,962.8 610.7,960.5 611.0,964.1 611.3,966.5 611.7,970.6 612.0,973.0 612.3,977.1 612.6,980.6 612.9,982.7 613.2,986.7 613.5,988.7 613.8,992.7 614.2,996.6 614.5,998.1 614.9,1002.4 615.3,1004.4 615.6,1008.4 615.9,1011.9 616.3,1014.4 616.6,1018.4 616.9,1020.8 617.2,1025.1 617.6,1027.9 618.2,1031.6 618.9,1036.1 619.5,1039.6 620.5,1043.0 621.5,1047.4 622.1,1044.1 622.8,1039.0 623.4,1035.7 623.8,1033.4 624.2,1028.6 624.6,1026.7 625.0,1022.8 625.4,1020.1 625.8,1017.1 626.2,1013.0 626.5,1010.1 626.9,1006.4 627.2,1009.3 627.4,1012.9 627.7,1015.0 627.9,1019.0 628.2,1021.5 628.4,1025.1 628.7,1027.9 629.2,1031.2 629.7,1036.5 630.3,1039.6 630.9,1035.4 631.6,1032.4 632.2,1027.9 633.2,1031.3 634.2,1035.7 635.1,1032.5 636.1,1027.9 636.5,1030.5 636.9,1035.8 637.3,1038.2 637.7,1042.2 638.1,1045.5 638.2,1041.9 638.3,1040.1 638.3,1035.6 638.4,1033.7 638.5,1029.1 638.6,1026.9 638.7,1022.8 638.8,1021.1 638.9,1016.3 638.9,1014.2 639.0,1010.3 639.1,1008.4 639.2,1004.2 639.3,1002.0 639.4,998.0 639.5,995.7 639.6,991.3 639.6,988.8 639.7,985.8 639.8,981.8 639.9,980.0 640.0,975.3 640.1,973.3 640.2,969.0 640.3,967.2 640.4,962.7 640.5,961.1 640.6,956.5 640.7,954.3 640.7,950.5 640.8,947.9 640.9,944.1 641.0,941.6 641.1,937.4 641.2,935.1 641.3,938.7 641.4,940.9 641.5,945.1 641.6,947.0 641.7,951.3 641.8,953.3 641.8,957.8 641.9,959.7 642.0,963.8 642.1,966.3 642.2,970.6 642.3,972.2 642.4,976.8 642.5,979.1 642.6,983.2 642.7,985.4 642.8,988.8 642.9,992.2 643.1,994.9 643.2,998.6 643.4,1000.4 643.6,1004.7 643.7,1006.7 643.9,1011.1 644.0,1013.4 644.2,1017.5 644.3,1020.1 644.5,1016.7 644.6,1014.1 644.8,1010.1 645.0,1007.9 645.1,1003.7 645.3,1001.9 645.4,997.3 645.6,995.3 645.7,991.3 645.9,988.8 647.5,986.9 647.6,990.7 647.7,992.4 647.8,996.6 647.9,999.2 648.1,1003.4 648.2,1005.4 648.3,1009.6 648.4,1011.8 648.5,1015.9 648.7,1017.8 648.8,1021.9 648.9,1024.2 649.0,1027.9 649.3,1024.7 649.5,1020.9 649.8,1018.5 650.0,1013.9 650.3,1011.5 650.5,1007.1 650.8,1004.4 651.1,1008.1 651.3,1010.4 651.6,1015.2 651.9,1017.1 652.2,1021.6 652.5,1024.3 652.7,1027.9 653.1,1024.9 653.4,1020.8 653.7,1019.0 654.0,1014.4 654.4,1011.9 654.7,1008.4 654.8,1010.8 655.0,1015.1 655.1,1016.6 655.3,1020.6 655.4,1022.9 655.6,1027.1 655.7,1029.0 655.9,1033.1 656.0,1035.0 656.2,1039.3 656.3,1040.8 656.5,1044.9 656.6,1047.4 657.0,1043.8 657.3,1041.8 657.6,1037.4 657.9,1035.0 658.3,1030.9 658.6,1027.9 658.9,1031.9 659.3,1034.2 659.6,1037.9 659.9,1040.7 660.2,1044.9 660.6,1047.4 660.8,1044.1 661.0,1041.7 661.2,1037.5 661.4,1035.6 661.6,1031.8 661.9,1029.5 662.1,1025.3 662.3,1023.5 662.5,1020.1 663.0,1015.3 663.6,1012.8 664.1,1008.4 664.2,1010.9 664.3,1015.1 664.5,1017.0 664.6,1021.2 664.8,1023.7 664.9,1027.5 665.0,1029.9 665.2,1034.3 665.3,1035.7 665.4,1039.6 666.4,1043.8 667.4,1047.4 668.0,1050.3 668.7,1054.4 669.3,1057.2 670.0,1053.2 670.7,1050.9 671.3,1047.4 672.0,1050.7 672.6,1056.1 673.3,1059.2 674.2,1061.3 675.2,1065.0 676.2,1061.5 677.2,1057.2 677.8,1060.0 678.5,1064.2 679.1,1067.0 679.8,1062.7 680.4,1059.6 681.1,1055.3 682.1,1058.3 683.0,1063.1 683.7,1059.5 684.3,1054.5 685.0,1051.3 685.4,1055.2 685.8,1056.8 686.2,1061.4 686.5,1063.1 686.9,1067.0 687.6,1064.3 688.2,1059.7 688.9,1057.2 689.5,1054.7 690.2,1049.9 690.8,1047.4 691.2,1051.6 691.5,1053.3 691.8,1057.4 692.1,1059.9 692.5,1064.2 692.8,1067.0 693.8,1062.3 694.8,1059.2 695.7,1063.4 696.7,1067.0 697.2,1063.2 697.7,1060.6 698.2,1056.0 698.7,1053.3 699.3,1050.0 700.0,1045.4 700.6,1042.6 700.9,1046.5 701.3,1048.6 701.6,1053.2 701.9,1055.4 702.2,1060.5 702.6,1063.1 703.6,1059.7 704.5,1057.2 707.5,1061.1 710.4,1059.2 711.9,1063.7 713.3,1067.0 716.3,1065.0 717.7,1068.3 719.2,1072.8 722.1,1076.8 725.0,1080.7 728.0,1082.6 729.4,1079.3 730.9,1074.8 731.6,1071.4 732.4,1069.6 733.1,1065.6 733.8,1063.1 735.3,1060.0 736.8,1055.3 738.0,1051.1 739.3,1047.4 739.7,1050.9 740.1,1053.5 740.5,1057.7 740.9,1059.9 741.3,1064.5 741.7,1067.0 742.3,1070.6 743.0,1075.6 743.6,1078.7 744.3,1074.0 744.9,1071.4 745.6,1067.0 746.5,1062.4 747.5,1059.2 748.3,1056.2 749.1,1052.2 749.9,1049.4 750.1,1052.9 750.3,1055.2 750.5,1059.2 750.7,1061.2 750.8,1066.0 751.0,1067.6 751.2,1072.4 751.4,1074.8 754.4,1076.8 757.3,1078.7 758.8,1081.2 760.2,1084.6 763.2,1088.5 766.1,1092.4 770.0,1094.3 770.0,1094.3 772.9,1092.4 774.4,1089.8 775.9,1086.5 778.8,1082.6 781.7,1084.6 782.7,1080.8 783.7,1078.9 784.7,1074.8 787.6,1076.8 790.5,1072.8 793.5,1074.8 794.9,1071.3 796.4,1068.9 799.3,1070.9 800.0,1074.7 800.6,1076.8 801.3,1080.7 801.9,1077.7 802.4,1073.5 803.0,1070.9 803.6,1067.0 804.5,1063.2 805.3,1060.7 806.2,1057.2 807.1,1060.4 808.1,1065.0 808.8,1062.1 809.4,1058.0 810.1,1055.3 813.0,1059.2 814.0,1056.5 815.0,1052.3 815.9,1049.4 816.8,1047.2 817.6,1042.8 818.5,1040.6 819.3,1044.6 820.0,1046.9 820.8,1051.3 822.0,1056.1 823.2,1059.2 825.7,1063.1 826.5,1065.8 827.4,1069.7 828.2,1071.9 828.8,1068.4 829.4,1066.2 830.0,1061.9 830.6,1059.2 833.5,1063.1 836.4,1067.0 838.4,1070.9 841.3,1067.0 842.2,1063.4 843.0,1058.9 843.9,1055.3 844.1,1052.6 844.3,1048.4 844.6,1045.7 844.8,1041.8 845.0,1039.3 845.2,1035.7 850.1,1035.7 850.3,1038.5 850.5,1042.8 850.6,1045.0 850.8,1049.3 850.9,1051.7 851.1,1055.3 852.6,1059.9 854.0,1063.1 855.5,1058.7 857.0,1055.3 859.9,1059.2 860.7,1055.7 861.5,1051.3 862.2,1054.6 863.0,1059.5 863.8,1063.1 866.7,1061.1 869.7,1065.0 871.1,1061.5 872.6,1059.2 874.1,1062.9 875.5,1065.0 876.1,1061.1 876.7,1058.8 877.3,1054.0 877.9,1051.5 878.5,1047.4 880.4,1045.5 880.9,1048.2 881.4,1052.6 881.9,1055.0 882.4,1059.2 883.8,1056.8 885.3,1053.3 886.3,1049.6 887.3,1047.4 888.2,1043.5 888.8,1040.1 889.4,1038.1 890.0,1034.0 890.6,1031.5 891.2,1027.9 891.8,1023.9 892.3,1021.3 892.9,1016.5 893.5,1014.3 894.1,1010.3 894.4,1012.9 894.7,1017.2 894.9,1019.1 895.2,1023.0 895.5,1025.1 895.8,1029.2 896.1,1031.8 897.0,1027.6 898.0,1024.0 898.2,1027.2 898.3,1029.8 898.5,1033.4 898.6,1035.9 898.8,1039.9 898.9,1041.4 899.1,1045.8 899.2,1048.1 899.4,1051.3 899.7,1048.5 899.9,1043.9 900.2,1041.8 900.5,1037.1 900.8,1035.2 901.1,1031.0 901.3,1027.9 901.6,1024.8 901.9,1020.5 902.2,1018.1 902.5,1014.2 902.7,1011.8 903.0,1007.4 903.3,1004.4 903.4,1008.0 903.6,1010.2 903.7,1014.5 903.8,1016.0 904.0,1020.1 904.1,1022.4 904.3,1026.2 904.4,1028.3 904.5,1032.6 904.7,1034.6 904.8,1039.0 905.0,1040.9 905.1,1045.2 905.2,1047.4 905.5,1043.6 905.7,1041.6 905.9,1037.9 906.1,1035.5 906.3,1031.5 906.5,1029.4 906.8,1025.7 907.0,1023.7 907.2,1020.1 907.4,1022.6 907.6,1027.0 907.9,1028.6 908.1,1032.7 908.3,1034.4 908.5,1039.1 908.7,1040.5 908.9,1044.8 909.2,1047.4 909.3,1044.1 909.5,1041.7 909.6,1037.9 909.8,1036.3 909.9,1031.6 910.1,1029.7 910.2,1025.8 910.4,1024.0 910.5,1019.5 910.7,1018.1 910.8,1014.0 911.0,1012.2 911.1,1008.4 911.4,1010.9 911.8,1015.6 912.1,1017.9 912.4,1022.1 912.7,1024.0 913.1,1027.9 913.9,1032.3 914.8,1034.9 915.6,1039.6 916.9,1044.0 918.1,1047.4 918.9,1049.9 919.7,1054.5 920.5,1057.2 921.1,1060.0 921.8,1064.2 922.4,1067.0 924.8,1066.0 925.0,1062.2 925.3,1060.5 925.6,1055.8 925.8,1054.3 926.1,1049.9 926.4,1047.4 926.6,1044.5 926.9,1040.7 927.1,1037.9 927.4,1033.6 927.7,1031.7 927.9,1027.9 928.2,1023.8 928.5,1021.6 928.8,1017.5 929.0,1015.3 929.3,1010.8 929.6,1008.2 929.9,1004.4 930.5,1007.0 931.0,1012.0 931.6,1013.9 932.2,1018.1 932.7,1015.5 933.2,1010.4 933.7,1008.5 934.2,1004.4 934.8,1000.5 935.3,998.3 935.9,994.2 936.5,991.7 936.8,995.9 937.2,998.1 937.5,1002.9 937.8,1005.1 938.1,1009.4 938.5,1012.3 939.3,1015.2 940.2,1019.3 941.0,1022.0 943.9,1020.1 945.4,1023.6 946.9,1027.9 949.8,1025.9 950.5,1029.9 951.3,1032.2 952.0,1037.0 952.7,1039.6 953.6,1042.7 954.4,1047.7 955.3,1051.3 956.1,1054.4 956.8,1059.7 957.6,1063.1 960.6,1067.0 963.5,1070.9 964.1,1073.9 964.8,1077.7 965.4,1080.7 968.4,1079.7 968.9,1075.9 969.3,1074.2 969.8,1069.7 970.3,1067.0 973.3,1070.9 973.6,1068.4 974.0,1063.8 974.4,1062.0 974.8,1058.0 975.2,1055.3 976.2,1051.7 977.2,1047.4 980.1,1051.3 980.6,1054.2 981.1,1058.2 981.6,1060.2 982.1,1064.6 982.6,1067.0 985.0,1063.1 985.7,1059.0 986.4,1057.1 987.2,1052.1 987.9,1049.4 989.4,1046.7 990.8,1043.5 991.3,1045.8 991.8,1050.4 992.3,1052.4 992.7,1056.6 993.2,1059.2 994.0,1062.9 994.9,1067.3 995.7,1070.9 996.4,1073.6 997.0,1077.1 997.7,1079.7 998.3,1076.0 999.0,1074.2 999.6,1069.5 1000.2,1067.0 1002.6,1063.1 1003.0,1060.7 1003.4,1056.6 1003.7,1054.1 1004.1,1050.1 1004.5,1047.4 1005.0,1045.2 1005.5,1040.4 1006.0,1038.8 1006.5,1034.4 1007.0,1032.4 1007.5,1028.9 1007.8,1031.6 1008.1,1035.4 1008.4,1037.6 1008.8,1041.5 1009.1,1043.8 1009.4,1047.4 1010.7,1044.0 1012.0,1039.6 1013.1,1043.3 1014.3,1047.4 1015.5,1051.8 1016.6,1055.3 1017.5,1058.4 1018.3,1063.8 1019.2,1067.0 1020.5,1062.8 1021.7,1059.2 1022.5,1055.7 1023.3,1050.6 1024.1,1047.4 1024.5,1051.2 1025.0,1053.2 1025.5,1057.7 1025.9,1059.6 1026.4,1063.1 1026.8,1060.0 1027.1,1056.1 1027.5,1053.5 1027.9,1049.1 1028.2,1046.7 1028.6,1042.6 1029.0,1039.6 1029.3,1043.5 1029.7,1045.3 1030.0,1049.0 1030.4,1051.1 1030.8,1055.3 1031.1,1057.8 1031.5,1061.1 1032.1,1065.0 1032.7,1067.2 1033.3,1071.9 1033.8,1074.8 1034.8,1077.4 1035.8,1082.0 1036.8,1084.6 1037.6,1080.5 1038.5,1078.4 1039.3,1074.8 1039.8,1071.4 1040.3,1069.2 1040.7,1065.0 1041.2,1063.0 1041.7,1059.2 1042.4,1055.8 1043.1,1053.8 1043.9,1050.1 1044.6,1047.4 1045.9,1044.4 1047.1,1039.6 1048.3,1043.3 1049.5,1047.4 1050.5,1044.7 1051.4,1040.3 1052.4,1037.7 1053.4,1041.7 1054.4,1043.3 1055.3,1047.4 1055.9,1051.1 1056.5,1053.2 1057.1,1057.5 1057.7,1059.4 1058.3,1063.1 1059.7,1059.4 1061.2,1055.3 1062.7,1058.4 1064.1,1063.1 1067.1,1067.0 1068.5,1071.3 1070.0,1074.8 1070.0,1070.3 1070.0,1067.0 1070.7,1070.7 1071.3,1073.1 1072.0,1076.8 1072.9,1081.0 1073.9,1084.6 1074.9,1080.2 1075.9,1076.8 1077.3,1074.1 1078.8,1070.9 1081.7,1067.0 1083.2,1062.3 1084.7,1059.2 1085.4,1056.5 1086.1,1052.6 1086.9,1050.8 1087.6,1047.4 1088.3,1044.3 1089.1,1042.0 1089.8,1037.7 1090.5,1035.7 1091.5,1032.6 1092.5,1027.9 1093.1,1023.8 1093.8,1022.3 1094.4,1018.1 1094.7,1020.3 1095.0,1024.6 1095.3,1026.8 1095.5,1030.9 1095.8,1032.9 1096.1,1036.9 1096.4,1039.6 1097.2,1035.2 1098.1,1032.5 1098.9,1027.9 1100.1,1023.4 1101.3,1020.1 1101.7,1023.9 1102.1,1025.6 1102.4,1029.8 1102.8,1032.0 1103.2,1035.7 1103.6,1032.6 1104.0,1028.0 1104.4,1025.7 1104.8,1021.3 1105.2,1018.1 1105.5,1015.1 1105.8,1010.8 1106.2,1008.6 1106.5,1004.1 1106.8,1001.7 1107.1,997.6 1109.1,1000.5 1109.3,1002.9 1109.5,1007.0 1109.7,1009.2 1110.0,1013.6 1110.2,1015.1 1110.4,1019.5 1110.6,1021.4 1110.8,1025.6 1111.0,1027.9 1111.3,1030.6 1111.6,1034.8 1111.8,1037.0 1112.1,1041.7 1112.3,1043.7 1112.6,1047.4 1112.9,1051.0 1113.1,1053.5 1113.3,1057.3 1113.6,1059.3 1113.8,1064.1 1114.1,1066.0 1114.3,1070.4 1114.6,1072.8 1115.7,1069.6 1116.9,1067.0 1119.3,1063.1 1119.7,1060.2 1120.2,1055.6 1120.7,1053.0 1121.2,1049.4 1122.5,1046.0 1123.7,1043.5 1126.7,1047.4 1127.4,1050.8 1128.1,1052.9 1128.9,1056.9 1129.6,1059.2 1130.0,1062.5 1130.4,1066.8 1130.8,1069.4 1131.2,1074.1 1131.6,1076.8 1132.1,1072.7 1132.5,1070.3 1133.0,1066.1 1133.5,1063.1 1136.4,1065.0 1139.4,1067.0 1142.3,1070.9 1145.2,1074.8 1148.2,1078.7 1151.1,1080.7 1154.0,1082.6 1154.8,1080.3 1155.5,1076.5 1156.2,1074.2 1157.0,1070.9 1157.7,1067.5 1158.4,1065.3 1159.2,1061.7 1159.9,1059.2 1162.8,1057.2 1164.3,1054.6 1165.8,1051.3 1166.4,1047.0 1167.1,1044.3 1167.7,1039.6 1168.5,1034.9 1169.3,1030.8 1169.7,1034.7 1170.1,1037.3 1170.5,1041.1 1170.8,1043.4 1171.2,1047.4 1171.7,1051.1 1172.2,1052.9 1172.6,1057.2 1173.1,1059.5 1173.6,1063.1 1176.5,1065.0 1177.8,1062.3 1179.1,1059.2 1180.2,1054.9 1181.4,1051.3 1182.2,1055.5 1183.0,1058.7 1183.7,1063.1 1184.6,1066.9 1185.4,1068.9 1186.3,1072.8 1187.3,1077.0 1188.2,1078.8 1189.2,1082.6 1192.1,1084.6 1193.6,1081.1 1195.1,1076.8 1195.3,1073.2 1195.5,1070.7 1195.7,1066.4 1196.0,1064.1 1196.2,1059.6 1196.4,1057.5 1196.6,1053.4 1196.8,1051.1 1197.0,1047.4 1197.3,1043.9 1197.6,1042.2 1197.9,1037.8 1198.2,1035.8 1198.4,1031.6 1198.7,1029.4 1199.0,1025.9 1201.9,1027.9 1204.9,1024.0 1207.8,1022.0 1210.3,1018.1 1211.5,1020.5 1212.7,1024.0 1215.6,1027.9 1218.5,1024.0 1218.9,1021.3 1219.3,1017.5 1219.7,1015.5 1220.1,1010.8 1220.5,1008.4 1221.5,1005.9 1222.4,1002.5 1222.8,1005.7 1223.2,1010.2 1223.6,1012.4 1224.0,1017.2 1224.4,1020.1 1225.4,1023.4 1226.4,1027.9 1226.8,1031.6 1227.3,1033.6 1227.8,1037.6 1228.2,1039.7 1228.7,1043.5 1229.3,1048.1 1230.0,1050.8 1230.7,1055.3 1231.0,1052.6 1231.4,1048.4 1231.8,1046.3 1232.2,1041.9 1232.6,1039.6 1235.1,1035.7 1235.7,1039.5 1236.2,1041.3 1236.7,1045.9 1237.2,1047.5 1237.7,1051.3 1238.5,1048.2 1239.3,1042.8 1240.0,1039.6 1240.4,1043.0 1240.8,1045.5 1241.1,1049.8 1241.5,1051.5 1241.9,1056.3 1242.2,1058.5 1242.6,1062.1 1243.0,1065.0 1243.4,1060.9 1243.7,1058.3 1244.1,1054.1 1244.5,1051.8 1244.9,1047.4 1245.2,1043.2 1245.5,1041.5 1245.8,1036.5 1246.0,1034.7 1246.3,1030.4 1246.6,1027.9 1246.9,1024.0 1249.4,1027.9 1250.6,1031.0 1251.8,1035.7 1252.2,1039.7 1252.7,1041.5 1253.2,1045.8 1253.7,1048.4 1254.2,1052.8 1254.7,1055.3 1255.0,1051.5 1255.3,1049.5 1255.5,1045.3 1255.8,1043.6 1256.1,1039.9 1256.4,1037.7 1256.7,1033.5 1256.9,1031.4 1257.2,1027.9 1257.6,1030.5 1258.0,1035.0 1258.4,1036.8 1258.8,1041.5 1259.2,1043.9 1259.6,1047.4 1260.3,1050.8 1261.0,1053.1 1261.8,1056.9 1262.5,1059.2 1263.2,1062.0 1263.8,1066.0 1264.5,1068.9 1265.2,1065.3 1265.9,1062.5 1266.7,1058.1 1267.4,1055.3 1267.8,1059.0 1268.2,1060.8 1268.6,1065.4 1269.0,1067.1 1269.3,1070.9 1269.8,1068.0 1270.2,1063.3 1270.6,1061.1 1271.0,1056.9 1271.4,1054.5 1271.9,1050.3 1272.3,1047.4 1272.9,1043.8 1273.6,1039.3 1274.2,1035.7 1274.4,1033.1 1274.6,1028.8 1274.8,1026.3 1274.9,1022.6 1275.1,1020.5 1275.3,1016.0 1275.5,1014.1 1275.7,1009.4 1275.8,1007.5 1276.0,1003.3 1276.2,1000.5 1276.4,997.5 1276.5,993.3 1276.7,991.2 1276.9,987.1 1277.0,984.9 1277.2,980.4 1277.4,977.8 1277.6,974.1 1277.7,976.7 1277.8,980.8 1278.0,983.0 1278.1,987.3 1278.3,989.4 1278.4,993.2 1278.6,995.2 1278.7,999.9 1278.8,1001.9 1279.0,1005.7 1279.1,1008.4 1279.3,1011.1 1279.6,1015.1 1279.8,1017.6 1280.0,1021.9 1280.2,1023.9 1280.4,1028.2 1280.6,1030.3 1280.9,1035.1 1281.1,1037.7 1281.4,1040.2 1281.6,1044.2 1281.9,1046.1 1282.2,1050.4 1282.5,1052.1 1282.8,1056.7 1283.0,1059.2 1284.0,1062.3 1285.0,1067.0 1286.2,1070.2 1287.3,1072.8 1287.6,1069.0 1288.0,1066.8 1288.3,1062.7 1288.6,1060.3 1288.9,1056.6 1289.2,1054.2 1289.6,1050.0 1289.9,1047.4 1291.3,1044.3 1292.8,1039.6 1295.7,1037.7 1296.4,1040.4 1297.0,1044.4 1297.7,1047.4 1298.7,1050.5 1299.6,1054.2 1300.6,1057.2 1301.6,1060.0 1302.6,1064.2 1303.6,1067.0 1304.3,1069.4 1305.0,1073.4 1305.7,1074.9 1306.5,1078.7 1309.4,1082.6 1312.3,1086.5 1312.7,1083.8 1313.0,1079.1 1313.3,1077.4 1313.6,1073.0 1314.0,1070.6 1314.3,1067.0 1314.6,1063.5 1315.0,1061.3 1315.3,1056.7 1315.6,1054.3 1315.9,1050.1 1316.3,1047.4 1316.5,1044.9 1316.8,1040.4 1317.1,1037.9 1317.4,1033.5 1317.7,1031.1 1317.9,1026.6 1318.2,1024.0 1318.5,1028.2 1318.8,1030.3 1319.0,1034.2 1319.3,1037.1 1319.6,1040.9 1319.9,1043.7 1320.2,1047.4 1320.5,1050.9 1320.8,1053.4 1321.1,1058.0 1321.5,1060.1 1321.8,1064.5 1322.1,1067.0 1322.5,1063.1 1322.9,1061.6 1323.3,1057.0 1323.7,1054.7 1324.1,1051.3 1324.7,1054.6 1325.4,1059.9 1326.0,1063.1 1326.4,1059.4 1326.8,1057.3 1327.2,1053.1 1327.6,1050.9 1328.0,1047.4 1328.3,1043.8 1328.5,1041.3 1328.8,1037.1 1329.1,1034.6 1329.4,1030.2 1329.7,1028.2 1329.9,1024.0 1330.2,1026.5 1330.5,1031.6 1330.8,1033.7 1331.1,1038.0 1331.3,1039.8 1331.6,1044.9 1331.9,1047.4 1332.1,1044.0 1332.4,1041.4 1332.6,1037.3 1332.9,1035.2 1333.1,1031.3 1333.4,1028.6 1333.6,1024.6 1333.8,1022.0 1334.0,1025.3 1334.1,1027.4 1334.2,1031.8 1334.4,1033.7 1334.5,1038.2 1334.6,1040.0 1334.8,1044.0 1334.9,1045.9 1335.0,1050.8 1335.1,1052.2 1335.3,1056.8 1335.4,1059.2" fill="none" stroke="#0414d6" stroke-width="3.3" stroke-linejoin="round" stroke-linecap="round"/>
<polyline points="173.9,1027.9 174.6,1031.6 175.2,1035.9 175.9,1039.6 177.3,1043.4 178.8,1047.4 181.7,1051.3 185.2,1053.3 185.8,1057.3 186.4,1059.7 187.0,1063.9 187.6,1067.0 191.5,1066.0 195.4,1064.1 199.3,1063.1 203.2,1064.1 207.1,1064.1 211.0,1067.0 215.0,1070.9 218.9,1073.8 222.8,1075.8 226.7,1078.7 228.6,1076.8 229.6,1073.6 230.6,1070.9 233.5,1069.9 237.4,1072.8 239.4,1075.5 241.3,1077.7 243.3,1080.0 245.2,1082.6 249.2,1085.6 252.1,1080.7 254.0,1078.0 256.0,1074.8 258.9,1071.9 261.9,1072.8 265.8,1070.9 269.7,1070.9 273.6,1071.9 277.5,1073.8 281.4,1077.7 283.4,1079.9 285.3,1082.6 287.3,1085.8 289.2,1088.5 291.2,1091.3 293.1,1094.3 297.0,1097.3 300.0,1092.4 301.4,1088.8 302.9,1084.6 304.9,1081.8 306.8,1079.7 310.7,1078.7 315.6,1079.7 318.5,1078.7 320.5,1081.5 322.4,1083.6 326.4,1086.5 330.3,1089.5 334.2,1093.4 338.1,1095.3 341.0,1096.3 343.9,1092.4 346.9,1087.5 349.8,1084.6 353.7,1087.5 357.6,1089.5 361.5,1089.5 365.4,1088.5 369.3,1092.4 373.3,1095.3 376.2,1096.3 376.8,1092.5 377.5,1090.0 378.1,1086.5 379.6,1082.0 381.1,1078.7 385.0,1076.8 388.9,1072.8 390.8,1070.1 392.8,1067.0 395.7,1065.0 399.6,1066.0 403.6,1068.9 407.5,1071.9 411.4,1074.8 415.3,1074.8 417.2,1071.5 419.2,1068.9 421.1,1065.6 423.1,1061.1 425.0,1057.9 427.0,1055.3 430.9,1051.3 434.8,1055.3 438.7,1059.2 440.7,1062.3 442.6,1065.0 444.6,1068.8 446.5,1072.8 448.5,1076.2 450.5,1078.7 454.4,1076.8 456.3,1073.3 458.3,1070.9 462.2,1068.9 466.1,1069.9 470.0,1070.9 470.0,1070.9 473.9,1074.8 475.9,1077.9 477.8,1080.7 479.8,1084.2 481.7,1088.5 484.7,1093.4 487.6,1088.5 488.2,1085.5 488.8,1081.9 489.3,1079.3 489.9,1075.8 490.5,1072.8 491.1,1070.0 491.7,1066.3 492.3,1064.0 492.9,1060.0 493.5,1057.2 494.4,1054.4 495.4,1050.5 496.4,1047.4 499.3,1043.5 500.8,1040.9 502.2,1037.7 503.7,1034.2 505.2,1031.8 506.6,1029.1 508.1,1025.9 509.7,1024.0 510.6,1026.7 511.4,1029.9 512.7,1034.1 514.0,1037.7 515.4,1040.2 516.9,1043.5 519.8,1045.5 522.8,1047.4 524.7,1050.0 526.7,1052.3 530.6,1055.3 534.5,1055.3 538.4,1056.2 541.3,1061.1 542.8,1063.9 544.3,1067.0 548.2,1065.0 552.1,1065.0 556.0,1068.9 559.9,1071.9 563.8,1074.8 567.7,1077.7 571.6,1080.7 575.5,1080.7 578.5,1083.6 580.4,1085.6 583.4,1082.6 585.3,1080.5 587.3,1077.7 591.2,1074.8 595.1,1073.8 599.0,1072.8 602.9,1073.8 606.8,1072.8 610.7,1069.9 612.5,1067.1 614.2,1065.0 615.4,1069.0 616.6,1071.9 619.5,1067.0 623.4,1063.1 625.4,1060.0 627.3,1057.2 629.3,1055.1 631.2,1052.3 635.1,1056.2 639.1,1058.2 643.0,1058.2 646.9,1055.3 650.8,1051.3 652.2,1047.9 653.7,1045.5 653.9,1043.0 654.1,1038.9 654.2,1036.9 654.4,1032.7 654.6,1030.9 654.8,1027.0 654.9,1024.5 655.1,1020.8 655.3,1018.1 655.4,1015.3 655.6,1011.6 655.8,1008.9 656.0,1005.1 656.1,1002.7 656.3,998.8 656.5,996.1 656.6,992.7 657.6,989.5 658.6,986.9 661.5,982.9 662.4,980.2 663.2,976.0 664.1,973.2 664.3,976.6 664.6,979.3 664.9,983.0 665.2,985.2 665.4,988.8 666.4,994.7 669.3,996.6 672.3,997.6 673.3,1000.8 674.2,1003.0 675.2,1006.4 676.7,1010.4 678.1,1014.2 679.6,1016.6 681.1,1020.1 682.1,1023.9 683.0,1026.4 684.0,1029.9 684.7,1033.5 685.3,1036.1 686.0,1039.6 686.9,1043.1 687.9,1045.5 690.8,1049.4 692.3,1051.9 693.8,1055.3 696.7,1059.2 697.9,1063.6 699.1,1067.0 699.8,1069.4 700.6,1072.8 701.3,1069.9 701.9,1065.8 702.6,1063.1 705.5,1058.2 708.4,1056.2 711.4,1060.1 714.3,1063.1 715.8,1066.3 717.2,1068.9 720.2,1072.8 721.6,1075.3 723.1,1078.7 724.1,1082.7 725.0,1085.6 729.0,1085.6 731.9,1084.6 733.4,1081.1 734.8,1078.7 735.8,1076.1 736.8,1072.8 737.8,1075.4 738.7,1078.7 739.7,1082.7 740.7,1085.6 743.6,1087.5 746.5,1084.6 747.5,1080.5 748.5,1076.8 751.4,1074.8 754.4,1077.7 757.3,1078.7 760.2,1083.6 761.7,1086.8 763.2,1089.5 763.9,1092.2 764.7,1095.6 765.5,1098.3 765.7,1100.9 766.0,1104.8 766.2,1107.3 766.4,1111.3 766.7,1113.9 770.0,1114.9 770.0,1113.9 771.5,1110.5 772.9,1108.0 775.9,1106.1 778.8,1108.0 779.6,1111.8 780.5,1114.0 781.3,1117.8 781.7,1114.9 782.0,1110.7 782.4,1108.0 782.7,1104.1 783.7,1100.6 784.7,1098.3 787.6,1093.4 790.5,1089.5 793.5,1090.4 797.4,1093.4 801.3,1094.3 805.2,1092.4 809.1,1090.4 810.6,1087.7 812.0,1084.6 812.5,1080.7 813.0,1078.1 813.5,1073.8 814.0,1070.9 814.7,1068.1 815.4,1064.5 816.2,1062.4 816.9,1059.2 818.4,1055.7 819.8,1053.3 822.8,1051.3 826.7,1052.3 830.6,1055.3 832.5,1058.1 834.5,1060.1 838.4,1063.1 842.3,1064.1 846.2,1063.1 850.1,1062.1 854.0,1063.1 857.9,1061.1 861.9,1063.1 865.8,1067.0 867.2,1063.5 868.7,1061.1 870.2,1058.7 871.6,1055.3 875.5,1053.3 879.4,1057.2 883.4,1055.3 887.3,1051.3 888.7,1047.2 890.2,1043.5 891.2,1040.6 892.1,1036.6 893.1,1033.8 894.1,1031.0 895.1,1027.0 896.1,1024.0 899.0,1022.0 902.9,1022.0 906.8,1019.1 909.7,1018.1 911.2,1021.4 912.7,1024.0 914.6,1026.4 916.6,1029.9 920.5,1033.8 924.4,1035.7 926.4,1033.0 928.3,1029.9 930.3,1027.2 932.2,1025.0 936.1,1025.0 940.0,1027.9 942.0,1031.0 943.9,1033.8 945.9,1036.8 947.9,1040.6 949.8,1043.6 951.8,1045.5 952.3,1041.7 952.9,1038.9 953.5,1034.5 954.1,1032.0 954.7,1027.9 955.4,1024.8 956.2,1022.3 956.9,1018.6 957.6,1016.2 959.1,1013.8 960.6,1010.3 961.5,1013.8 962.5,1018.1 964.0,1021.6 965.4,1024.0 966.1,1020.2 966.7,1017.9 967.4,1014.2 970.3,1011.3 973.3,1012.3 974.2,1014.8 975.2,1018.1 975.9,1021.9 976.5,1024.4 977.2,1027.9 977.8,1032.2 978.5,1035.2 979.1,1039.6 979.7,1043.3 980.3,1045.3 980.9,1049.2 981.5,1051.6 982.1,1055.3 983.0,1058.9 984.0,1061.5 985.0,1065.0 986.0,1068.6 986.9,1071.3 987.9,1074.8 989.4,1079.1 990.8,1082.6 992.3,1085.1 993.8,1088.5 996.7,1091.4 999.6,1089.5 1001.1,1086.2 1002.6,1082.6 1003.2,1078.5 1003.9,1075.1 1004.5,1070.9 1005.3,1066.9 1006.0,1064.7 1006.7,1060.2 1007.5,1057.2 1011.4,1055.3 1016.3,1055.3 1021.1,1055.3 1025.0,1057.2 1029.0,1059.2 1032.9,1058.2 1035.8,1057.2 1038.7,1062.1 1041.7,1059.2 1044.6,1055.3 1046.1,1051.9 1047.5,1047.4 1049.5,1043.0 1051.4,1039.6 1055.3,1039.6 1059.3,1043.5 1061.2,1046.8 1063.2,1049.4 1067.1,1053.3 1070.0,1057.2 1070.0,1061.1 1073.9,1065.0 1077.8,1067.0 1081.7,1063.1 1083.7,1058.9 1085.6,1055.3 1087.6,1051.6 1089.5,1047.4 1091.5,1044.0 1093.5,1041.6 1097.4,1043.5 1099.3,1046.9 1101.3,1049.4 1103.2,1052.1 1105.2,1055.3 1109.1,1059.2 1111.0,1062.6 1113.0,1065.0 1116.9,1067.0 1120.8,1064.1 1122.8,1061.5 1124.7,1059.2 1126.7,1056.5 1128.6,1053.3 1132.5,1057.2 1136.4,1061.1 1140.4,1065.0 1142.3,1067.6 1144.3,1070.9 1146.2,1074.3 1148.2,1076.8 1150.1,1078.7 1152.1,1081.6 1156.0,1082.6 1159.9,1080.7 1161.9,1077.2 1163.8,1072.8 1165.8,1069.4 1167.7,1067.0 1171.6,1065.0 1175.5,1068.9 1179.4,1072.8 1183.4,1076.8 1187.3,1080.7 1191.2,1083.6 1195.1,1082.6 1197.0,1080.2 1199.0,1076.8 1200.0,1073.1 1200.9,1070.7 1201.9,1067.0 1203.4,1062.7 1204.9,1059.2 1208.8,1055.3 1212.7,1057.2 1216.6,1053.3 1220.5,1050.4 1224.4,1051.3 1228.3,1047.4 1229.0,1044.5 1229.6,1040.6 1230.3,1037.7 1231.0,1035.0 1231.7,1031.3 1232.5,1029.1 1233.2,1025.9 1234.7,1022.8 1236.1,1020.1 1238.1,1017.6 1240.0,1014.2 1241.5,1010.9 1243.0,1008.4 1244.9,1004.4 1246.9,1006.4 1247.9,1010.8 1248.8,1014.2 1249.8,1017.3 1250.8,1021.2 1251.8,1024.0 1252.7,1027.0 1253.7,1031.0 1254.7,1033.8 1256.2,1037.3 1257.6,1041.6 1260.6,1045.5 1263.5,1042.6 1266.4,1041.6 1267.9,1044.6 1269.3,1047.4 1271.3,1050.1 1273.3,1053.3 1277.2,1053.3 1281.1,1051.3 1285.0,1047.4 1288.9,1046.5 1290.8,1049.2 1292.8,1051.3 1294.8,1055.1 1296.7,1059.2 1298.0,1062.6 1299.3,1065.3 1300.6,1068.9 1302.6,1073.3 1304.5,1076.8 1306.0,1080.1 1307.5,1084.6 1310.4,1089.5 1313.9,1091.4 1314.7,1088.7 1315.5,1085.1 1316.3,1082.6 1319.2,1080.7 1323.1,1081.6 1326.0,1080.7 1327.0,1077.8 1328.0,1073.7 1329.0,1070.9 1331.9,1067.0 1335.4,1066.0" fill="none" stroke="#000" stroke-width="4.1" stroke-linejoin="round" stroke-linecap="round"/>
<polyline points="173.9,1346.2 174.2,1348.0 174.5,1353.0 174.7,1353.9 175.0,1359.6 175.3,1358.2 175.6,1364.4 175.9,1365.7 176.3,1367.4 176.7,1371.6 177.1,1371.2 177.5,1377.8 178.0,1377.2 178.4,1382.7 178.8,1383.3 179.1,1383.7 179.4,1390.0 179.6,1389.4 179.9,1394.7 180.2,1393.6 180.5,1399.9 180.7,1400.9 181.1,1401.3 181.4,1408.3 181.7,1407.3 182.1,1413.0 182.4,1413.1 182.7,1416.5 183.1,1421.3 183.5,1421.4 183.9,1425.8 184.3,1426.1 184.7,1430.2 185.4,1435.1 186.1,1433.8 186.9,1439.2 187.6,1440.0 190.5,1443.9 191.3,1445.7 192.0,1450.9 192.7,1450.5 193.5,1455.6 194.9,1459.2 196.4,1461.5 199.3,1459.5 200.0,1455.0 200.6,1455.3 201.3,1451.7 204.2,1447.8 204.5,1449.6 204.9,1453.6 205.2,1453.4 205.5,1460.1 205.8,1460.3 206.2,1463.4 209.1,1465.4 210.1,1470.3 211.0,1469.3 212.0,1473.2 213.0,1477.5 214.0,1477.4 215.0,1481.0 216.4,1485.3 217.9,1486.9 220.8,1490.8 222.3,1492.5 223.7,1496.7 224.7,1500.7 225.7,1502.5 226.4,1498.7 227.0,1498.0 227.7,1492.8 229.1,1488.8 230.6,1486.9 231.6,1486.7 232.5,1480.8 233.5,1479.1 236.1,1475.2 236.6,1472.5 237.1,1466.9 237.6,1465.4 237.8,1468.7 238.0,1469.9 238.1,1474.3 238.3,1474.4 238.5,1481.5 238.7,1480.9 238.9,1485.1 239.0,1486.3 239.2,1492.1 239.4,1492.8 239.9,1489.3 240.4,1487.8 240.8,1483.0 241.3,1481.0 243.9,1483.0 244.5,1481.3 245.0,1475.8 245.6,1478.0 246.2,1473.2 246.5,1473.6 246.9,1480.4 247.2,1479.6 247.5,1484.5 247.9,1484.0 248.2,1488.8 249.2,1487.0 250.1,1483.0 253.1,1481.0 256.0,1478.1 258.9,1477.1 259.4,1478.0 259.9,1485.0 260.4,1484.2 260.9,1488.8 263.8,1484.9 266.7,1483.0 269.7,1479.1 271.1,1483.0 272.6,1484.9 273.3,1480.2 274.1,1482.4 274.8,1475.8 275.5,1475.2 277.0,1480.3 278.5,1481.0 281.4,1484.9 281.9,1479.9 282.4,1480.1 282.9,1475.0 283.4,1475.9 283.9,1471.3 284.2,1473.1 284.5,1479.0 284.8,1477.3 285.0,1484.2 285.3,1484.9 286.3,1485.7 287.3,1490.8 288.7,1495.9 290.2,1496.7 290.8,1497.5 291.5,1504.1 292.1,1504.5 293.1,1505.7 294.1,1510.2 295.1,1512.3 295.7,1513.4 296.3,1519.9 296.8,1519.8 297.4,1525.2 298.0,1526.0 298.5,1522.5 299.0,1522.2 299.5,1515.7 300.0,1514.3 302.9,1510.3 303.6,1509.7 304.2,1504.2 304.9,1502.5 306.8,1504.5 307.5,1504.4 308.3,1498.9 309.0,1499.3 309.7,1494.7 312.3,1496.7 313.1,1492.7 313.8,1493.4 314.6,1488.8 315.4,1489.1 316.1,1494.8 316.8,1494.9 317.6,1498.6 320.5,1502.5 322.4,1504.5 323.2,1502.4 323.9,1497.8 324.6,1497.1 325.4,1492.8 326.0,1494.5 326.7,1501.1 327.3,1502.5 328.8,1504.4 330.3,1508.4 333.2,1512.3 336.1,1516.2 339.1,1514.3 339.4,1518.4 339.8,1518.3 340.2,1523.4 340.6,1524.0 341.0,1527.9 341.7,1527.1 342.3,1519.6 343.0,1518.2 343.5,1516.3 343.9,1510.9 344.4,1510.4 344.9,1506.4 347.9,1510.3 348.3,1505.4 348.8,1505.8 349.3,1499.6 349.8,1498.6 351.3,1503.3 352.7,1504.5 355.7,1502.5 358.6,1498.6 361.5,1496.7 361.8,1498.6 362.1,1503.9 362.3,1502.3 362.6,1508.7 362.8,1508.0 363.1,1512.3 363.6,1510.8 364.0,1506.0 364.5,1505.2 365.0,1500.8 365.4,1498.6 366.0,1498.3 366.5,1491.4 367.0,1490.8 367.4,1495.7 367.8,1494.4 368.2,1500.2 368.6,1499.3 369.0,1504.5 369.3,1506.4 370.8,1507.6 372.3,1512.3 375.2,1508.4 376.2,1507.5 377.2,1502.1 378.1,1500.6 379.1,1499.2 380.1,1493.2 381.1,1492.8 384.0,1496.7 385.0,1494.8 386.0,1490.8 388.9,1486.9 389.9,1483.2 390.8,1484.1 391.8,1479.1 393.3,1474.9 394.8,1473.2 396.7,1469.3 397.7,1474.3 398.7,1475.2 401.6,1479.1 403.1,1480.7 404.5,1484.9 405.5,1488.4 406.5,1488.3 407.5,1492.8 410.4,1494.7 413.3,1496.7 416.3,1498.6 418.2,1502.5 419.7,1500.8 421.1,1496.7 422.6,1492.1 424.1,1490.8 427.0,1486.9 429.9,1484.9 431.4,1488.5 432.9,1490.8 433.6,1490.9 434.3,1497.3 435.1,1497.5 435.8,1500.6 438.7,1502.5 439.7,1506.0 440.7,1505.5 441.7,1510.3 444.6,1514.3 447.5,1510.3 450.5,1514.3 451.9,1518.0 453.4,1520.1 456.3,1522.1 459.3,1524.0 459.9,1519.7 460.6,1518.3 461.2,1514.3 464.1,1516.2 464.7,1517.2 465.3,1524.0 465.9,1522.9 466.5,1527.8 467.1,1529.9 468.0,1526.2 469.0,1525.3 470.0,1522.1 470.0,1522.1 471.2,1518.1 472.3,1516.2 474.9,1512.3 475.5,1511.2 476.2,1504.7 476.8,1505.7 477.4,1500.6 478.0,1501.5 478.6,1507.3 479.2,1506.5 479.8,1510.3 482.1,1508.4 485.2,1506.4 485.6,1505.9 486.0,1500.6 486.4,1500.8 486.8,1494.8 487.2,1495.5 487.6,1490.8 489.1,1486.6 490.5,1484.9 491.3,1483.0 492.0,1479.5 492.7,1478.4 493.5,1475.2 494.2,1470.1 494.9,1470.2 495.7,1465.0 496.4,1463.4 496.9,1461.5 497.4,1455.6 497.9,1457.5 498.4,1451.3 498.9,1449.8 500.1,1454.8 501.3,1455.6 502.7,1457.9 504.2,1461.5 504.9,1461.3 505.7,1454.9 506.4,1455.8 507.1,1451.7 508.6,1447.1 510.1,1445.9 510.9,1450.6 511.8,1450.0 512.6,1453.7 513.2,1457.8 513.8,1456.5 514.4,1463.2 515.0,1463.4 515.9,1459.1 516.9,1459.9 517.9,1455.6 518.9,1455.9 519.8,1461.5 520.8,1463.4 521.5,1459.6 522.3,1460.2 523.0,1455.2 523.7,1453.7 525.0,1458.6 526.3,1459.5 526.8,1460.4 527.2,1467.4 527.7,1466.3 528.2,1472.6 528.6,1473.2 530.1,1474.5 531.6,1479.1 533.0,1483.9 534.5,1484.9 536.4,1488.8 537.0,1484.7 537.6,1484.5 538.2,1478.7 538.8,1479.0 539.4,1475.2 540.4,1470.9 541.3,1471.2 542.3,1467.3 545.2,1469.3 548.2,1465.4 548.4,1466.0 548.6,1471.5 548.8,1471.0 549.0,1476.9 549.2,1477.6 549.3,1482.9 549.5,1481.2 549.7,1487.4 549.9,1487.2 550.1,1490.8 550.6,1489.2 551.1,1485.1 551.6,1484.0 552.1,1479.6 552.6,1478.4 553.1,1475.2 553.5,1471.8 553.9,1470.8 554.3,1465.6 554.8,1466.2 555.2,1461.0 555.6,1459.5 556.0,1464.5 556.4,1463.8 556.8,1468.0 557.2,1468.9 557.6,1474.3 557.9,1475.2 560.9,1473.2 562.3,1475.5 563.8,1479.1 564.4,1482.6 565.0,1484.0 565.6,1488.1 566.2,1489.5 566.7,1492.8 567.5,1490.9 568.2,1485.2 568.9,1486.3 569.7,1481.0 571.1,1483.1 572.6,1486.9 575.5,1484.9 577.0,1484.3 578.5,1479.1 579.2,1479.2 579.9,1486.2 580.7,1484.6 581.4,1488.8 582.1,1492.8 582.7,1494.6 583.4,1498.6 583.8,1497.6 584.2,1492.4 584.6,1493.2 585.0,1488.0 585.4,1487.0 585.9,1482.0 586.3,1481.0 587.8,1479.8 589.2,1475.2 589.9,1471.4 590.5,1472.2 591.2,1467.3 592.6,1469.1 594.1,1473.2 594.5,1476.8 594.8,1477.7 595.2,1483.2 595.6,1482.5 595.9,1487.7 596.3,1488.1 596.7,1493.2 597.0,1494.7 597.5,1490.8 597.9,1489.9 598.3,1484.3 598.7,1484.8 599.1,1479.7 599.5,1480.2 600.0,1475.2 600.6,1470.2 601.3,1470.8 601.9,1467.3 602.3,1468.3 602.8,1474.4 603.2,1473.8 603.6,1478.5 604.0,1479.5 604.5,1483.0 606.8,1481.0 608.3,1485.3 609.7,1486.9 610.1,1487.8 610.5,1493.3 610.8,1493.3 611.2,1499.8 611.6,1499.0 611.9,1504.3 612.3,1505.5 612.6,1500.8 612.9,1501.7 613.2,1495.6 613.5,1497.6 613.7,1490.8 614.0,1490.6 614.3,1485.3 614.6,1484.9 617.6,1483.0 620.5,1481.0 620.9,1486.1 621.3,1484.9 621.7,1490.2 622.1,1490.6 622.4,1494.7 622.9,1493.0 623.4,1488.5 623.9,1489.2 624.4,1483.3 624.9,1482.2 625.4,1479.1 626.8,1474.0 628.3,1473.2 629.0,1471.4 629.8,1467.7 630.5,1468.1 631.2,1463.4 632.0,1458.9 632.7,1460.6 633.4,1453.9 634.2,1453.7 634.4,1458.8 634.7,1458.6 634.9,1463.2 635.1,1463.8 635.4,1468.9 635.6,1468.3 635.9,1474.3 636.1,1475.2 636.9,1470.9 637.6,1470.0 638.3,1465.3 639.1,1463.4 640.0,1467.1 641.0,1467.9 642.0,1471.3 643.0,1469.3 643.9,1465.3 644.9,1463.4 645.7,1467.9 646.4,1468.2 647.1,1474.2 647.9,1475.2 650.8,1473.2 653.3,1471.3 653.6,1467.1 653.8,1467.7 654.0,1462.0 654.2,1462.4 654.5,1456.7 654.7,1455.6 654.9,1455.1 655.1,1448.2 655.3,1448.6 655.5,1443.4 655.7,1442.7 655.9,1438.0 656.1,1436.1 656.3,1434.3 656.6,1428.7 656.9,1429.8 657.2,1423.8 657.5,1422.9 657.7,1416.9 658.0,1416.5 658.3,1414.4 658.6,1410.8 658.9,1410.3 659.1,1405.2 659.4,1404.7 659.7,1399.6 660.0,1399.3 660.3,1393.7 660.6,1393.1 660.8,1391.1 661.0,1385.5 661.2,1387.2 661.4,1380.3 661.6,1381.2 661.9,1377.0 662.1,1376.8 662.3,1370.8 662.5,1369.6 662.8,1368.1 663.1,1362.8 663.3,1362.5 663.6,1357.9 663.9,1356.4 664.2,1351.0 664.5,1350.1 664.9,1349.7 665.2,1343.2 665.6,1343.7 666.0,1339.2 666.4,1337.4 667.1,1342.5 667.7,1341.2 668.4,1346.2 668.8,1350.2 669.2,1349.5 669.5,1356.1 669.9,1356.1 670.3,1359.9 670.7,1363.1 671.1,1363.6 671.5,1369.0 671.9,1369.4 672.3,1373.5 672.7,1377.3 673.1,1377.5 673.6,1382.1 674.0,1383.5 674.4,1388.5 674.8,1389.2 675.1,1389.9 675.5,1395.1 675.8,1396.0 676.1,1401.2 676.4,1399.8 676.8,1404.8 678.7,1400.9 679.0,1405.6 679.2,1404.0 679.5,1410.1 679.7,1409.7 680.0,1416.5 680.2,1415.3 680.4,1421.4 680.7,1422.4 681.0,1423.2 681.2,1427.9 681.5,1427.8 681.8,1433.0 682.1,1433.0 682.4,1439.5 682.6,1440.0 683.2,1441.3 683.8,1446.4 684.4,1447.5 685.0,1451.7 687.9,1451.7 688.3,1456.2 688.7,1455.2 689.1,1461.6 689.5,1462.2 689.9,1465.4 692.8,1467.3 693.4,1472.1 694.0,1472.3 694.6,1476.7 695.1,1476.7 695.7,1481.0 697.2,1480.3 698.7,1475.2 699.4,1471.0 700.1,1471.2 700.9,1465.7 701.6,1465.4 704.5,1463.4 707.5,1463.4 708.2,1468.2 708.9,1468.1 709.7,1473.2 710.4,1475.2 710.8,1476.5 711.2,1482.3 711.6,1480.6 712.1,1487.1 712.5,1485.9 712.9,1492.3 713.3,1492.8 714.6,1495.0 715.9,1498.6 716.4,1502.4 716.8,1502.3 717.3,1509.5 717.8,1510.3 718.3,1506.0 718.8,1506.6 719.2,1501.6 719.7,1501.0 720.2,1496.7 723.1,1498.6 723.8,1500.0 724.6,1505.5 725.3,1504.0 726.0,1508.4 726.8,1507.8 727.5,1501.3 728.2,1501.3 729.0,1496.7 730.4,1492.9 731.9,1490.8 732.9,1489.7 733.8,1484.5 734.8,1483.0 737.8,1484.9 740.7,1488.8 743.6,1492.8 745.1,1497.1 746.5,1498.6 749.5,1494.7 752.4,1496.7 755.3,1498.6 756.3,1499.7 757.3,1505.9 758.3,1506.4 759.3,1508.2 760.2,1513.2 761.2,1514.3 762.2,1514.6 763.2,1520.7 764.1,1522.1 765.6,1524.2 767.1,1527.9 770.0,1524.0 770.0,1524.0 770.7,1529.5 771.3,1528.7 772.0,1533.8 772.3,1533.5 772.6,1527.8 772.9,1527.1 773.3,1522.5 773.6,1522.1 773.9,1518.2 774.4,1514.7 774.8,1513.9 775.3,1507.9 775.8,1508.3 776.3,1504.5 776.7,1505.3 777.1,1511.7 777.5,1511.3 777.9,1516.6 778.4,1515.3 778.8,1520.1 779.3,1524.5 779.8,1523.6 780.3,1530.1 780.7,1531.8 781.1,1527.5 781.5,1527.2 781.9,1522.8 782.3,1521.7 782.7,1518.2 785.6,1514.3 788.6,1516.2 789.4,1511.9 790.3,1511.8 791.1,1508.4 791.9,1504.0 792.7,1504.2 793.5,1500.6 793.9,1501.4 794.4,1507.6 794.9,1506.2 795.4,1513.1 795.9,1512.2 796.4,1516.2 798.9,1512.3 799.5,1511.3 800.1,1505.7 800.7,1505.4 801.3,1500.6 801.7,1502.1 802.2,1507.2 802.7,1507.6 803.1,1512.9 803.6,1514.3 804.3,1515.6 804.9,1523.0 805.6,1524.0 806.2,1519.9 806.8,1518.8 807.5,1514.5 808.1,1512.3 808.8,1511.3 809.6,1506.8 810.3,1507.0 811.0,1502.5 814.0,1500.6 814.6,1496.0 815.1,1497.0 815.7,1491.9 816.3,1491.1 816.9,1486.9 818.4,1481.7 819.8,1481.0 822.8,1479.1 825.7,1483.0 828.6,1481.0 831.6,1484.9 833.0,1482.7 834.5,1479.1 837.4,1481.0 837.8,1481.6 838.1,1487.8 838.4,1486.8 838.7,1493.2 839.1,1492.2 839.4,1496.7 839.9,1496.2 840.4,1490.7 840.9,1489.4 841.4,1485.1 841.9,1483.0 842.7,1481.7 843.5,1477.1 844.3,1475.2 844.9,1478.6 845.4,1479.6 846.0,1484.1 846.6,1484.1 847.2,1488.8 847.8,1487.5 848.4,1482.6 849.0,1482.1 849.5,1476.8 850.1,1475.2 853.1,1471.3 854.5,1475.9 856.0,1477.1 858.9,1475.2 861.9,1473.2 862.4,1474.5 863.0,1480.8 863.6,1480.4 864.2,1486.0 864.8,1486.9 866.3,1482.7 867.7,1481.0 870.7,1479.1 872.1,1483.9 873.6,1484.9 874.3,1481.4 875.0,1481.2 875.8,1476.5 876.5,1475.2 879.4,1479.1 880.9,1477.8 882.4,1473.2 883.4,1473.4 884.3,1479.7 885.3,1481.0 885.7,1476.8 886.1,1477.6 886.6,1471.4 887.0,1473.0 887.4,1466.3 887.8,1468.2 888.2,1463.4 888.6,1460.2 888.9,1459.0 889.2,1454.0 889.5,1454.3 889.9,1448.1 890.2,1447.8 890.8,1446.7 891.5,1441.8 892.1,1440.0 892.5,1438.6 892.8,1433.2 893.1,1433.5 893.5,1427.9 893.8,1427.7 894.1,1424.4 894.6,1420.2 895.1,1419.2 895.6,1414.5 896.1,1412.6 899.0,1412.6 899.6,1417.6 900.2,1416.9 900.7,1422.3 901.3,1424.4 903.9,1428.3 904.4,1424.0 904.9,1423.1 905.3,1418.7 905.8,1416.5 908.8,1412.6 911.7,1416.5 914.6,1418.5 916.1,1422.4 917.6,1424.4 919.0,1426.5 920.5,1430.2 921.5,1435.0 922.4,1433.2 923.4,1438.0 924.2,1437.7 924.9,1431.7 925.6,1432.0 926.4,1428.3 927.3,1423.8 928.3,1423.9 929.3,1420.4 929.8,1415.9 930.3,1415.9 930.7,1411.9 931.2,1410.6 931.7,1405.3 932.2,1404.8 932.4,1403.8 932.7,1397.5 932.9,1397.2 933.1,1392.2 933.3,1392.5 933.6,1386.3 933.8,1385.3 935.7,1383.3 935.9,1386.3 936.0,1386.6 936.1,1393.0 936.3,1391.6 936.4,1396.6 936.6,1396.3 936.7,1403.1 936.8,1402.4 937.0,1407.7 937.1,1408.7 939.1,1404.8 941.6,1408.7 942.8,1410.2 943.9,1414.6 944.7,1418.5 945.4,1417.9 946.1,1422.9 946.9,1424.4 948.3,1426.1 949.8,1430.2 952.7,1428.3 953.1,1426.7 953.4,1422.2 953.7,1421.6 954.0,1416.0 954.4,1416.2 954.7,1412.6 955.2,1408.4 955.7,1407.5 956.2,1402.1 956.6,1400.9 957.1,1398.6 957.6,1394.3 958.1,1393.0 958.6,1389.2 961.5,1387.2 964.5,1385.3 967.4,1383.3 970.3,1379.4 971.3,1375.4 972.3,1374.5 973.3,1379.9 974.2,1381.4 974.6,1383.1 975.0,1387.8 975.4,1387.6 975.8,1394.3 976.2,1395.0 976.3,1395.4 976.4,1401.6 976.6,1402.1 976.7,1407.0 976.8,1407.9 976.9,1412.8 977.0,1412.4 977.2,1416.5 977.3,1420.3 977.5,1421.2 977.6,1426.2 977.8,1426.6 977.9,1431.5 978.1,1431.5 978.3,1436.6 978.4,1437.9 978.6,1442.9 978.7,1443.9 979.3,1445.3 979.9,1450.9 980.5,1451.4 981.1,1455.6 982.1,1460.1 983.0,1458.9 984.0,1463.4 986.5,1467.3 987.1,1472.7 987.7,1471.9 988.3,1476.9 988.9,1479.1 989.5,1479.8 990.1,1486.6 990.7,1484.9 991.2,1490.9 991.8,1492.8 992.3,1493.9 992.8,1500.2 993.3,1498.9 993.9,1504.9 994.4,1506.4 995.0,1507.6 995.7,1513.7 996.3,1516.2 997.1,1512.7 997.9,1512.2 998.7,1508.4 999.3,1510.0 999.8,1513.9 1000.4,1513.8 1001.0,1518.2 1001.4,1517.2 1001.9,1512.4 1002.3,1512.0 1002.7,1505.4 1003.1,1507.5 1003.6,1502.5 1004.0,1497.8 1004.5,1498.0 1005.0,1492.4 1005.5,1490.8 1006.8,1495.8 1008.0,1496.7 1008.2,1492.1 1008.4,1493.6 1008.6,1487.0 1008.8,1487.6 1009.0,1482.3 1009.2,1482.6 1009.4,1478.0 1009.6,1477.0 1009.8,1471.7 1010.0,1471.3 1010.8,1469.6 1011.6,1464.4 1012.3,1463.4 1015.3,1459.5 1016.5,1457.4 1017.8,1453.7 1020.2,1449.8 1020.6,1452.0 1021.1,1455.9 1021.6,1457.3 1022.0,1461.6 1022.5,1463.4 1025.0,1467.3 1028.0,1463.4 1029.0,1465.4 1029.9,1469.8 1030.9,1471.3 1033.8,1475.2 1036.8,1479.1 1039.7,1483.0 1040.7,1478.6 1041.7,1479.1 1042.6,1475.2 1043.6,1471.0 1044.6,1470.9 1045.6,1467.3 1047.0,1467.9 1048.5,1473.2 1050.0,1477.8 1051.4,1479.1 1051.9,1476.1 1052.3,1476.1 1052.7,1469.9 1053.1,1469.8 1053.5,1465.9 1053.9,1464.9 1054.4,1461.5 1057.3,1459.5 1060.2,1463.4 1063.2,1467.3 1066.1,1471.3 1068.0,1471.6 1070.0,1475.2 1070.0,1475.2 1071.0,1478.6 1072.0,1478.4 1072.9,1483.0 1075.9,1479.1 1078.8,1475.2 1081.7,1471.3 1082.7,1475.3 1083.7,1474.5 1084.7,1479.1 1085.4,1477.6 1086.1,1472.5 1086.9,1472.1 1087.6,1467.3 1090.5,1463.4 1093.5,1463.4 1094.4,1464.2 1095.4,1469.9 1096.4,1471.3 1098.9,1475.2 1099.5,1470.3 1100.1,1470.3 1100.7,1465.2 1101.3,1463.4 1104.2,1461.5 1105.7,1466.8 1107.1,1467.3 1110.1,1471.3 1113.0,1473.2 1114.5,1475.0 1115.9,1479.1 1118.9,1475.2 1119.6,1474.4 1120.3,1468.0 1121.1,1468.3 1121.8,1463.4 1124.7,1459.5 1125.5,1454.6 1126.2,1455.5 1126.9,1449.3 1127.7,1447.8 1130.6,1443.9 1131.6,1448.8 1132.5,1446.9 1133.5,1451.7 1134.3,1456.1 1135.0,1456.3 1135.7,1462.3 1136.4,1463.4 1137.4,1464.3 1138.4,1470.0 1139.4,1471.3 1142.3,1475.2 1143.3,1475.4 1144.3,1481.6 1145.2,1483.0 1146.7,1483.7 1148.2,1488.8 1149.2,1488.1 1150.1,1482.3 1151.1,1481.0 1152.6,1479.0 1154.0,1475.2 1155.0,1475.7 1156.0,1481.9 1157.0,1483.0 1159.9,1479.1 1161.4,1473.8 1162.8,1473.2 1163.6,1477.8 1164.3,1477.4 1165.0,1481.2 1165.8,1483.0 1166.3,1484.9 1166.7,1490.6 1167.2,1490.4 1167.7,1494.7 1168.2,1494.2 1168.7,1486.5 1169.2,1486.4 1169.7,1483.0 1170.0,1479.3 1170.3,1478.5 1170.7,1473.0 1171.0,1473.6 1171.3,1469.4 1171.6,1467.3 1174.6,1463.4 1177.5,1459.5 1180.4,1461.5 1181.2,1466.0 1181.9,1465.8 1182.6,1472.1 1183.4,1473.2 1184.1,1475.2 1184.8,1480.9 1185.6,1480.9 1186.3,1484.9 1187.8,1489.1 1189.2,1490.8 1192.1,1492.8 1192.9,1488.0 1193.6,1489.2 1194.3,1484.0 1195.1,1483.0 1198.0,1479.1 1200.9,1475.2 1202.9,1471.3 1203.2,1469.2 1203.6,1464.6 1203.9,1464.6 1204.2,1458.8 1204.5,1460.2 1204.9,1455.6 1205.8,1451.0 1206.8,1449.8 1209.7,1447.8 1212.7,1451.7 1216.6,1453.7 1220.5,1455.6 1224.4,1457.6 1228.3,1459.5 1231.2,1455.6 1232.2,1454.9 1233.2,1449.3 1234.2,1447.8 1235.1,1447.4 1236.1,1440.6 1237.1,1440.0 1240.0,1436.1 1240.5,1434.5 1241.0,1427.9 1241.5,1429.0 1242.0,1424.4 1242.3,1420.6 1242.6,1421.1 1243.0,1414.6 1243.3,1415.2 1243.6,1409.4 1243.9,1408.7 1244.6,1407.6 1245.2,1401.4 1245.9,1400.9 1247.9,1404.8 1248.8,1408.6 1249.8,1410.7 1251.8,1412.6 1252.4,1414.5 1253.1,1419.6 1253.7,1422.4 1255.2,1424.3 1256.6,1428.3 1258.1,1431.7 1259.6,1434.1 1262.5,1436.1 1264.0,1437.6 1265.4,1441.9 1266.9,1445.7 1268.4,1447.8 1271.3,1451.7 1273.3,1451.5 1275.2,1455.6 1277.2,1454.1 1279.1,1449.8 1282.1,1445.9 1285.0,1446.8 1288.9,1449.8 1290.4,1450.5 1291.8,1455.6 1292.8,1459.6 1293.8,1459.9 1294.8,1463.4 1296.2,1467.6 1297.7,1469.3 1300.6,1473.2 1302.1,1474.8 1303.6,1479.1 1305.0,1484.2 1306.5,1484.9 1309.4,1486.9 1312.3,1483.0 1315.3,1479.1 1318.2,1481.0 1319.7,1476.9 1321.1,1475.2 1324.1,1473.2 1327.0,1475.2 1327.7,1479.9 1328.5,1479.2 1329.2,1483.5 1329.9,1484.9 1332.9,1486.9 1335.4,1487.9" fill="none" stroke="#000" stroke-width="5.4" stroke-linejoin="round" stroke-linecap="round"/>
<polyline points="172.0,1430.2 172.9,1431.9 173.9,1436.1 174.6,1440.2 175.2,1439.9 175.9,1443.9 176.2,1446.9 176.5,1447.4 176.8,1453.4 177.2,1453.3 177.5,1458.1 177.8,1459.5 178.6,1461.6 179.3,1465.2 180.0,1465.4 180.7,1469.3 181.4,1467.6 182.1,1461.5 182.7,1459.5 183.7,1457.3 184.7,1453.7 185.6,1451.7 188.6,1447.8 191.5,1443.9 192.1,1448.3 192.8,1448.3 193.5,1451.7 193.8,1450.2 194.1,1445.8 194.4,1445.3 194.8,1439.6 195.1,1439.6 195.4,1436.1 196.1,1438.1 196.7,1442.1 197.4,1443.9 197.9,1446.5 198.3,1450.6 198.8,1451.2 199.3,1455.6 200.3,1453.5 201.3,1449.8 201.7,1451.1 202.1,1457.0 202.4,1456.5 202.8,1461.1 203.2,1463.4 203.7,1465.5 204.2,1469.7 204.7,1471.6 205.2,1475.2 205.8,1478.4 206.5,1478.7 207.1,1483.0 208.1,1486.8 209.1,1488.8 210.1,1490.7 211.0,1494.7 211.4,1498.2 211.8,1499.1 212.2,1503.9 212.6,1506.4 213.0,1503.2 213.4,1502.2 213.8,1497.4 214.2,1496.6 214.6,1492.8 215.5,1494.9 216.5,1498.6 217.1,1496.6 217.7,1492.4 218.3,1491.9 218.9,1488.8 220.0,1490.0 221.2,1494.7 221.8,1492.7 222.5,1487.6 223.1,1486.9 223.7,1483.0 224.5,1479.6 225.2,1477.5 225.9,1472.6 226.7,1471.3 227.2,1469.7 227.7,1464.1 228.1,1463.0 228.6,1459.5 229.3,1456.4 229.9,1455.1 230.6,1451.7 231.4,1447.3 232.1,1448.3 232.9,1443.9 235.5,1447.8 235.8,1443.9 236.0,1443.3 236.3,1438.5 236.6,1437.5 236.9,1432.1 237.1,1432.1 237.4,1428.3 237.8,1430.5 238.2,1435.2 238.6,1435.6 239.0,1440.7 239.4,1441.9 239.7,1438.1 239.9,1437.8 240.2,1433.6 240.5,1433.4 240.8,1428.6 241.1,1428.2 241.3,1424.4 241.6,1421.2 241.9,1419.5 242.2,1414.9 242.5,1414.5 242.7,1409.5 243.0,1409.0 243.3,1404.8 243.6,1401.3 243.9,1401.2 244.3,1395.2 244.6,1395.5 244.9,1391.2 245.2,1389.2 245.3,1388.4 245.4,1382.8 245.5,1383.0 245.6,1377.6 245.7,1377.9 245.8,1372.8 245.9,1372.9 246.0,1368.7 246.1,1367.6 246.2,1363.4 246.3,1362.8 246.4,1358.0 246.5,1356.9 246.6,1354.0 246.8,1350.5 247.0,1349.2 247.1,1344.8 247.3,1344.4 247.5,1339.7 247.7,1338.1 247.8,1334.2 248.0,1332.8 248.2,1329.6 248.3,1331.2 248.5,1336.0 248.6,1336.2 248.7,1341.1 248.9,1340.9 249.0,1346.6 249.2,1346.7 249.3,1351.4 249.4,1351.1 249.6,1356.6 249.7,1356.3 249.9,1361.1 250.0,1361.9 250.1,1365.7 250.2,1369.5 250.2,1369.9 250.3,1374.1 250.3,1374.2 250.4,1380.3 250.5,1379.9 250.5,1385.4 250.6,1385.2 250.6,1390.5 250.7,1390.6 250.7,1394.4 250.8,1395.5 250.8,1400.5 250.9,1401.2 250.9,1404.9 251.0,1405.2 251.0,1410.0 251.1,1410.0 251.2,1415.6 251.2,1415.6 251.3,1420.9 251.3,1420.6 251.4,1425.7 251.4,1426.4 251.5,1430.8 251.5,1430.9 251.6,1435.3 251.6,1436.4 251.7,1440.0 251.7,1439.1 251.8,1434.5 251.8,1433.3 251.9,1428.4 251.9,1428.2 252.0,1423.7 252.0,1423.6 252.1,1418.7 252.1,1417.4 252.2,1413.0 252.2,1412.6 252.3,1407.6 252.3,1407.7 252.4,1403.1 252.4,1402.2 252.4,1397.5 252.5,1397.1 252.5,1392.4 252.6,1391.7 252.6,1387.0 252.7,1387.6 252.7,1382.1 252.8,1382.4 252.8,1377.1 252.9,1376.7 252.9,1372.8 253.0,1371.8 253.0,1367.0 253.1,1365.7 253.3,1369.0 253.6,1370.8 253.9,1375.3 254.2,1375.3 254.5,1380.7 254.7,1381.2 255.0,1385.3 255.1,1384.4 255.2,1379.7 255.3,1378.1 255.3,1373.8 255.4,1373.5 255.5,1369.0 255.6,1367.9 255.7,1363.5 255.7,1362.7 255.8,1358.0 255.9,1358.2 256.0,1353.7 256.1,1352.1 256.1,1347.8 256.2,1348.1 256.3,1343.1 256.4,1341.3 256.5,1344.3 256.6,1346.0 256.7,1350.8 256.8,1351.0 256.8,1356.0 256.9,1355.3 257.0,1360.7 257.1,1361.3 257.2,1365.8 257.3,1366.2 257.4,1371.3 257.5,1370.8 257.6,1376.5 257.7,1376.3 257.8,1381.5 257.9,1382.2 257.9,1385.3 258.0,1388.5 258.1,1388.7 258.2,1394.4 258.2,1394.4 258.3,1399.3 258.4,1399.5 258.4,1403.7 258.5,1404.8 258.6,1409.8 258.6,1410.0 258.7,1413.9 258.8,1415.2 258.8,1418.8 258.9,1420.1 259.0,1424.9 259.0,1425.0 259.1,1429.1 259.2,1430.4 259.2,1435.1 259.3,1435.6 259.4,1439.5 259.4,1440.4 259.5,1443.9 259.6,1447.4 259.8,1448.2 259.9,1453.3 260.0,1454.0 260.1,1458.5 260.3,1458.6 260.4,1464.3 260.5,1464.8 260.6,1468.8 260.8,1469.4 260.9,1473.2 262.8,1471.3 263.0,1469.6 263.2,1465.3 263.4,1464.7 263.6,1458.6 263.8,1458.3 264.0,1453.9 264.2,1452.8 264.4,1448.6 264.6,1447.0 264.8,1443.9 265.1,1440.5 265.3,1439.3 265.6,1435.0 265.9,1433.2 266.2,1428.2 266.5,1428.7 266.7,1424.4 267.1,1421.4 267.4,1420.2 267.7,1415.6 268.0,1415.3 268.4,1410.5 268.7,1408.7 270.7,1404.8 271.3,1403.1 272.0,1397.8 272.6,1395.0 272.9,1398.2 273.1,1398.9 273.3,1403.6 273.6,1405.1 273.8,1409.4 274.1,1410.4 274.3,1415.2 274.6,1416.5 274.8,1418.4 275.1,1422.5 275.4,1423.1 275.7,1428.0 276.0,1427.4 276.2,1433.1 276.5,1434.1 276.9,1430.4 277.3,1430.0 277.7,1424.5 278.1,1423.9 278.5,1420.4 278.8,1422.0 279.2,1425.9 279.6,1427.2 279.9,1431.3 280.3,1431.5 280.6,1435.9 281.0,1438.0 281.1,1435.0 281.2,1434.6 281.3,1429.3 281.4,1429.0 281.5,1424.6 281.6,1424.2 281.7,1419.0 281.8,1419.1 281.8,1414.0 281.9,1414.6 282.0,1409.9 282.1,1409.6 282.2,1404.4 282.3,1404.3 282.4,1399.2 282.5,1399.0 282.6,1393.8 282.7,1393.2 282.8,1389.9 282.9,1388.8 283.0,1385.3 283.2,1381.6 283.4,1380.5 283.6,1375.8 283.9,1375.6 284.1,1370.6 284.3,1368.7 284.4,1373.0 284.5,1372.2 284.6,1377.3 284.7,1377.4 284.8,1382.0 284.9,1383.6 285.0,1388.4 285.1,1387.8 285.2,1393.2 285.3,1393.2 285.4,1398.0 285.5,1398.5 285.6,1402.9 285.7,1404.8 286.2,1406.6 286.7,1410.8 287.3,1412.6 288.4,1414.5 289.6,1418.5 290.9,1422.4 292.1,1424.4 292.5,1425.4 292.8,1430.9 293.1,1431.0 293.5,1435.7 293.8,1436.0 294.1,1440.0 294.6,1443.4 295.1,1444.7 295.6,1449.0 296.1,1449.0 296.5,1454.7 297.0,1455.6 297.3,1456.7 297.6,1462.1 297.9,1461.4 298.2,1467.0 298.4,1466.8 298.7,1471.4 299.0,1473.2 301.3,1471.3 302.2,1467.0 303.0,1467.8 303.9,1463.4 304.0,1460.0 304.1,1459.3 304.2,1454.6 304.3,1455.0 304.5,1449.9 304.6,1449.6 304.7,1444.3 304.8,1444.8 304.9,1439.9 305.0,1439.4 305.1,1435.0 305.3,1434.6 305.4,1430.1 305.5,1429.6 305.6,1424.1 305.7,1423.9 305.8,1420.4 307.8,1424.4 309.7,1428.3 310.4,1424.0 311.0,1423.8 311.7,1420.4 312.3,1416.2 313.0,1416.0 313.6,1411.9 314.2,1410.7 314.5,1413.8 314.8,1414.5 315.1,1419.6 315.4,1420.3 315.6,1424.8 315.9,1424.9 316.2,1428.3 316.4,1432.1 316.6,1432.6 316.9,1437.4 317.1,1437.8 317.3,1441.4 317.5,1442.8 317.8,1445.9 318.3,1443.9 318.9,1439.5 319.5,1440.0 320.1,1436.1 320.4,1431.6 320.7,1431.8 320.9,1427.2 321.2,1425.4 321.5,1421.2 321.8,1420.7 322.1,1416.5 322.2,1413.4 322.4,1412.5 322.6,1408.2 322.8,1407.0 323.0,1402.4 323.2,1402.6 323.4,1396.8 323.6,1396.5 323.8,1392.0 324.0,1391.9 324.2,1387.0 324.4,1385.3 324.6,1383.7 324.8,1378.4 324.9,1378.1 325.1,1373.0 325.3,1372.4 325.5,1368.6 325.6,1367.1 325.8,1363.4 326.0,1363.1 326.2,1357.7 326.4,1355.9 326.6,1353.6 326.9,1348.8 327.2,1349.0 327.5,1344.4 327.7,1343.0 328.0,1338.1 328.3,1336.4 328.6,1339.9 328.9,1341.0 329.1,1345.3 329.4,1345.8 329.7,1351.5 330.0,1352.2 330.3,1355.9 330.5,1359.6 330.7,1359.7 331.0,1365.3 331.2,1366.3 331.5,1370.3 331.7,1370.5 332.0,1375.7 332.2,1377.4 332.3,1378.6 332.5,1383.2 332.6,1384.3 332.7,1389.7 332.9,1389.5 333.0,1394.1 333.1,1394.4 333.3,1398.9 333.4,1400.4 333.5,1405.2 333.6,1405.5 333.8,1410.3 333.9,1410.1 334.0,1414.6 334.2,1416.5 334.3,1417.4 334.4,1422.3 334.5,1423.5 334.6,1427.7 334.7,1428.8 334.8,1433.7 334.9,1434.0 335.0,1438.4 335.1,1438.8 335.2,1443.4 335.3,1444.1 335.4,1448.1 335.5,1448.6 335.6,1453.6 335.7,1454.7 335.8,1458.6 335.9,1459.0 336.0,1463.3 336.1,1465.4 336.3,1462.3 336.5,1460.9 336.7,1456.6 336.8,1456.0 337.0,1451.2 337.2,1450.8 337.4,1445.0 337.5,1444.9 337.7,1439.7 337.9,1439.7 338.1,1436.1 338.7,1437.6 339.4,1443.0 340.0,1443.9 340.5,1439.8 341.0,1438.6 341.5,1434.0 342.0,1432.2 342.3,1430.0 342.5,1426.1 342.8,1424.6 343.1,1419.2 343.4,1419.0 343.7,1414.0 343.9,1412.6 344.6,1411.6 345.2,1406.5 345.9,1404.8 346.5,1403.1 347.1,1398.3 347.7,1399.1 348.2,1395.0 348.5,1397.2 348.7,1401.8 349.0,1402.7 349.2,1407.3 349.5,1406.9 349.7,1412.4 350.0,1412.4 350.2,1416.5 350.8,1414.8 351.5,1408.9 352.1,1408.2 352.7,1404.8 353.2,1406.9 353.6,1411.0 354.0,1411.0 354.4,1415.7 354.9,1416.3 355.3,1420.4 355.6,1419.3 355.9,1414.4 356.3,1414.1 356.6,1408.4 356.9,1408.0 357.2,1404.8 357.3,1406.7 357.5,1410.8 357.6,1411.9 357.7,1416.4 357.8,1416.7 357.9,1421.2 358.0,1422.0 358.2,1427.1 358.3,1428.0 358.4,1432.3 358.5,1432.2 358.6,1437.9 358.7,1437.7 358.8,1442.6 359.0,1443.7 359.1,1448.8 359.2,1449.8 359.4,1445.8 359.7,1446.1 359.9,1440.2 360.2,1439.5 360.4,1434.7 360.7,1434.1 360.9,1430.0 361.1,1428.3 361.8,1432.3 362.4,1432.5 363.1,1436.1 363.9,1434.0 364.7,1429.5 365.4,1428.3 365.6,1427.2 365.8,1422.1 366.0,1422.0 366.2,1415.9 366.3,1415.4 366.5,1411.6 366.7,1410.8 366.9,1406.4 367.0,1406.0 367.2,1400.6 367.4,1398.9 367.6,1403.0 367.8,1402.9 368.0,1408.3 368.2,1408.1 368.4,1412.8 368.6,1413.2 368.8,1417.8 369.0,1418.4 369.2,1423.5 369.3,1424.4 369.5,1425.4 369.7,1430.1 369.8,1430.5 370.0,1435.8 370.2,1436.2 370.3,1440.8 370.5,1441.9 370.7,1446.7 370.8,1447.3 371.0,1451.8 371.1,1452.5 371.3,1455.6 372.0,1458.6 372.8,1460.0 373.5,1464.2 374.2,1465.4 375.7,1467.7 377.2,1471.3 378.1,1469.2 379.1,1465.3 380.1,1463.4 380.4,1461.3 380.7,1457.7 381.1,1456.5 381.4,1451.7 381.7,1452.0 382.1,1447.8 382.7,1449.6 383.4,1454.6 384.0,1455.6 384.2,1452.1 384.3,1452.2 384.5,1446.5 384.7,1446.6 384.8,1440.9 385.0,1441.6 385.1,1436.4 385.3,1436.1 385.5,1430.8 385.6,1430.9 385.8,1425.5 386.0,1424.4 386.2,1422.9 386.5,1417.8 386.7,1418.3 387.0,1413.1 387.2,1412.2 387.5,1407.3 387.7,1407.3 388.0,1402.7 388.2,1402.8 388.5,1398.9 388.8,1400.7 389.1,1405.3 389.3,1405.1 389.6,1410.0 389.9,1410.1 390.2,1415.2 390.5,1416.5 391.0,1418.5 391.6,1422.8 392.2,1423.8 392.8,1428.3 393.1,1431.3 393.5,1432.0 393.8,1437.1 394.1,1437.2 394.4,1442.4 394.8,1443.9 395.2,1445.3 395.7,1451.0 396.2,1451.4 396.7,1455.6 397.0,1454.6 397.4,1450.0 397.7,1449.6 398.0,1444.7 398.3,1443.1 398.7,1440.0 398.9,1437.0 399.2,1435.3 399.5,1431.7 399.8,1430.9 400.1,1425.7 400.3,1426.3 400.6,1422.4 400.8,1424.1 401.0,1428.7 401.2,1429.4 401.4,1434.5 401.6,1434.5 401.8,1440.1 402.0,1439.7 402.2,1443.9 402.8,1448.1 403.4,1448.1 403.9,1453.7 404.5,1455.6 405.1,1457.7 405.7,1462.8 406.3,1463.8 406.9,1467.3 409.4,1471.3 412.0,1475.2 412.7,1479.3 413.5,1479.9 414.3,1483.0 416.6,1486.9 419.2,1490.8 419.7,1488.8 420.2,1484.2 420.7,1482.6 421.1,1479.1 421.8,1475.6 422.4,1474.4 423.0,1468.7 423.7,1467.3 423.8,1471.6 424.0,1471.9 424.1,1475.5 424.3,1476.2 424.4,1481.7 424.6,1481.1 424.7,1486.4 424.9,1486.9 425.0,1492.0 425.1,1492.2 425.3,1496.0 425.4,1497.5 425.6,1501.9 425.7,1501.8 425.9,1506.6 426.0,1508.4 426.2,1504.4 426.4,1504.6 426.6,1499.7 426.8,1499.5 427.0,1494.4 427.2,1494.2 427.4,1489.6 427.6,1488.8 427.8,1485.1 428.0,1483.0 428.5,1486.3 429.0,1487.7 429.4,1492.5 429.9,1492.9 430.4,1497.7 430.9,1498.6 431.9,1500.4 432.9,1505.2 433.8,1506.4 434.8,1508.5 435.8,1512.5 436.8,1514.3 439.7,1518.2 442.1,1522.1 442.7,1518.1 443.3,1516.7 444.0,1512.5 444.6,1510.3 445.2,1509.0 445.9,1503.6 446.5,1503.1 447.1,1498.6 447.5,1495.0 447.9,1494.7 448.3,1489.8 448.7,1489.2 449.1,1484.8 449.5,1483.0 449.8,1486.9 450.1,1487.7 450.4,1492.5 450.7,1493.2 450.9,1498.1 451.2,1498.6 451.5,1502.6 451.8,1504.5 453.1,1507.0 454.4,1510.3 456.9,1506.4 457.3,1504.4 457.7,1499.9 458.1,1500.2 458.5,1494.8 458.9,1494.0 459.3,1490.8 459.6,1487.4 459.9,1486.1 460.2,1482.1 460.6,1482.1 460.9,1476.9 461.2,1475.2 464.1,1471.3 467.1,1467.3 467.4,1471.8 467.7,1471.1 468.0,1476.2 468.4,1477.2 468.7,1482.1 469.0,1482.3 469.3,1486.6 469.7,1487.2 470.0,1490.8 470.0,1488.6 470.0,1484.3 470.0,1483.0 472.3,1484.9 472.9,1483.3 473.4,1478.4 473.9,1478.2 474.4,1473.1 474.9,1471.3 475.4,1469.2 475.9,1465.6 476.4,1464.2 476.8,1460.4 477.3,1460.0 477.8,1455.6 478.8,1457.5 479.8,1461.2 480.7,1463.4 481.2,1465.4 481.6,1469.5 482.0,1470.8 482.4,1475.7 482.9,1474.8 483.3,1479.1 483.7,1478.0 484.1,1473.3 484.5,1471.7 484.9,1467.3 485.2,1466.4 485.6,1463.4 486.2,1459.1 486.8,1459.4 487.4,1453.6 488.0,1453.4 488.6,1449.8 489.1,1451.7 489.6,1456.0 490.1,1457.4 490.6,1461.4 491.1,1463.4 491.4,1464.5 491.8,1470.6 492.1,1470.6 492.4,1475.5 492.8,1476.1 493.1,1481.7 493.5,1483.0 493.8,1485.2 494.1,1489.8 494.5,1491.0 494.8,1494.8 495.1,1495.6 495.5,1500.5 495.8,1502.5 496.2,1499.3 496.6,1497.8 497.1,1493.3 497.5,1493.2 497.9,1488.2 498.3,1486.9 498.8,1484.6 499.4,1480.4 499.9,1479.2 500.4,1475.1 500.9,1473.2 501.3,1471.6 501.8,1466.9 502.3,1466.2 502.8,1461.5 503.2,1459.5 503.8,1463.5 504.4,1464.1 505.0,1469.3 505.6,1471.3 506.2,1473.5 506.8,1478.8 507.5,1479.0 508.1,1483.0 508.5,1480.9 508.8,1477.4 509.2,1477.1 509.6,1472.1 509.9,1471.7 510.3,1467.2 510.7,1465.4 511.2,1469.5 511.8,1469.5 512.4,1473.8 513.0,1475.2 514.0,1471.2 515.0,1471.0 515.9,1467.3 516.2,1463.3 516.5,1463.4 516.8,1458.4 517.1,1457.8 517.3,1453.4 517.6,1453.0 517.9,1447.4 518.2,1447.9 518.5,1443.9 518.7,1440.4 519.0,1439.6 519.3,1434.1 519.5,1433.9 519.8,1428.7 520.0,1427.3 520.3,1431.1 520.6,1431.8 520.9,1437.4 521.2,1437.0 521.5,1441.6 521.8,1443.9 522.1,1445.4 522.3,1451.0 522.6,1451.7 522.9,1456.3 523.2,1456.1 523.5,1462.2 523.7,1463.4 524.5,1465.4 525.2,1471.0 525.9,1471.4 526.7,1475.2 529.6,1479.1 532.5,1481.0 533.0,1479.4 533.5,1474.3 533.9,1474.2 534.4,1469.0 534.9,1467.3 535.3,1466.0 535.7,1461.7 536.2,1460.3 536.6,1456.5 537.0,1456.0 537.4,1451.7 538.1,1448.5 538.7,1447.5 539.3,1443.2 540.0,1441.9 540.6,1440.5 541.1,1436.3 541.7,1435.0 542.3,1432.2 543.1,1429.0 543.9,1428.4 544.7,1424.4 545.5,1420.9 546.4,1419.9 547.2,1416.5 547.8,1412.6 548.5,1411.8 549.1,1407.2 549.7,1404.8 550.4,1402.1 551.0,1396.8 551.7,1395.0 552.3,1393.4 553.0,1386.8 553.6,1385.3 553.9,1384.3 554.1,1379.7 554.3,1379.2 554.6,1373.4 554.8,1372.6 555.0,1369.6 555.1,1366.0 555.1,1366.1 555.2,1360.1 555.3,1360.1 555.3,1355.8 555.4,1355.2 555.5,1349.9 555.5,1349.8 555.6,1345.7 555.6,1344.4 555.7,1339.5 555.8,1339.8 555.8,1334.8 555.9,1334.4 555.9,1330.6 556.0,1329.4 556.1,1324.5 556.1,1324.0 556.2,1319.6 556.3,1319.7 556.3,1315.1 556.4,1313.0 556.5,1317.1 556.5,1317.2 556.6,1320.9 556.7,1321.3 556.8,1325.9 556.8,1326.5 556.9,1331.2 557.0,1332.6 557.1,1336.2 557.1,1336.4 557.2,1341.7 557.3,1342.6 557.4,1347.2 557.4,1346.5 557.5,1352.4 557.6,1351.5 557.7,1357.4 557.7,1357.7 557.8,1362.0 557.9,1361.9 557.9,1365.7 558.0,1364.1 558.1,1360.1 558.2,1359.3 558.2,1354.9 558.3,1354.9 558.4,1349.2 558.5,1348.5 558.5,1345.1 558.6,1344.5 558.7,1339.3 558.8,1339.5 558.8,1334.9 558.9,1333.6 559.0,1328.8 559.1,1328.9 559.1,1324.8 559.2,1324.1 559.3,1318.9 559.4,1318.4 559.4,1314.8 559.5,1313.0 559.6,1316.3 559.7,1317.2 559.7,1321.6 559.8,1321.7 559.9,1327.2 560.0,1326.5 560.0,1331.8 560.1,1331.6 560.2,1336.2 560.3,1337.5 560.3,1341.9 560.4,1342.4 560.5,1346.0 560.6,1347.3 560.6,1352.0 560.7,1351.8 560.8,1357.5 560.9,1357.0 560.9,1361.5 561.0,1362.0 561.1,1365.7 561.1,1363.8 561.2,1359.9 561.3,1359.6 561.4,1354.9 561.4,1354.9 561.5,1349.6 561.6,1349.4 561.7,1345.1 561.7,1344.3 561.8,1338.8 561.9,1339.7 562.0,1334.5 562.0,1334.1 562.1,1329.1 562.2,1328.6 562.3,1324.4 562.3,1324.2 562.4,1319.3 562.5,1318.5 562.6,1314.6 562.6,1313.0 562.7,1317.0 562.8,1316.5 562.9,1321.0 562.9,1322.3 563.0,1326.9 563.1,1327.7 563.2,1332.0 563.2,1331.3 563.3,1337.0 563.4,1336.9 563.5,1341.3 563.5,1341.9 563.6,1346.8 563.7,1346.8 563.8,1351.6 563.8,1351.8 563.9,1356.1 564.0,1357.3 564.1,1362.0 564.1,1361.7 564.2,1365.7 564.3,1364.1 564.4,1359.4 564.4,1359.8 564.5,1354.5 564.6,1354.8 564.6,1349.1 564.7,1349.8 564.8,1344.3 564.9,1344.9 564.9,1339.7 565.0,1339.4 565.1,1334.0 565.2,1333.7 565.2,1329.5 565.3,1328.9 565.4,1324.6 565.5,1323.6 565.5,1318.9 565.6,1318.7 565.7,1313.8 565.8,1313.0 565.8,1316.2 565.9,1316.4 565.9,1321.3 566.0,1322.0 566.0,1326.2 566.1,1327.7 566.1,1331.5 566.2,1332.2 566.2,1337.3 566.3,1337.2 566.4,1342.6 566.4,1342.3 566.5,1347.0 566.5,1347.5 566.6,1353.2 566.6,1352.6 566.7,1357.6 566.7,1357.9 566.8,1362.9 566.8,1363.6 566.9,1368.1 566.9,1369.6 567.1,1370.5 567.3,1375.5 567.5,1376.0 567.7,1381.1 567.9,1381.9 568.1,1385.3 568.5,1388.8 568.9,1390.0 569.3,1395.7 569.7,1397.0 569.8,1397.9 569.8,1403.1 569.9,1404.0 570.0,1408.3 570.1,1408.3 570.2,1413.3 570.3,1414.6 570.4,1418.7 570.5,1419.1 570.5,1423.8 570.6,1425.1 570.7,1429.3 570.8,1429.8 570.9,1434.9 571.0,1434.5 571.1,1440.4 571.2,1439.6 571.2,1443.9 571.4,1442.8 571.6,1437.3 571.8,1437.1 572.0,1431.3 572.2,1431.2 572.4,1426.7 572.6,1425.6 572.8,1421.6 573.0,1420.9 573.2,1416.5 573.7,1412.3 574.2,1411.9 574.7,1406.2 575.1,1404.8 575.8,1403.3 576.4,1398.4 577.1,1397.0 577.4,1400.6 577.7,1401.5 577.9,1407.2 578.2,1406.4 578.5,1411.4 578.8,1412.2 579.1,1416.5 579.4,1419.8 579.7,1420.8 580.1,1424.6 580.4,1425.9 580.7,1430.4 581.1,1430.1 581.4,1434.1 582.1,1432.5 582.7,1426.2 583.4,1424.4 584.5,1422.4 585.7,1418.5 587.0,1420.5 588.2,1424.4 589.1,1422.7 589.9,1417.9 590.8,1416.5 593.5,1413.6 594.2,1417.0 594.8,1417.5 595.4,1422.4 596.1,1424.4 596.3,1426.1 596.6,1431.6 596.9,1432.0 597.2,1436.6 597.5,1437.4 597.7,1442.4 598.0,1443.9 598.4,1439.4 598.7,1439.2 599.1,1434.4 599.5,1433.9 599.8,1429.3 600.2,1428.7 600.6,1424.4 600.7,1426.1 600.9,1430.8 601.1,1431.4 601.3,1435.7 601.5,1435.8 601.7,1441.1 601.9,1441.3 602.1,1445.9 602.3,1447.2 602.5,1451.1 602.7,1452.0 602.9,1455.6 603.2,1453.6 603.4,1450.0 603.7,1449.2 603.9,1444.6 604.2,1444.4 604.5,1438.6 604.7,1439.2 605.0,1433.1 605.2,1432.2 605.9,1435.7 606.5,1436.7 607.1,1441.5 607.8,1443.9 610.3,1447.8 611.1,1443.5 611.9,1443.0 612.7,1440.0 613.8,1435.3 615.0,1434.1 615.7,1438.0 616.3,1437.7 616.9,1442.5 617.6,1443.9 618.2,1445.8 618.8,1450.2 619.5,1450.7 620.1,1453.7 621.3,1457.9 622.4,1459.5 622.8,1455.9 623.2,1455.8 623.6,1450.3 624.0,1450.2 624.4,1445.5 624.8,1443.9 625.0,1442.4 625.3,1437.3 625.6,1437.6 625.8,1432.9 626.1,1432.9 626.3,1427.4 626.6,1427.1 626.8,1422.0 627.1,1422.7 627.3,1418.5 628.6,1414.5 629.9,1413.6 630.1,1416.7 630.3,1417.5 630.5,1422.8 630.7,1422.4 630.8,1427.1 631.0,1427.6 631.2,1432.4 631.4,1432.4 631.6,1437.7 631.8,1438.0 632.0,1442.3 632.2,1443.9 633.0,1440.4 633.8,1439.5 634.6,1436.1 635.4,1432.6 636.3,1432.5 637.1,1428.3 637.5,1424.6 637.9,1424.4 638.3,1419.3 638.7,1418.4 639.1,1414.6 639.7,1416.4 640.3,1420.0 641.0,1420.7 641.6,1424.4 642.8,1423.1 643.9,1418.5 644.2,1419.9 644.4,1425.4 644.6,1425.1 644.9,1430.8 645.1,1430.8 645.3,1435.8 645.6,1436.8 645.8,1440.8 646.1,1442.3 646.3,1445.9 646.5,1444.8 646.8,1440.0 647.0,1438.6 647.3,1434.1 647.5,1433.5 647.8,1428.8 648.0,1428.8 648.2,1424.4 648.7,1420.9 649.2,1420.0 649.7,1414.1 650.2,1412.6 650.8,1410.3 651.5,1406.1 652.1,1405.3 652.7,1400.9 653.4,1397.5 654.0,1397.1 654.7,1393.1 656.6,1389.2 657.0,1390.8 657.3,1394.9 657.6,1395.4 657.9,1400.3 658.3,1401.2 658.6,1404.8 658.9,1403.9 659.3,1398.0 659.6,1398.1 659.9,1393.8 660.2,1393.4 660.6,1389.2 661.2,1390.3 661.9,1395.9 662.5,1397.0 662.7,1398.3 662.9,1403.1 663.1,1403.5 663.3,1408.3 663.5,1408.9 663.7,1414.5 663.9,1414.9 664.1,1419.9 664.3,1420.0 664.5,1424.4 664.7,1428.5 665.0,1429.3 665.3,1433.5 665.6,1433.8 665.9,1439.8 666.1,1440.2 666.4,1443.9 667.1,1447.0 667.7,1447.4 668.3,1452.4 669.0,1453.7 671.3,1455.6 674.2,1453.7 675.7,1455.3 677.2,1459.5 680.1,1463.4 682.6,1467.3 683.0,1471.4 683.3,1471.4 683.6,1475.9 683.9,1477.3 684.3,1482.1 684.6,1483.0 684.9,1479.0 685.3,1479.0 685.6,1473.6 685.9,1473.6 686.3,1468.4 686.6,1467.5 686.9,1463.4 688.4,1465.0 689.9,1469.3 690.6,1468.3 691.3,1463.2 692.1,1463.6 692.8,1459.5 695.7,1455.6 698.7,1451.7 701.6,1455.6 704.5,1459.5 707.5,1463.4 708.2,1464.4 708.9,1469.7 709.7,1469.6 710.4,1473.2 713.3,1475.2 714.3,1478.8 715.3,1479.9 716.3,1483.0 719.2,1484.9 722.1,1483.0 725.0,1481.0 725.8,1479.3 726.5,1475.3 727.2,1474.1 728.0,1471.3 728.7,1468.4 729.4,1467.3 730.2,1463.0 730.9,1461.5 733.8,1459.5 736.8,1455.6 739.7,1453.7 740.4,1457.4 741.0,1459.8 741.7,1463.4 742.1,1467.4 742.4,1468.0 742.8,1473.0 743.2,1473.3 743.6,1478.1 744.0,1479.1 744.5,1480.7 745.0,1486.2 745.5,1486.8 746.0,1490.8 746.1,1489.3 746.2,1484.0 746.4,1484.4 746.5,1479.7 746.7,1479.6 746.8,1475.1 746.9,1474.3 747.1,1469.8 747.2,1469.3 747.4,1464.7 747.5,1464.2 747.6,1459.5 747.8,1459.5 747.9,1455.6 748.6,1456.9 749.2,1462.1 749.9,1463.4 750.2,1465.2 750.6,1469.4 751.0,1470.8 751.3,1476.1 751.7,1475.9 752.0,1480.8 752.4,1483.0 755.3,1484.9 756.0,1481.1 756.6,1479.1 757.3,1475.2 758.3,1477.2 759.3,1481.0 760.2,1483.0 763.2,1484.9 766.1,1483.0 767.4,1484.4 768.7,1488.6 770.0,1490.8 770.0,1490.8 772.9,1494.7 775.9,1492.8 778.8,1496.7 780.3,1498.5 781.7,1502.5 782.5,1501.0 783.3,1495.8 784.1,1494.7 784.7,1492.6 785.3,1487.8 786.0,1487.2 786.6,1483.0 787.6,1478.9 788.6,1479.2 789.5,1475.2 791.0,1477.3 792.5,1481.0 795.4,1484.9 798.3,1486.9 801.3,1490.8 802.2,1489.5 803.2,1484.0 804.2,1483.0 805.2,1481.5 806.2,1476.2 807.1,1475.2 808.1,1474.0 809.1,1468.8 810.1,1467.3 811.5,1465.4 813.0,1461.5 815.9,1457.6 818.9,1455.6 821.2,1453.7 821.8,1454.6 822.5,1459.0 823.1,1460.0 823.7,1463.4 826.7,1467.3 829.6,1471.3 832.5,1473.2 835.5,1475.2 838.4,1471.3 841.3,1467.3 844.3,1467.3 845.0,1465.4 845.7,1460.8 846.5,1459.8 847.2,1455.6 847.7,1452.2 848.2,1451.4 848.7,1446.4 849.2,1445.6 849.7,1441.9 850.3,1442.6 850.9,1448.4 851.5,1448.3 852.1,1451.7 852.7,1456.2 853.3,1456.6 853.8,1461.9 854.4,1463.4 855.3,1465.3 856.1,1470.0 857.0,1471.3 857.9,1466.9 858.9,1467.1 859.9,1463.4 862.8,1467.3 864.3,1469.7 865.8,1473.2 868.7,1475.2 871.6,1471.3 874.6,1467.3 875.8,1465.7 877.1,1460.5 878.3,1463.3 879.4,1467.3 882.4,1471.3 883.2,1469.1 884.1,1465.1 884.9,1463.4 885.0,1462.4 885.2,1457.4 885.3,1456.4 885.4,1452.3 885.6,1451.4 885.7,1446.0 885.8,1445.8 886.0,1441.8 886.1,1440.8 886.2,1435.7 886.4,1435.3 886.5,1430.8 886.6,1430.3 886.7,1426.5 886.9,1424.4 887.0,1423.3 887.2,1418.1 887.3,1417.9 887.5,1413.0 887.6,1412.1 887.8,1407.4 887.9,1406.5 888.1,1401.9 888.2,1400.9 888.4,1404.5 888.5,1405.3 888.7,1410.4 888.8,1409.6 889.0,1414.4 889.2,1415.6 889.3,1419.6 889.5,1420.1 889.6,1424.4 889.9,1427.6 890.2,1429.3 890.4,1433.4 890.7,1435.1 891.0,1439.8 891.3,1440.0 891.6,1443.9 892.2,1442.5 892.8,1436.4 893.5,1435.7 894.1,1432.2 894.5,1429.1 895.0,1427.7 895.4,1423.6 895.8,1422.8 896.2,1418.1 896.6,1416.5 897.4,1419.7 898.2,1420.6 899.0,1424.4 899.6,1427.6 900.2,1428.6 900.7,1432.4 901.3,1434.1 902.6,1436.4 903.9,1440.0 906.4,1443.9 906.9,1447.0 907.3,1448.0 907.8,1452.2 908.2,1453.5 908.7,1457.9 909.2,1459.5 909.5,1455.5 909.8,1455.5 910.1,1450.6 910.5,1450.5 910.8,1444.8 911.1,1443.9 912.0,1442.6 912.8,1437.9 913.6,1436.1 914.5,1434.1 915.3,1429.8 916.2,1428.3 916.6,1432.6 917.0,1432.8 917.4,1437.3 917.8,1437.1 918.1,1442.0 918.5,1443.9 919.2,1445.8 919.8,1450.2 920.5,1451.7 921.0,1454.1 921.5,1458.8 922.0,1459.0 922.4,1463.4 922.7,1461.8 923.0,1457.0 923.3,1456.7 923.6,1451.0 923.8,1449.9 924.1,1445.2 924.4,1443.9 924.6,1442.2 924.7,1438.2 924.9,1437.3 925.1,1432.3 925.2,1432.2 925.4,1427.4 925.6,1427.0 925.7,1421.5 925.9,1420.8 926.1,1416.6 926.2,1415.7 926.4,1410.3 926.6,1409.9 926.7,1406.8 927.4,1409.2 928.0,1413.9 928.7,1416.5 930.0,1418.7 931.2,1422.4 931.9,1420.6 932.5,1417.1 933.1,1416.8 933.8,1412.6 934.6,1414.5 935.3,1419.1 936.1,1420.4 936.7,1422.3 937.3,1426.7 937.9,1426.6 938.5,1430.2 939.1,1428.9 939.7,1423.6 940.4,1424.1 941.0,1420.4 941.2,1416.9 941.4,1416.4 941.6,1411.6 941.9,1411.4 942.1,1406.6 942.3,1405.5 942.5,1401.4 942.7,1400.0 942.9,1396.0 943.1,1394.9 943.3,1390.2 943.6,1389.2 943.9,1392.3 944.2,1392.9 944.5,1397.4 944.9,1397.9 945.2,1402.7 945.5,1404.8 945.8,1406.1 946.1,1411.8 946.3,1411.6 946.6,1417.4 946.9,1417.3 947.2,1422.5 947.5,1424.4 947.8,1425.4 948.1,1431.0 948.5,1431.1 948.8,1436.1 949.1,1437.8 949.5,1442.3 949.8,1443.9 952.7,1447.8 955.7,1451.7 956.3,1447.5 956.8,1447.6 957.4,1441.2 958.0,1440.0 958.2,1438.2 958.4,1433.0 958.7,1433.7 958.9,1428.7 959.1,1428.7 959.3,1423.8 959.5,1422.9 959.8,1417.6 960.0,1416.5 960.1,1419.7 960.2,1420.3 960.3,1425.4 960.4,1425.2 960.5,1430.3 960.6,1430.5 960.7,1435.7 960.8,1436.1 960.9,1441.5 961.1,1441.5 961.2,1446.7 961.3,1447.3 961.4,1450.8 961.5,1452.4 961.6,1456.4 961.7,1457.0 961.8,1462.0 961.9,1463.4 962.3,1465.4 962.7,1469.2 963.1,1470.7 963.5,1475.3 963.9,1476.1 964.1,1472.0 964.4,1471.7 964.6,1467.9 964.9,1467.2 965.1,1462.6 965.3,1462.0 965.6,1457.0 965.8,1455.6 966.5,1452.8 967.1,1447.3 967.8,1445.9 969.1,1450.0 970.3,1451.7 973.3,1449.8 974.7,1451.1 976.2,1455.6 977.5,1459.1 978.7,1461.5 981.1,1463.4 981.4,1459.6 981.7,1458.5 982.1,1453.9 982.4,1453.7 982.8,1447.8 983.1,1447.4 983.4,1443.9 983.6,1440.9 983.7,1440.4 983.8,1434.3 983.9,1435.1 984.1,1429.2 984.2,1429.4 984.3,1423.9 984.5,1424.2 984.6,1419.8 984.7,1418.6 984.9,1414.3 985.0,1414.0 985.1,1408.3 985.2,1408.1 985.4,1404.8 985.6,1400.8 985.9,1400.2 986.2,1395.7 986.4,1396.1 986.7,1390.4 986.9,1389.2 987.1,1393.3 987.2,1392.4 987.4,1398.3 987.5,1398.7 987.6,1403.1 987.8,1403.8 987.9,1408.1 988.1,1408.7 988.2,1412.9 988.3,1412.6 988.5,1417.4 988.6,1418.1 988.8,1423.6 988.9,1424.4 989.2,1421.1 989.5,1419.3 989.7,1415.5 990.0,1414.4 990.3,1408.7 990.6,1409.0 990.8,1404.8 991.0,1401.1 991.2,1400.1 991.4,1395.8 991.6,1395.7 991.8,1391.2 992.0,1391.1 992.2,1386.3 992.4,1385.5 992.6,1381.5 992.8,1379.4 992.9,1382.8 993.0,1383.2 993.1,1388.6 993.3,1388.8 993.4,1393.5 993.5,1393.6 993.6,1398.4 993.7,1399.6 993.8,1404.4 994.0,1404.2 994.1,1410.1 994.2,1410.7 994.3,1414.9 994.4,1415.2 994.5,1419.7 994.6,1420.5 994.8,1424.4 994.8,1428.3 994.9,1429.0 995.0,1433.5 995.1,1433.1 995.1,1438.5 995.2,1438.9 995.3,1443.0 995.4,1443.7 995.4,1448.0 995.5,1449.1 995.6,1453.1 995.6,1454.5 995.7,1459.4 995.8,1458.7 995.9,1463.8 995.9,1463.6 996.0,1469.6 996.1,1468.8 996.2,1474.8 996.2,1474.3 996.3,1478.1 996.8,1476.2 997.3,1470.5 997.7,1469.9 998.2,1465.0 998.7,1463.4 999.4,1462.5 1000.2,1457.7 1001.0,1455.6 1001.3,1454.3 1001.6,1448.5 1002.0,1449.1 1002.3,1444.0 1002.6,1442.7 1002.9,1438.5 1003.2,1437.5 1003.6,1434.1 1004.2,1436.0 1004.8,1439.7 1005.5,1440.5 1006.1,1443.9 1006.7,1448.0 1007.3,1448.2 1007.9,1454.3 1008.4,1455.6 1009.0,1451.1 1009.6,1451.0 1010.2,1445.1 1010.8,1443.9 1011.1,1442.9 1011.5,1437.5 1011.9,1436.7 1012.2,1432.2 1012.6,1430.6 1013.0,1425.6 1013.3,1424.4 1013.8,1422.5 1014.3,1416.8 1014.8,1416.9 1015.3,1412.6 1015.8,1414.2 1016.3,1419.1 1016.7,1420.0 1017.2,1424.4 1017.7,1422.7 1018.2,1417.2 1018.8,1417.9 1019.3,1411.8 1019.8,1410.7 1020.2,1414.6 1020.7,1415.5 1021.2,1419.3 1021.6,1420.7 1022.1,1424.4 1022.4,1428.1 1022.7,1428.5 1023.0,1434.0 1023.2,1433.8 1023.5,1440.0 1023.8,1440.5 1024.1,1443.9 1024.4,1441.8 1024.7,1437.6 1025.1,1437.0 1025.4,1431.1 1025.7,1431.2 1026.1,1425.3 1026.4,1424.4 1026.7,1423.0 1027.0,1418.2 1027.3,1417.4 1027.5,1412.8 1027.8,1412.4 1028.1,1407.9 1028.4,1405.8 1028.5,1409.7 1028.6,1409.9 1028.8,1414.7 1028.9,1414.9 1029.0,1419.4 1029.2,1420.6 1029.3,1424.2 1029.4,1425.5 1029.5,1430.3 1029.7,1430.1 1029.8,1434.5 1029.9,1434.9 1030.1,1439.2 1030.2,1440.9 1030.3,1443.9 1030.5,1447.0 1030.7,1448.3 1030.9,1452.9 1031.1,1453.1 1031.3,1458.7 1031.5,1458.9 1031.7,1463.6 1031.9,1465.3 1032.1,1469.8 1032.3,1471.3 1032.8,1473.7 1033.3,1478.1 1033.7,1478.4 1034.2,1483.0 1034.5,1486.2 1034.8,1487.2 1035.1,1491.6 1035.4,1491.8 1035.6,1497.0 1035.9,1496.5 1036.2,1500.8 1036.5,1501.3 1036.8,1505.5 1037.1,1503.7 1037.3,1499.6 1037.6,1498.7 1037.9,1493.7 1038.2,1493.5 1038.5,1489.6 1038.8,1489.1 1039.0,1483.9 1039.3,1483.0 1039.6,1480.9 1039.8,1477.0 1040.0,1476.1 1040.3,1471.3 1040.5,1471.0 1040.7,1466.0 1041.0,1465.2 1041.2,1459.8 1041.4,1458.7 1041.7,1455.6 1042.2,1452.0 1042.8,1451.3 1043.4,1445.9 1044.0,1443.9 1044.6,1442.1 1045.3,1437.3 1045.9,1435.9 1046.5,1432.2 1047.4,1433.4 1048.2,1437.8 1049.1,1440.0 1051.4,1443.9 1052.4,1445.2 1053.4,1449.6 1054.4,1451.7 1055.3,1453.5 1056.3,1458.7 1057.3,1459.5 1060.2,1463.4 1063.2,1467.3 1064.6,1469.3 1066.1,1473.2 1068.0,1477.8 1070.0,1479.1 1070.0,1483.0 1071.2,1484.9 1072.3,1488.8 1073.6,1492.3 1074.9,1494.7 1075.5,1490.4 1076.2,1490.0 1076.8,1484.7 1077.4,1483.0 1078.0,1481.7 1078.6,1476.1 1079.2,1475.9 1079.8,1471.3 1080.6,1466.9 1081.3,1467.7 1082.1,1463.4 1083.0,1459.3 1083.8,1459.0 1084.7,1455.6 1085.1,1452.2 1085.6,1450.4 1086.1,1445.7 1086.6,1443.9 1086.9,1448.5 1087.2,1448.9 1087.4,1452.8 1087.7,1453.5 1088.0,1458.6 1088.3,1460.1 1088.6,1463.4 1089.2,1461.9 1089.8,1456.1 1090.5,1456.2 1091.1,1451.7 1091.7,1447.9 1092.3,1446.9 1092.9,1441.6 1093.5,1440.0 1093.7,1443.8 1094.0,1444.2 1094.2,1449.2 1094.5,1449.5 1094.8,1454.5 1095.0,1454.4 1095.3,1459.5 1095.5,1460.4 1095.8,1463.4 1096.2,1462.1 1096.5,1456.1 1096.9,1456.0 1097.2,1451.6 1097.6,1450.4 1098.0,1445.5 1098.3,1443.9 1099.2,1447.1 1100.0,1448.1 1100.9,1451.7 1101.5,1450.8 1102.1,1445.5 1102.6,1445.6 1103.2,1441.9 1105.6,1438.0 1106.2,1434.9 1106.8,1434.3 1107.5,1430.2 1108.1,1428.3 1108.3,1426.6 1108.4,1421.3 1108.6,1422.1 1108.7,1416.7 1108.9,1415.6 1109.0,1411.1 1109.2,1411.3 1109.3,1405.7 1109.5,1404.8 1110.0,1402.6 1110.5,1396.7 1111.0,1395.0 1111.2,1398.7 1111.3,1399.6 1111.5,1404.3 1111.6,1405.3 1111.8,1410.1 1111.9,1409.8 1112.0,1414.2 1112.2,1414.6 1112.3,1420.1 1112.5,1421.2 1112.6,1424.4 1112.7,1428.2 1112.8,1429.1 1112.9,1433.6 1113.0,1434.1 1113.1,1438.1 1113.2,1438.8 1113.2,1443.7 1113.3,1443.5 1113.4,1448.6 1113.5,1448.6 1113.6,1454.6 1113.7,1455.0 1113.8,1458.7 1113.9,1460.4 1114.0,1463.4 1114.1,1467.6 1114.3,1468.3 1114.5,1472.0 1114.7,1472.6 1114.8,1478.3 1115.0,1478.5 1115.2,1483.9 1115.3,1484.9 1116.3,1480.2 1117.3,1479.1 1117.6,1477.5 1117.9,1472.2 1118.1,1471.8 1118.4,1467.9 1118.7,1466.6 1119.0,1462.4 1119.3,1462.2 1119.6,1456.6 1119.8,1455.6 1120.1,1453.5 1120.4,1448.6 1120.7,1447.6 1121.0,1443.8 1121.2,1443.4 1121.5,1437.7 1121.8,1436.1 1122.0,1439.3 1122.2,1440.3 1122.4,1444.9 1122.6,1445.6 1122.8,1450.2 1123.0,1451.7 1123.2,1456.4 1123.4,1456.9 1123.6,1461.8 1123.7,1463.4 1123.9,1459.7 1124.0,1458.8 1124.2,1454.5 1124.3,1453.8 1124.5,1448.6 1124.6,1448.7 1124.8,1444.7 1124.9,1443.3 1125.1,1438.4 1125.2,1437.6 1125.4,1432.7 1125.5,1433.6 1125.7,1429.2 1125.9,1430.5 1126.1,1436.0 1126.3,1435.8 1126.5,1440.5 1126.7,1441.2 1126.9,1446.3 1127.1,1447.0 1127.3,1451.0 1127.5,1451.8 1127.7,1455.6 1128.0,1458.7 1128.3,1459.4 1128.6,1464.5 1129.0,1465.6 1129.3,1469.6 1129.6,1471.3 1130.1,1473.7 1130.6,1478.2 1131.1,1478.3 1131.6,1483.0 1131.8,1481.3 1132.1,1475.8 1132.4,1475.4 1132.7,1470.4 1133.0,1470.0 1133.2,1464.6 1133.5,1463.4 1134.4,1462.3 1135.2,1456.6 1136.1,1455.6 1136.5,1454.3 1137.0,1448.9 1137.5,1448.1 1138.0,1443.9 1138.3,1445.5 1138.6,1450.8 1138.9,1450.9 1139.1,1456.3 1139.4,1457.3 1139.7,1462.0 1140.0,1463.4 1140.7,1464.4 1141.5,1469.6 1142.3,1471.3 1144.7,1475.2 1145.1,1470.6 1145.6,1470.1 1146.1,1465.4 1146.6,1463.4 1148.6,1459.5 1148.8,1462.7 1149.0,1463.4 1149.2,1468.7 1149.3,1468.7 1149.5,1474.6 1149.7,1475.1 1149.9,1480.2 1150.1,1479.9 1150.3,1484.8 1150.5,1486.9 1151.2,1489.0 1151.8,1493.7 1152.4,1495.3 1153.1,1498.6 1153.5,1497.7 1153.9,1492.5 1154.3,1491.5 1154.8,1486.7 1155.2,1487.0 1155.6,1483.0 1156.2,1478.6 1156.8,1478.6 1157.4,1472.8 1157.9,1471.3 1158.7,1469.3 1159.5,1465.6 1160.3,1463.4 1160.9,1467.8 1161.6,1467.7 1162.2,1472.9 1162.8,1475.2 1163.5,1476.3 1164.1,1481.3 1164.7,1481.7 1165.4,1484.9 1166.0,1484.2 1166.5,1479.1 1167.1,1478.7 1167.7,1475.2 1168.2,1476.6 1168.7,1481.4 1169.1,1482.8 1169.6,1487.2 1170.1,1488.8 1171.3,1485.0 1172.6,1483.0 1172.9,1481.3 1173.1,1476.7 1173.4,1475.4 1173.6,1470.8 1173.9,1470.4 1174.1,1466.0 1174.4,1464.3 1174.6,1459.3 1174.9,1460.1 1175.1,1455.6 1175.3,1452.6 1175.4,1452.0 1175.6,1446.8 1175.7,1446.4 1175.9,1442.4 1176.0,1441.0 1176.2,1437.0 1176.3,1436.2 1176.5,1431.5 1176.6,1431.0 1176.8,1426.6 1177.0,1426.4 1177.1,1422.4 1177.3,1424.1 1177.6,1429.0 1177.8,1429.8 1178.1,1434.5 1178.3,1434.4 1178.6,1439.0 1178.8,1439.5 1179.1,1443.9 1179.6,1448.1 1180.2,1448.0 1180.8,1454.3 1181.4,1455.6 1181.7,1456.8 1182.0,1462.9 1182.2,1462.5 1182.5,1468.1 1182.8,1469.1 1183.1,1472.9 1183.4,1475.2 1183.5,1471.0 1183.7,1471.4 1183.8,1466.1 1184.0,1466.4 1184.2,1461.2 1184.3,1461.0 1184.5,1456.0 1184.7,1455.5 1184.8,1451.0 1185.0,1450.2 1185.1,1445.0 1185.3,1443.9 1185.5,1441.8 1185.7,1437.0 1185.9,1437.3 1186.1,1431.5 1186.3,1431.7 1186.5,1427.1 1186.7,1426.5 1186.9,1422.4 1187.0,1423.9 1187.2,1428.4 1187.3,1428.8 1187.5,1433.9 1187.6,1434.4 1187.8,1439.2 1187.9,1439.7 1188.1,1443.7 1188.2,1444.1 1188.4,1448.6 1188.5,1449.3 1188.7,1454.0 1188.8,1455.6 1189.0,1457.9 1189.2,1461.5 1189.4,1462.6 1189.6,1467.0 1189.8,1468.1 1190.0,1472.9 1190.2,1473.7 1190.4,1478.7 1190.6,1478.7 1190.8,1483.0 1193.1,1486.9 1193.4,1484.8 1193.6,1480.6 1193.9,1480.7 1194.2,1475.4 1194.4,1475.2 1194.7,1470.5 1195.0,1469.9 1195.2,1464.4 1195.5,1463.4 1195.9,1462.5 1196.3,1457.0 1196.7,1456.0 1197.2,1451.9 1197.6,1451.2 1198.0,1447.8 1200.6,1443.9 1202.9,1441.9 1203.7,1438.1 1204.5,1438.1 1205.2,1434.1 1205.4,1430.7 1205.6,1429.4 1205.8,1425.6 1206.0,1425.2 1206.1,1419.7 1206.3,1419.7 1206.5,1415.1 1206.7,1414.5 1206.8,1409.0 1207.0,1408.5 1207.2,1404.8 1207.3,1401.0 1207.5,1400.7 1207.6,1395.8 1207.8,1395.9 1207.9,1391.2 1208.0,1391.0 1208.2,1385.5 1208.3,1385.3 1208.5,1381.3 1208.6,1381.1 1208.7,1376.0 1208.9,1375.5 1209.0,1371.1 1209.2,1369.6 1209.2,1372.9 1209.3,1374.5 1209.4,1379.1 1209.5,1378.3 1209.6,1383.8 1209.7,1383.9 1209.8,1389.4 1209.9,1388.9 1210.0,1394.6 1210.1,1395.3 1210.2,1399.6 1210.3,1400.3 1210.4,1405.2 1210.5,1404.4 1210.5,1410.2 1210.6,1410.4 1210.7,1415.3 1210.8,1415.9 1210.9,1419.6 1211.0,1420.3 1211.1,1424.4 1211.2,1428.7 1211.3,1428.0 1211.4,1433.4 1211.5,1433.7 1211.6,1438.7 1211.7,1439.1 1211.8,1444.0 1211.8,1444.7 1211.9,1449.9 1212.0,1450.0 1212.1,1454.9 1212.2,1455.3 1212.3,1459.1 1212.4,1459.7 1212.5,1465.3 1212.6,1466.2 1212.7,1469.3 1213.0,1468.3 1213.2,1463.3 1213.5,1462.2 1213.8,1457.7 1214.1,1456.5 1214.3,1451.7 1214.6,1449.8 1217.6,1451.7 1220.5,1455.6 1223.4,1459.5 1226.4,1463.4 1226.7,1467.3 1227.1,1468.1 1227.5,1471.7 1227.9,1472.4 1228.3,1477.1 1228.7,1479.1 1229.1,1475.8 1229.5,1474.5 1230.0,1470.1 1230.4,1469.5 1230.8,1465.3 1231.2,1463.4 1232.2,1461.8 1233.2,1457.8 1234.2,1455.6 1235.1,1453.8 1236.1,1448.8 1237.1,1447.8 1240.0,1451.7 1240.8,1456.1 1241.5,1455.8 1242.2,1461.9 1243.0,1463.4 1243.9,1464.6 1244.9,1470.2 1245.9,1471.3 1248.8,1475.2 1249.8,1471.3 1250.8,1470.4 1251.8,1467.3 1254.1,1463.4 1254.7,1465.2 1255.4,1469.8 1256.0,1471.3 1256.6,1475.2 1257.5,1479.0 1258.3,1479.7 1259.2,1483.0 1259.8,1487.4 1260.4,1488.1 1260.9,1493.1 1261.5,1494.7 1262.1,1491.3 1262.7,1490.2 1263.3,1486.2 1263.9,1484.9 1266.4,1483.0 1267.1,1486.7 1267.7,1487.2 1268.3,1490.9 1269.0,1492.8 1269.3,1489.3 1269.6,1488.8 1270.0,1483.8 1270.3,1483.7 1270.6,1479.4 1271.0,1478.3 1271.3,1475.2 1272.0,1470.5 1272.8,1471.1 1273.5,1464.9 1274.2,1463.4 1274.7,1461.9 1275.1,1457.8 1275.5,1456.3 1275.9,1451.7 1276.4,1452.0 1276.8,1447.8 1277.8,1443.6 1278.7,1441.9 1279.0,1446.0 1279.3,1445.7 1279.6,1451.5 1279.9,1452.0 1280.2,1456.8 1280.5,1457.3 1280.8,1462.4 1281.1,1463.4 1281.4,1464.9 1281.6,1469.8 1281.9,1471.4 1282.2,1475.8 1282.5,1476.0 1282.8,1480.8 1283.0,1483.0 1284.0,1485.2 1285.0,1488.8 1285.2,1487.6 1285.5,1483.4 1285.7,1481.7 1285.9,1478.2 1286.2,1477.8 1286.4,1472.9 1286.6,1472.7 1286.9,1467.1 1287.1,1466.4 1287.3,1463.4 1287.6,1465.0 1287.8,1469.5 1288.1,1470.9 1288.3,1475.3 1288.6,1476.2 1288.9,1481.2 1289.1,1481.4 1289.4,1486.2 1289.6,1487.4 1289.9,1490.8 1290.7,1489.1 1291.6,1483.9 1292.4,1483.0 1294.8,1479.1 1297.7,1483.0 1298.1,1486.5 1298.5,1487.0 1299.0,1492.6 1299.4,1492.5 1299.8,1497.0 1300.2,1498.6 1302.6,1502.5 1303.4,1504.5 1304.1,1508.5 1304.9,1510.3 1305.3,1507.3 1305.8,1506.0 1306.2,1501.3 1306.6,1500.7 1307.0,1496.2 1307.5,1494.7 1310.0,1490.8 1310.6,1488.5 1311.2,1483.5 1311.8,1482.6 1312.3,1479.1 1313.1,1474.8 1313.9,1474.8 1314.7,1471.3 1315.1,1467.3 1315.5,1466.2 1315.9,1461.5 1316.3,1460.8 1316.6,1457.6 1316.9,1459.9 1317.1,1464.4 1317.4,1464.5 1317.6,1469.5 1317.9,1470.1 1318.1,1474.4 1318.4,1474.7 1318.6,1479.1 1319.4,1477.1 1320.3,1472.7 1321.1,1471.3 1321.6,1474.8 1322.0,1475.5 1322.4,1479.6 1322.8,1480.2 1323.3,1485.0 1323.7,1486.9 1324.2,1488.4 1324.7,1494.0 1325.1,1494.5 1325.6,1498.6 1326.0,1502.1 1326.4,1503.3 1326.8,1507.8 1327.2,1509.1 1327.6,1512.3 1327.7,1510.6 1327.7,1505.5 1327.8,1505.2 1327.9,1501.6 1327.9,1500.7 1328.0,1496.3 1328.1,1495.6 1328.2,1490.4 1328.2,1489.6 1328.3,1485.2 1328.4,1485.4 1328.5,1480.0 1328.5,1479.8 1328.6,1475.0 1328.7,1475.3 1328.7,1470.3 1328.8,1470.4 1328.9,1465.2 1329.0,1463.4 1329.0,1462.2 1329.1,1457.4 1329.2,1456.8 1329.2,1452.8 1329.3,1451.4 1329.3,1447.3 1329.4,1446.7 1329.5,1442.6 1329.5,1442.6 1329.6,1437.3 1329.7,1436.9 1329.7,1431.6 1329.8,1431.9 1329.9,1427.2 1329.9,1426.4 1330.0,1422.5 1330.1,1421.5 1330.1,1416.5 1330.2,1416.5 1330.3,1411.9 1330.3,1410.7 1331.6,1414.8 1332.9,1416.5 1333.1,1418.0 1333.4,1423.2 1333.6,1423.9 1333.9,1428.2 1334.1,1428.8 1334.4,1434.0 1334.6,1433.9 1334.9,1439.6 1335.2,1439.6 1335.4,1443.9" fill="none" stroke="#0414d6" stroke-width="4.8" stroke-linejoin="round" stroke-linecap="round"/>
<line x1="171.7" y1="36.800000000000004" x2="171.7" y2="334.7" stroke="#000" stroke-width="7.6" stroke-linecap="butt"/>
<line x1="156.2" y1="40.6" x2="171.7" y2="40.6" stroke="#000" stroke-width="7.6" stroke-linecap="round"/>
<line x1="156.2" y1="113.17499999999998" x2="171.7" y2="113.17499999999998" stroke="#000" stroke-width="7.6" stroke-linecap="round"/>
<line x1="156.2" y1="185.74999999999997" x2="171.7" y2="185.74999999999997" stroke="#000" stroke-width="7.6" stroke-linecap="round"/>
<line x1="156.2" y1="258.325" x2="171.7" y2="258.325" stroke="#000" stroke-width="7.6" stroke-linecap="round"/>
<line x1="156.2" y1="330.9" x2="171.7" y2="330.9" stroke="#000" stroke-width="7.6" stroke-linecap="round"/>
<line x1="161.7" y1="76.88749999999999" x2="171.7" y2="76.88749999999999" stroke="#000" stroke-width="7.6" stroke-linecap="round"/>
<line x1="161.7" y1="149.46249999999998" x2="171.7" y2="149.46249999999998" stroke="#000" stroke-width="7.6" stroke-linecap="round"/>
<line x1="161.7" y1="222.03749999999997" x2="171.7" y2="222.03749999999997" stroke="#000" stroke-width="7.6" stroke-linecap="round"/>
<line x1="161.7" y1="294.61249999999995" x2="171.7" y2="294.61249999999995" stroke="#000" stroke-width="7.6" stroke-linecap="round"/>
<text class="b" transform="translate(128.5 45.5)" font-size="40.5" text-anchor="end" fill="#000">16</text>
<text class="b" transform="translate(128.5 119.0)" font-size="40.5" text-anchor="end" fill="#000">12</text>
<text class="b" transform="translate(128.5 193.5)" font-size="40.5" text-anchor="end" fill="#000">8</text>
<text class="b" transform="translate(128.5 266.0)" font-size="40.5" text-anchor="end" fill="#000">4</text>
<text class="b" transform="translate(128.5 339.5)" font-size="40.5" text-anchor="end" fill="#000">0</text>
<line x1="1339.5" y1="37.800000000000004" x2="1339.5" y2="335.1" stroke="#000" stroke-width="7.6" stroke-linecap="butt"/>
<line x1="1339.5" y1="41.6" x2="1354.5" y2="41.6" stroke="#000" stroke-width="7.6" stroke-linecap="round"/>
<line x1="1339.5" y1="138.16666666666666" x2="1354.5" y2="138.16666666666666" stroke="#000" stroke-width="7.6" stroke-linecap="round"/>
<line x1="1339.5" y1="234.73333333333332" x2="1354.5" y2="234.73333333333332" stroke="#000" stroke-width="7.6" stroke-linecap="round"/>
<line x1="1339.5" y1="331.3" x2="1354.5" y2="331.3" stroke="#000" stroke-width="7.6" stroke-linecap="round"/>
<line x1="1339.5" y1="89.88333333333333" x2="1349.5" y2="89.88333333333333" stroke="#000" stroke-width="7.6" stroke-linecap="round"/>
<line x1="1339.5" y1="186.45" x2="1349.5" y2="186.45" stroke="#000" stroke-width="7.6" stroke-linecap="round"/>
<line x1="1339.5" y1="283.01666666666665" x2="1349.5" y2="283.01666666666665" stroke="#000" stroke-width="7.6" stroke-linecap="round"/>
<text class="b" transform="translate(1383 47.3)" font-size="40.5" text-anchor="start" fill="#000">101</text>
<text class="b" transform="translate(1383 146.3)" font-size="40.5" text-anchor="start" fill="#000">100</text>
<text class="b" transform="translate(1383 241.8)" font-size="40.5" text-anchor="start" fill="#000">99</text>
<text class="b" transform="translate(1383 340.3)" font-size="40.5" text-anchor="start" fill="#000">98</text>
<text class="b" transform="translate(61 188) rotate(-90) scale(1.0094 1)" font-size="40" text-anchor="middle" fill="#000">Wind speed (knots)</text>
<text class="b" transform="translate(1494 187.5) rotate(-90) scale(0.98 1)" font-size="41" text-anchor="middle" fill="#000">Pressure</text>
<line x1="645.7" y1="51.5" x2="763.6" y2="51.5" stroke="#f20c16" stroke-width="4.2" stroke-linecap="butt"/>
<text class="r" transform="translate(790.7 57.5) scale(1.1183 1)" font-size="29" text-anchor="start" fill="#000" stroke="#000" stroke-width="0.9">wind</text>
<line x1="899.7" y1="51.5" x2="1016.6" y2="51.5" stroke="#000" stroke-width="4.2" stroke-linecap="butt"/>
<text class="r" transform="translate(1044.8 61) scale(1.1073 1)" font-size="29" text-anchor="start" fill="#000" stroke="#000" stroke-width="0.9">pressure chamber</text>
<line x1="168.7" y1="448.9" x2="168.7" y2="747.1999999999999" stroke="#000" stroke-width="7.6" stroke-linecap="butt"/>
<line x1="153.2" y1="452.7" x2="168.7" y2="452.7" stroke="#000" stroke-width="7.6" stroke-linecap="round"/>
<line x1="153.2" y1="501.15" x2="168.7" y2="501.15" stroke="#000" stroke-width="7.6" stroke-linecap="round"/>
<line x1="153.2" y1="549.6" x2="168.7" y2="549.6" stroke="#000" stroke-width="7.6" stroke-linecap="round"/>
<line x1="153.2" y1="598.05" x2="168.7" y2="598.05" stroke="#000" stroke-width="7.6" stroke-linecap="round"/>
<line x1="153.2" y1="646.5" x2="168.7" y2="646.5" stroke="#000" stroke-width="7.6" stroke-linecap="round"/>
<line x1="153.2" y1="694.95" x2="168.7" y2="694.95" stroke="#000" stroke-width="7.6" stroke-linecap="round"/>
<line x1="153.2" y1="743.4" x2="168.7" y2="743.4" stroke="#000" stroke-width="7.6" stroke-linecap="round"/>
<line x1="158.7" y1="476.925" x2="168.7" y2="476.925" stroke="#000" stroke-width="7.6" stroke-linecap="round"/>
<line x1="158.7" y1="525.375" x2="168.7" y2="525.375" stroke="#000" stroke-width="7.6" stroke-linecap="round"/>
<line x1="158.7" y1="573.825" x2="168.7" y2="573.825" stroke="#000" stroke-width="7.6" stroke-linecap="round"/>
<line x1="158.7" y1="622.275" x2="168.7" y2="622.275" stroke="#000" stroke-width="7.6" stroke-linecap="round"/>
<line x1="158.7" y1="670.7249999999999" x2="168.7" y2="670.7249999999999" stroke="#000" stroke-width="7.6" stroke-linecap="round"/>
<line x1="158.7" y1="719.175" x2="168.7" y2="719.175" stroke="#000" stroke-width="7.6" stroke-linecap="round"/>
<text class="b" transform="translate(124 460.0)" font-size="40.5" text-anchor="end" fill="#000">28</text>
<text class="b" transform="translate(124 509.0)" font-size="40.5" text-anchor="end" fill="#000">24</text>
<text class="b" transform="translate(124 557.0)" font-size="40.5" text-anchor="end" fill="#000">20</text>
<text class="b" transform="translate(124 606.0)" font-size="40.5" text-anchor="end" fill="#000">16</text>
<text class="b" transform="translate(124 654.5)" font-size="40.5" text-anchor="end" fill="#000">12</text>
<text class="b" transform="translate(124 703.0)" font-size="40.5" text-anchor="end" fill="#000">8</text>
<text class="b" transform="translate(124 750.5)" font-size="40.5" text-anchor="end" fill="#000">4</text>
<line x1="1339.5" y1="448.8" x2="1339.5" y2="747.0999999999999" stroke="#000" stroke-width="7.6" stroke-linecap="butt"/>
<line x1="1339.5" y1="452.6" x2="1354.5" y2="452.6" stroke="#000" stroke-width="7.6" stroke-linecap="round"/>
<line x1="1339.5" y1="549.5" x2="1354.5" y2="549.5" stroke="#000" stroke-width="7.6" stroke-linecap="round"/>
<line x1="1339.5" y1="646.4" x2="1354.5" y2="646.4" stroke="#000" stroke-width="7.6" stroke-linecap="round"/>
<line x1="1339.5" y1="743.3" x2="1354.5" y2="743.3" stroke="#000" stroke-width="7.6" stroke-linecap="round"/>
<line x1="1339.5" y1="501.05" x2="1349.5" y2="501.05" stroke="#000" stroke-width="7.6" stroke-linecap="round"/>
<line x1="1339.5" y1="597.95" x2="1349.5" y2="597.95" stroke="#000" stroke-width="7.6" stroke-linecap="round"/>
<line x1="1339.5" y1="694.8499999999999" x2="1349.5" y2="694.8499999999999" stroke="#000" stroke-width="7.6" stroke-linecap="round"/>
<text class="b" transform="translate(1383 458.8)" font-size="40.5" text-anchor="start" fill="#000">12</text>
<text class="b" transform="translate(1383 555.6999999999999)" font-size="40.5" text-anchor="start" fill="#000">8</text>
<text class="b" transform="translate(1383 653.3)" font-size="40.5" text-anchor="start" fill="#000">4</text>
<text class="b" transform="translate(1383 748.0)" font-size="40.5" text-anchor="start" fill="#000">0</text>
<text class="b" transform="translate(47.3 599) rotate(-90) scale(0.9672 1)" font-size="42" text-anchor="middle" fill="#000">Temperature (°C)</text>
<text class="b" transform="translate(1470.8 598.5) rotate(-90) scale(0.9588 1)" font-size="41" text-anchor="middle" fill="#000">Rainfall (mm)</text>
<line x1="206.6" y1="447.4" x2="321.8" y2="447.4" stroke="#0414d6" stroke-width="4.2" stroke-linecap="butt"/>
<text class="r" transform="translate(350.6 457.5) scale(1.1035 1)" font-size="29" text-anchor="start" fill="#000" stroke="#000" stroke-width="0.9">temperature air</text>
<line x1="612.5" y1="447.4" x2="728.7" y2="447.4" stroke="#000" stroke-width="4.2" stroke-linecap="butt"/>
<text class="r" transform="translate(755.8 457.5) scale(1.1133 1)" font-size="29" text-anchor="start" fill="#000" stroke="#000" stroke-width="0.9">temperature 10cm</text>
<rect x="1060.7" y="429.8" width="115.3" height="35.2" fill="#fb1622"/>
<text class="r" transform="translate(1205.4 452.5) scale(1.1214 1)" font-size="29" text-anchor="start" fill="#000" stroke="#000" stroke-width="0.9">rainfall</text>
<line x1="172" y1="852.3000000000001" x2="172" y2="1150.2" stroke="#000" stroke-width="7.6" stroke-linecap="butt"/>
<line x1="156.5" y1="856.1" x2="172" y2="856.1" stroke="#000" stroke-width="7.6" stroke-linecap="round"/>
<line x1="156.5" y1="914.1600000000001" x2="172" y2="914.1600000000001" stroke="#000" stroke-width="7.6" stroke-linecap="round"/>
<line x1="156.5" y1="972.22" x2="172" y2="972.22" stroke="#000" stroke-width="7.6" stroke-linecap="round"/>
<line x1="156.5" y1="1030.28" x2="172" y2="1030.28" stroke="#000" stroke-width="7.6" stroke-linecap="round"/>
<line x1="156.5" y1="1088.3400000000001" x2="172" y2="1088.3400000000001" stroke="#000" stroke-width="7.6" stroke-linecap="round"/>
<line x1="156.5" y1="1146.4" x2="172" y2="1146.4" stroke="#000" stroke-width="7.6" stroke-linecap="round"/>
<line x1="162" y1="885.13" x2="172" y2="885.13" stroke="#000" stroke-width="7.6" stroke-linecap="round"/>
<line x1="162" y1="943.19" x2="172" y2="943.19" stroke="#000" stroke-width="7.6" stroke-linecap="round"/>
<line x1="162" y1="1001.25" x2="172" y2="1001.25" stroke="#000" stroke-width="7.6" stroke-linecap="round"/>
<line x1="162" y1="1059.31" x2="172" y2="1059.31" stroke="#000" stroke-width="7.6" stroke-linecap="round"/>
<line x1="162" y1="1117.3700000000001" x2="172" y2="1117.3700000000001" stroke="#000" stroke-width="7.6" stroke-linecap="round"/>
<text class="b" transform="translate(128 864.2)" font-size="40.5" text-anchor="end" fill="#000">3</text>
<text class="b" transform="translate(128 921.9)" font-size="40.5" text-anchor="end" fill="#000">2.5</text>
<text class="b" transform="translate(128 980.1)" font-size="40.5" text-anchor="end" fill="#000">2</text>
<text class="b" transform="translate(128 1038.5)" font-size="40.5" text-anchor="end" fill="#000">1.5</text>
<text class="b" transform="translate(128 1096.5)" font-size="40.5" text-anchor="end" fill="#000">1</text>
<text class="b" transform="translate(128 1154.0)" font-size="40.5" text-anchor="end" fill="#000">0.5</text>
<line x1="1339.5" y1="852.8000000000001" x2="1339.5" y2="1150.8" stroke="#000" stroke-width="7.6" stroke-linecap="butt"/>
<line x1="1339.5" y1="856.6" x2="1354.5" y2="856.6" stroke="#000" stroke-width="7.6" stroke-linecap="round"/>
<line x1="1339.5" y1="914.6800000000001" x2="1354.5" y2="914.6800000000001" stroke="#000" stroke-width="7.6" stroke-linecap="round"/>
<line x1="1339.5" y1="972.76" x2="1354.5" y2="972.76" stroke="#000" stroke-width="7.6" stroke-linecap="round"/>
<line x1="1339.5" y1="1030.84" x2="1354.5" y2="1030.84" stroke="#000" stroke-width="7.6" stroke-linecap="round"/>
<line x1="1339.5" y1="1088.92" x2="1354.5" y2="1088.92" stroke="#000" stroke-width="7.6" stroke-linecap="round"/>
<line x1="1339.5" y1="1147.0" x2="1354.5" y2="1147.0" stroke="#000" stroke-width="7.6" stroke-linecap="round"/>
<line x1="1339.5" y1="885.64" x2="1349.5" y2="885.64" stroke="#000" stroke-width="7.6" stroke-linecap="round"/>
<line x1="1339.5" y1="943.72" x2="1349.5" y2="943.72" stroke="#000" stroke-width="7.6" stroke-linecap="round"/>
<line x1="1339.5" y1="1001.8" x2="1349.5" y2="1001.8" stroke="#000" stroke-width="7.6" stroke-linecap="round"/>
<line x1="1339.5" y1="1059.88" x2="1349.5" y2="1059.88" stroke="#000" stroke-width="7.6" stroke-linecap="round"/>
<line x1="1339.5" y1="1117.96" x2="1349.5" y2="1117.96" stroke="#000" stroke-width="7.6" stroke-linecap="round"/>
<text class="b" transform="translate(1383 864.3)" font-size="40.5" text-anchor="start" fill="#000">100</text>
<text class="b" transform="translate(1383 921.8)" font-size="40.5" text-anchor="start" fill="#000">80</text>
<text class="b" transform="translate(1383 980.0)" font-size="40.5" text-anchor="start" fill="#000">60</text>
<text class="b" transform="translate(1383 1038.3)" font-size="40.5" text-anchor="start" fill="#000">40</text>
<text class="b" transform="translate(1383 1096.1)" font-size="40.5" text-anchor="start" fill="#000">20</text>
<text class="b" transform="translate(1383 1153.8)" font-size="40.5" text-anchor="start" fill="#000">0</text>
<text class="b" transform="translate(27 1001.5) rotate(-90)" font-size="41" text-anchor="middle" style="word-spacing:-4.47px" xml:space="preserve">CO<tspan dy="9.4">2</tspan><tspan dy="-9.4"> conc. (%)</tspan></text>
<text class="b" transform="translate(1517 1003.5) rotate(-90)" font-size="40" text-anchor="middle" style="word-spacing:-0.35px" xml:space="preserve">CO<tspan dy="9.2">2</tspan><tspan dy="-9.2"> flux (g / m</tspan><tspan dy="-14.4">2</tspan><tspan dy="14.4"> d)</tspan></text>
<line x1="638.9" y1="880.3" x2="755.8" y2="880.3" stroke="#000" stroke-width="4.2" stroke-linecap="butt"/>
<text class="r" transform="translate(787.3 888) scale(1.0704 1)" font-size="29" text-anchor="start" fill="#000" stroke="#000" stroke-width="0.9">1.6m - probe</text>
<line x1="1007.5" y1="880.3" x2="1125" y2="880.3" stroke="#0414d6" stroke-width="4.2" stroke-linecap="butt"/>
<text class="r" transform="translate(1153.9 888) scale(1.0874 1)" font-size="29" text-anchor="start" fill="#000" stroke="#000" stroke-width="0.9">chamber 1</text>
<line x1="171.7" y1="1270.5" x2="171.7" y2="1593" stroke="#000" stroke-width="7.6" stroke-linecap="butt"/>
<line x1="171.7" y1="1590" x2="171.7" y2="1594" stroke="#000" stroke-width="7.6" stroke-linecap="round"/>
<line x1="141.5" y1="1273.2" x2="171.7" y2="1273.2" stroke="#000" stroke-width="7.6" stroke-linecap="round"/>
<line x1="141.5" y1="1345.95" x2="171.7" y2="1345.95" stroke="#000" stroke-width="7.6" stroke-linecap="round"/>
<line x1="141.5" y1="1418.7" x2="171.7" y2="1418.7" stroke="#000" stroke-width="7.6" stroke-linecap="round"/>
<line x1="141.5" y1="1491.45" x2="171.7" y2="1491.45" stroke="#000" stroke-width="7.6" stroke-linecap="round"/>
<line x1="141.5" y1="1564.2" x2="171.7" y2="1564.2" stroke="#000" stroke-width="7.6" stroke-linecap="round"/>
<line x1="157" y1="1309.575" x2="171.7" y2="1309.575" stroke="#000" stroke-width="7.6" stroke-linecap="round"/>
<line x1="157" y1="1382.325" x2="171.7" y2="1382.325" stroke="#000" stroke-width="7.6" stroke-linecap="round"/>
<line x1="157" y1="1455.075" x2="171.7" y2="1455.075" stroke="#000" stroke-width="7.6" stroke-linecap="round"/>
<line x1="157" y1="1527.825" x2="171.7" y2="1527.825" stroke="#000" stroke-width="7.6" stroke-linecap="round"/>
<text class="b" transform="translate(115 1282.5)" font-size="40.5" text-anchor="end" fill="#000">2.4</text>
<text class="b" transform="translate(115 1352.5)" font-size="40.5" text-anchor="end" fill="#000">2</text>
<text class="b" transform="translate(115 1426.9)" font-size="40.5" text-anchor="end" fill="#000">1.6</text>
<text class="b" transform="translate(115 1498.5)" font-size="40.5" text-anchor="end" fill="#000">1.2</text>
<text class="b" transform="translate(115 1572.5)" font-size="40.5" text-anchor="end" fill="#000">0.8</text>
<line x1="141.5" y1="1564.2" x2="1354.5" y2="1564.2" stroke="#000" stroke-width="8.2" stroke-linecap="round"/>
<line x1="1339.5" y1="1270.1000000000001" x2="1339.5" y2="1567.8" stroke="#000" stroke-width="7.6" stroke-linecap="butt"/>
<line x1="1339.5" y1="1273.9" x2="1354.5" y2="1273.9" stroke="#000" stroke-width="7.6" stroke-linecap="round"/>
<line x1="1339.5" y1="1346.4250000000002" x2="1354.5" y2="1346.4250000000002" stroke="#000" stroke-width="7.6" stroke-linecap="round"/>
<line x1="1339.5" y1="1418.95" x2="1354.5" y2="1418.95" stroke="#000" stroke-width="7.6" stroke-linecap="round"/>
<line x1="1339.5" y1="1491.475" x2="1354.5" y2="1491.475" stroke="#000" stroke-width="7.6" stroke-linecap="round"/>
<line x1="1339.5" y1="1310.1625000000001" x2="1349.5" y2="1310.1625000000001" stroke="#000" stroke-width="7.6" stroke-linecap="round"/>
<line x1="1339.5" y1="1382.6875" x2="1349.5" y2="1382.6875" stroke="#000" stroke-width="7.6" stroke-linecap="round"/>
<line x1="1339.5" y1="1455.2125" x2="1349.5" y2="1455.2125" stroke="#000" stroke-width="7.6" stroke-linecap="round"/>
<line x1="1339.5" y1="1527.7375" x2="1349.5" y2="1527.7375" stroke="#000" stroke-width="7.6" stroke-linecap="round"/>
<text class="b" transform="translate(1383 1280.3)" font-size="40.5" text-anchor="start" fill="#000">80</text>
<text class="b" transform="translate(1383 1353.6)" font-size="40.5" text-anchor="start" fill="#000">60</text>
<text class="b" transform="translate(1383 1426.8)" font-size="40.5" text-anchor="start" fill="#000">40</text>
<text class="b" transform="translate(1383 1500.0)" font-size="40.5" text-anchor="start" fill="#000">20</text>
<text class="b" transform="translate(1383 1571.1)" font-size="40.5" text-anchor="start" fill="#000">0</text>
<text class="b" transform="translate(30 1419) rotate(-90) scale(0.9643 1)" font-size="41" text-anchor="middle" fill="#000">CO2 conc. (%)</text>
<text class="b" transform="translate(1484.7 1420) rotate(-90)" font-size="41" text-anchor="middle" style="word-spacing:-3.60px" xml:space="preserve">CO<tspan dy="9.4">2</tspan><tspan dy="-9.4"> Flux (g/m</tspan><tspan dy="-14.8">2</tspan><tspan dy="14.8"> d)</tspan></text>
<line x1="646.3" y1="1290.4" x2="763.6" y2="1290.4" stroke="#000" stroke-width="4.2" stroke-linecap="butt"/>
<text class="r" transform="translate(792 1298) scale(1.0917 1)" font-size="29" text-anchor="start" fill="#000" stroke="#000" stroke-width="0.9">0.8m - probe</text>
<line x1="1015" y1="1290.4" x2="1132.9" y2="1290.4" stroke="#0414d6" stroke-width="4.2" stroke-linecap="butt"/>
<text class="r" transform="translate(1161.3 1298) scale(1.102 1)" font-size="29" text-anchor="start" fill="#000" stroke="#000" stroke-width="0.9">chamber 2</text>
<line x1="442" y1="1564.2" x2="442" y2="1594" stroke="#000" stroke-width="7.6" stroke-linecap="round"/>
<line x1="713.4" y1="1564.2" x2="713.4" y2="1594" stroke="#000" stroke-width="7.6" stroke-linecap="round"/>
<line x1="985" y1="1564.2" x2="985" y2="1594" stroke="#000" stroke-width="7.6" stroke-linecap="round"/>
<line x1="1255.5" y1="1564.2" x2="1255.5" y2="1594" stroke="#000" stroke-width="7.6" stroke-linecap="round"/>
<text class="b" transform="translate(172.8 1639) scale(1.0116 1)" font-size="39.5" text-anchor="middle" fill="#000">16/06</text>
<text class="b" transform="translate(442.5 1639) scale(1.0116 1)" font-size="39.5" text-anchor="middle" fill="#000">23/06</text>
<text class="b" transform="translate(713.6 1639) scale(1.0116 1)" font-size="39.5" text-anchor="middle" fill="#000">30/06</text>
<text class="b" transform="translate(985.5 1639) scale(1.0116 1)" font-size="39.5" text-anchor="middle" fill="#000">07/07</text>
<text class="b" transform="translate(1255.5 1639) scale(1.0116 1)" font-size="39.5" text-anchor="middle" fill="#000">14/07</text>
<text class="b" transform="translate(752.4 1721.2) scale(0.9879 1)" font-size="40.5" text-anchor="middle" fill="#000">Date (day / month)</text>
</g>
</svg>
</body>
</html>
